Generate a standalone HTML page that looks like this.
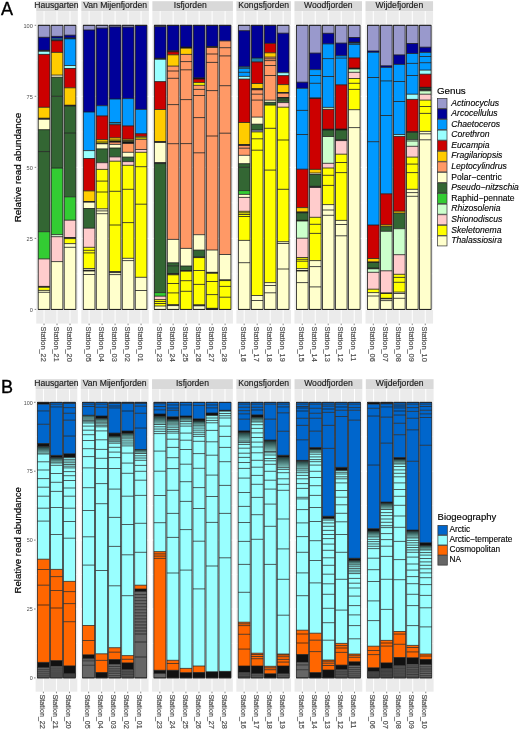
<!DOCTYPE html>
<html><head><meta charset="utf-8"><style>
html,body{margin:0;padding:0;background:#fff;}
svg{display:block;filter:blur(0.4px);}
text{font-family:'Liberation Sans', sans-serif;}
.st{font-size:8.6px;fill:#1a1a1a;stroke:#1a1a1a;stroke-width:0.15px;text-anchor:middle;}
.xl{font-size:7.4px;fill:#4d4d4d;stroke:#4d4d4d;stroke-width:0.18px;}
.yl{font-size:5.6px;fill:#4d4d4d;text-anchor:end;}
.lt{font-size:9.8px;fill:#000;stroke:#000;stroke-width:0.15px;}
.li{font-size:8.6px;fill:#000;stroke:#000;stroke-width:0.12px;}
.it{font-style:italic;}
.lb{font-size:8.3px;}
.lbt{font-size:9.5px;}
.tag{font-size:18px;fill:#000;stroke:#000;stroke-width:0.35px;}
.yt{font-size:9.3px;fill:#000;text-anchor:middle;stroke:#000;stroke-width:0.2px;}
.olA{stroke:#1a1a1a;stroke-width:0.8;fill:none;}
.olB{stroke:#1a1a1a;stroke-width:0.7;fill:none;}
</style></head><body>
<svg width="520" height="730" viewBox="0 0 520 730">
<defs><linearGradient id="tg" x1="0" y1="0" x2="0" y2="1"><stop offset="0" stop-color="#1e3a38"/><stop offset="1" stop-color="#7cc0bc"/></linearGradient></defs>
<rect width="520" height="730" fill="#fff"/>
<rect x="36.25" y="1.2" width="41.57" height="9.9" fill="#d9d9d9"/>
<text x="56.43" y="7.8" class="st">Hausgarten</text>
<rect x="36.25" y="11.1" width="41.57" height="312.5" fill="#ebebeb"/>
<line x1="36.25" x2="77.82" y1="273.89" y2="273.89" stroke="#fff" stroke-width="0.5"/>
<line x1="36.25" x2="77.82" y1="202.86" y2="202.86" stroke="#fff" stroke-width="0.5"/>
<line x1="36.25" x2="77.82" y1="131.84" y2="131.84" stroke="#fff" stroke-width="0.5"/>
<line x1="36.25" x2="77.82" y1="60.81" y2="60.81" stroke="#fff" stroke-width="0.5"/>
<line x1="36.25" x2="77.82" y1="309.4" y2="309.4" stroke="#fff" stroke-width="1"/>
<line x1="36.25" x2="77.82" y1="238.38" y2="238.38" stroke="#fff" stroke-width="1"/>
<line x1="36.25" x2="77.82" y1="167.35" y2="167.35" stroke="#fff" stroke-width="1"/>
<line x1="36.25" x2="77.82" y1="96.32" y2="96.32" stroke="#fff" stroke-width="1"/>
<line x1="36.25" x2="77.82" y1="25.3" y2="25.3" stroke="#fff" stroke-width="1"/>
<line x1="44.04" x2="44.04" y1="11.1" y2="323.6" stroke="#fff" stroke-width="1"/>
<line x1="57.03" x2="57.03" y1="11.1" y2="323.6" stroke="#fff" stroke-width="1"/>
<line x1="70.02" x2="70.02" y1="11.1" y2="323.6" stroke="#fff" stroke-width="1"/>
<rect x="38.2" y="25.3" width="11.69" height="12" fill="#9999cc"/>
<rect x="38.2" y="37.3" width="11.69" height="13" fill="#000099"/>
<rect x="38.2" y="50.3" width="11.69" height="1" fill="#111111"/>
<rect x="38.2" y="51.3" width="11.69" height="3.1" fill="#99ffff"/>
<rect x="38.2" y="54.4" width="11.69" height="52.9" fill="#cc0000"/>
<rect x="38.2" y="107.3" width="11.69" height="10.9" fill="#ffcc00"/>
<rect x="38.2" y="118.2" width="11.69" height="1.1" fill="#111111"/>
<rect x="38.2" y="119.3" width="11.69" height="10.4" fill="#ffffcc"/>
<rect x="38.2" y="129.7" width="11.69" height="21.9" fill="#336633"/>
<rect x="38.2" y="151.6" width="11.69" height="80.1" fill="#336633"/>
<rect x="38.2" y="231.7" width="11.69" height="27.2" fill="#33cc33"/>
<rect x="38.2" y="258.9" width="11.69" height="27.5" fill="#ffcccc"/>
<rect x="38.2" y="286.4" width="11.69" height="0.9" fill="#111111"/>
<rect x="38.2" y="287.3" width="11.69" height="3.1" fill="#ffff00"/>
<rect x="38.2" y="290.4" width="11.69" height="1.9" fill="#ffffcc"/>
<rect x="38.2" y="292.3" width="11.69" height="17.1" fill="#ffffcc"/>
<line x1="38.2" x2="49.89" y1="25.3" y2="25.3" class="olA"/>
<line x1="38.2" x2="49.89" y1="37.3" y2="37.3" class="olA"/>
<line x1="38.2" x2="49.89" y1="50.3" y2="50.3" class="olA"/>
<line x1="38.2" x2="49.89" y1="51.3" y2="51.3" class="olA"/>
<line x1="38.2" x2="49.89" y1="54.4" y2="54.4" class="olA"/>
<line x1="38.2" x2="49.89" y1="107.3" y2="107.3" class="olA"/>
<line x1="38.2" x2="49.89" y1="118.2" y2="118.2" class="olA"/>
<line x1="38.2" x2="49.89" y1="119.3" y2="119.3" class="olA"/>
<line x1="38.2" x2="49.89" y1="129.7" y2="129.7" class="olA"/>
<line x1="38.2" x2="49.89" y1="151.6" y2="151.6" class="olA"/>
<line x1="38.2" x2="49.89" y1="231.7" y2="231.7" class="olA"/>
<line x1="38.2" x2="49.89" y1="258.9" y2="258.9" class="olA"/>
<line x1="38.2" x2="49.89" y1="286.4" y2="286.4" class="olA"/>
<line x1="38.2" x2="49.89" y1="287.3" y2="287.3" class="olA"/>
<line x1="38.2" x2="49.89" y1="290.4" y2="290.4" class="olA"/>
<line x1="38.2" x2="49.89" y1="292.3" y2="292.3" class="olA"/>
<line x1="38.2" x2="49.89" y1="309.4" y2="309.4" class="olA"/>
<rect x="38.2" y="25.3" width="11.69" height="284.1" fill="none" class="olA"/>
<line x1="44.04" x2="44.04" y1="323.6" y2="325.2" stroke="#333" stroke-width="0.6"/>
<text class="xl" style="font-size:7.4px" transform="translate(40.84,326.5) rotate(90)">Station_22</text>
<rect x="51.19" y="25.3" width="11.69" height="11.1" fill="#9999cc"/>
<rect x="51.19" y="36.4" width="11.69" height="1.8" fill="#000099"/>
<rect x="51.19" y="38.2" width="11.69" height="1.6" fill="#0099ff"/>
<rect x="51.19" y="39.8" width="11.69" height="0.9" fill="#111111"/>
<rect x="51.19" y="40.7" width="11.69" height="11.7" fill="#cc0000"/>
<rect x="51.19" y="52.4" width="11.69" height="22.7" fill="#ffcc00"/>
<rect x="51.19" y="75.1" width="11.69" height="2.1" fill="#ffffcc"/>
<rect x="51.19" y="77.2" width="11.69" height="19.1" fill="#336633"/>
<rect x="51.19" y="96.3" width="11.69" height="71.8" fill="#336633"/>
<rect x="51.19" y="168.1" width="11.69" height="66.5" fill="#33cc33"/>
<rect x="51.19" y="234.6" width="11.69" height="2.1" fill="#ccffcc"/>
<rect x="51.19" y="236.7" width="11.69" height="24.9" fill="#ffcccc"/>
<rect x="51.19" y="261.6" width="11.69" height="47.8" fill="#ffffcc"/>
<line x1="51.19" x2="62.88" y1="25.3" y2="25.3" class="olA"/>
<line x1="51.19" x2="62.88" y1="36.4" y2="36.4" class="olA"/>
<line x1="51.19" x2="62.88" y1="38.2" y2="38.2" class="olA"/>
<line x1="51.19" x2="62.88" y1="39.8" y2="39.8" class="olA"/>
<line x1="51.19" x2="62.88" y1="40.7" y2="40.7" class="olA"/>
<line x1="51.19" x2="62.88" y1="52.4" y2="52.4" class="olA"/>
<line x1="51.19" x2="62.88" y1="75.1" y2="75.1" class="olA"/>
<line x1="51.19" x2="62.88" y1="77.2" y2="77.2" class="olA"/>
<line x1="51.19" x2="62.88" y1="96.3" y2="96.3" class="olA"/>
<line x1="51.19" x2="62.88" y1="168.1" y2="168.1" class="olA"/>
<line x1="51.19" x2="62.88" y1="234.6" y2="234.6" class="olA"/>
<line x1="51.19" x2="62.88" y1="236.7" y2="236.7" class="olA"/>
<line x1="51.19" x2="62.88" y1="261.6" y2="261.6" class="olA"/>
<line x1="51.19" x2="62.88" y1="309.4" y2="309.4" class="olA"/>
<rect x="51.19" y="25.3" width="11.69" height="284.1" fill="none" class="olA"/>
<line x1="57.03" x2="57.03" y1="323.6" y2="325.2" stroke="#333" stroke-width="0.6"/>
<text class="xl" style="font-size:7.4px" transform="translate(53.83,326.5) rotate(90)">Station_21</text>
<rect x="64.18" y="25.3" width="11.69" height="9.9" fill="#9999cc"/>
<rect x="64.18" y="35.2" width="11.69" height="2.7" fill="#000099"/>
<rect x="64.18" y="37.9" width="11.69" height="0.9" fill="#111111"/>
<rect x="64.18" y="38.8" width="11.69" height="26.7" fill="#0099ff"/>
<rect x="64.18" y="65.5" width="11.69" height="3" fill="#99ffff"/>
<rect x="64.18" y="68.5" width="11.69" height="19.3" fill="#cc0000"/>
<rect x="64.18" y="87.8" width="11.69" height="17.4" fill="#ffcc00"/>
<rect x="64.18" y="105.2" width="11.69" height="0.8" fill="#111111"/>
<rect x="64.18" y="106" width="11.69" height="27.1" fill="#336633"/>
<rect x="64.18" y="133.1" width="11.69" height="63.7" fill="#336633"/>
<rect x="64.18" y="196.8" width="11.69" height="23.4" fill="#33cc33"/>
<rect x="64.18" y="220.2" width="11.69" height="17.3" fill="#ffcccc"/>
<rect x="64.18" y="237.5" width="11.69" height="1.1" fill="#111111"/>
<rect x="64.18" y="238.6" width="11.69" height="5" fill="#ffff00"/>
<rect x="64.18" y="243.6" width="11.69" height="3.7" fill="#ffffcc"/>
<rect x="64.18" y="247.3" width="11.69" height="62.1" fill="#ffffcc"/>
<line x1="64.18" x2="75.87" y1="25.3" y2="25.3" class="olA"/>
<line x1="64.18" x2="75.87" y1="35.2" y2="35.2" class="olA"/>
<line x1="64.18" x2="75.87" y1="37.9" y2="37.9" class="olA"/>
<line x1="64.18" x2="75.87" y1="38.8" y2="38.8" class="olA"/>
<line x1="64.18" x2="75.87" y1="65.5" y2="65.5" class="olA"/>
<line x1="64.18" x2="75.87" y1="68.5" y2="68.5" class="olA"/>
<line x1="64.18" x2="75.87" y1="87.8" y2="87.8" class="olA"/>
<line x1="64.18" x2="75.87" y1="105.2" y2="105.2" class="olA"/>
<line x1="64.18" x2="75.87" y1="106" y2="106" class="olA"/>
<line x1="64.18" x2="75.87" y1="133.1" y2="133.1" class="olA"/>
<line x1="64.18" x2="75.87" y1="196.8" y2="196.8" class="olA"/>
<line x1="64.18" x2="75.87" y1="220.2" y2="220.2" class="olA"/>
<line x1="64.18" x2="75.87" y1="237.5" y2="237.5" class="olA"/>
<line x1="64.18" x2="75.87" y1="238.6" y2="238.6" class="olA"/>
<line x1="64.18" x2="75.87" y1="243.6" y2="243.6" class="olA"/>
<line x1="64.18" x2="75.87" y1="247.3" y2="247.3" class="olA"/>
<line x1="64.18" x2="75.87" y1="309.4" y2="309.4" class="olA"/>
<rect x="64.18" y="25.3" width="11.69" height="284.1" fill="none" class="olA"/>
<line x1="70.02" x2="70.02" y1="323.6" y2="325.2" stroke="#333" stroke-width="0.6"/>
<text class="xl" style="font-size:7.4px" transform="translate(66.82,326.5) rotate(90)">Station_20</text>
<rect x="81.32" y="1.2" width="67.55" height="9.9" fill="#d9d9d9"/>
<text x="115.09" y="7.8" class="st">Van Mijenfjorden</text>
<rect x="81.32" y="11.1" width="67.55" height="312.5" fill="#ebebeb"/>
<line x1="81.32" x2="148.87" y1="273.89" y2="273.89" stroke="#fff" stroke-width="0.5"/>
<line x1="81.32" x2="148.87" y1="202.86" y2="202.86" stroke="#fff" stroke-width="0.5"/>
<line x1="81.32" x2="148.87" y1="131.84" y2="131.84" stroke="#fff" stroke-width="0.5"/>
<line x1="81.32" x2="148.87" y1="60.81" y2="60.81" stroke="#fff" stroke-width="0.5"/>
<line x1="81.32" x2="148.87" y1="309.4" y2="309.4" stroke="#fff" stroke-width="1"/>
<line x1="81.32" x2="148.87" y1="238.38" y2="238.38" stroke="#fff" stroke-width="1"/>
<line x1="81.32" x2="148.87" y1="167.35" y2="167.35" stroke="#fff" stroke-width="1"/>
<line x1="81.32" x2="148.87" y1="96.32" y2="96.32" stroke="#fff" stroke-width="1"/>
<line x1="81.32" x2="148.87" y1="25.3" y2="25.3" stroke="#fff" stroke-width="1"/>
<line x1="89.11" x2="89.11" y1="11.1" y2="323.6" stroke="#fff" stroke-width="1"/>
<line x1="102.1" x2="102.1" y1="11.1" y2="323.6" stroke="#fff" stroke-width="1"/>
<line x1="115.09" x2="115.09" y1="11.1" y2="323.6" stroke="#fff" stroke-width="1"/>
<line x1="128.08" x2="128.08" y1="11.1" y2="323.6" stroke="#fff" stroke-width="1"/>
<line x1="141.07" x2="141.07" y1="11.1" y2="323.6" stroke="#fff" stroke-width="1"/>
<rect x="83.27" y="25.3" width="11.69" height="4.7" fill="#9999cc"/>
<rect x="83.27" y="30" width="11.69" height="82" fill="#000099"/>
<rect x="83.27" y="112" width="11.69" height="38.6" fill="#0099ff"/>
<rect x="83.27" y="150.6" width="11.69" height="7.9" fill="#99ffff"/>
<rect x="83.27" y="158.5" width="11.69" height="32.4" fill="#cc0000"/>
<rect x="83.27" y="190.9" width="11.69" height="10.6" fill="#ffcc00"/>
<rect x="83.27" y="201.5" width="11.69" height="0.7" fill="#111111"/>
<rect x="83.27" y="202.2" width="11.69" height="6.3" fill="#ffffcc"/>
<rect x="83.27" y="208.5" width="11.69" height="19.7" fill="#336633"/>
<rect x="83.27" y="228.2" width="11.69" height="19.1" fill="#ffcccc"/>
<rect x="83.27" y="247.3" width="11.69" height="3" fill="#ffff00"/>
<rect x="83.27" y="250.3" width="11.69" height="2.6" fill="#ffff00"/>
<rect x="83.27" y="252.9" width="11.69" height="15.6" fill="#ffff00"/>
<rect x="83.27" y="268.5" width="11.69" height="1.7" fill="#ffffcc"/>
<rect x="83.27" y="270.2" width="11.69" height="0.8" fill="#111111"/>
<rect x="83.27" y="271" width="11.69" height="3.5" fill="#ffffcc"/>
<rect x="83.27" y="274.5" width="11.69" height="34.9" fill="#ffffcc"/>
<line x1="83.27" x2="94.96" y1="25.3" y2="25.3" class="olA"/>
<line x1="83.27" x2="94.96" y1="30" y2="30" class="olA"/>
<line x1="83.27" x2="94.96" y1="112" y2="112" class="olA"/>
<line x1="83.27" x2="94.96" y1="150.6" y2="150.6" class="olA"/>
<line x1="83.27" x2="94.96" y1="158.5" y2="158.5" class="olA"/>
<line x1="83.27" x2="94.96" y1="190.9" y2="190.9" class="olA"/>
<line x1="83.27" x2="94.96" y1="201.5" y2="201.5" class="olA"/>
<line x1="83.27" x2="94.96" y1="202.2" y2="202.2" class="olA"/>
<line x1="83.27" x2="94.96" y1="208.5" y2="208.5" class="olA"/>
<line x1="83.27" x2="94.96" y1="228.2" y2="228.2" class="olA"/>
<line x1="83.27" x2="94.96" y1="247.3" y2="247.3" class="olA"/>
<line x1="83.27" x2="94.96" y1="250.3" y2="250.3" class="olA"/>
<line x1="83.27" x2="94.96" y1="252.9" y2="252.9" class="olA"/>
<line x1="83.27" x2="94.96" y1="268.5" y2="268.5" class="olA"/>
<line x1="83.27" x2="94.96" y1="270.2" y2="270.2" class="olA"/>
<line x1="83.27" x2="94.96" y1="271" y2="271" class="olA"/>
<line x1="83.27" x2="94.96" y1="274.5" y2="274.5" class="olA"/>
<line x1="83.27" x2="94.96" y1="309.4" y2="309.4" class="olA"/>
<rect x="83.27" y="25.3" width="11.69" height="284.1" fill="none" class="olA"/>
<line x1="89.11" x2="89.11" y1="323.6" y2="325.2" stroke="#333" stroke-width="0.6"/>
<text class="xl" style="font-size:7.4px" transform="translate(85.91,326.5) rotate(90)">Station_05</text>
<rect x="96.26" y="25.3" width="11.69" height="2.8" fill="#9999cc"/>
<rect x="96.26" y="28.1" width="11.69" height="77.6" fill="#000099"/>
<rect x="96.26" y="105.7" width="11.69" height="10.2" fill="#0099ff"/>
<rect x="96.26" y="115.9" width="11.69" height="23.7" fill="#cc0000"/>
<rect x="96.26" y="139.6" width="11.69" height="2.4" fill="#ffcc00"/>
<rect x="96.26" y="142" width="11.69" height="1.2" fill="#ffff00"/>
<rect x="96.26" y="143.2" width="11.69" height="0.6" fill="#111111"/>
<rect x="96.26" y="143.8" width="11.69" height="5.1" fill="#ffffcc"/>
<rect x="96.26" y="148.9" width="11.69" height="13.8" fill="#336633"/>
<rect x="96.26" y="162.7" width="11.69" height="6.7" fill="#ffcccc"/>
<rect x="96.26" y="169.4" width="11.69" height="11.7" fill="#ffff00"/>
<rect x="96.26" y="181.1" width="11.69" height="10.9" fill="#ffff00"/>
<rect x="96.26" y="192" width="11.69" height="16.8" fill="#ffff00"/>
<rect x="96.26" y="208.8" width="11.69" height="2.1" fill="#ffffcc"/>
<rect x="96.26" y="210.9" width="11.69" height="2.8" fill="#ffffcc"/>
<rect x="96.26" y="213.7" width="11.69" height="95.7" fill="#ffffcc"/>
<line x1="96.26" x2="107.95" y1="25.3" y2="25.3" class="olA"/>
<line x1="96.26" x2="107.95" y1="28.1" y2="28.1" class="olA"/>
<line x1="96.26" x2="107.95" y1="105.7" y2="105.7" class="olA"/>
<line x1="96.26" x2="107.95" y1="115.9" y2="115.9" class="olA"/>
<line x1="96.26" x2="107.95" y1="139.6" y2="139.6" class="olA"/>
<line x1="96.26" x2="107.95" y1="142" y2="142" class="olA"/>
<line x1="96.26" x2="107.95" y1="143.2" y2="143.2" class="olA"/>
<line x1="96.26" x2="107.95" y1="143.8" y2="143.8" class="olA"/>
<line x1="96.26" x2="107.95" y1="148.9" y2="148.9" class="olA"/>
<line x1="96.26" x2="107.95" y1="162.7" y2="162.7" class="olA"/>
<line x1="96.26" x2="107.95" y1="169.4" y2="169.4" class="olA"/>
<line x1="96.26" x2="107.95" y1="181.1" y2="181.1" class="olA"/>
<line x1="96.26" x2="107.95" y1="192" y2="192" class="olA"/>
<line x1="96.26" x2="107.95" y1="208.8" y2="208.8" class="olA"/>
<line x1="96.26" x2="107.95" y1="210.9" y2="210.9" class="olA"/>
<line x1="96.26" x2="107.95" y1="213.7" y2="213.7" class="olA"/>
<line x1="96.26" x2="107.95" y1="309.4" y2="309.4" class="olA"/>
<rect x="96.26" y="25.3" width="11.69" height="284.1" fill="none" class="olA"/>
<line x1="102.1" x2="102.1" y1="323.6" y2="325.2" stroke="#333" stroke-width="0.6"/>
<text class="xl" style="font-size:7.4px" transform="translate(98.9,326.5) rotate(90)">Station_04</text>
<rect x="109.25" y="25.3" width="11.69" height="1.6" fill="#9999cc"/>
<rect x="109.25" y="26.9" width="11.69" height="72.1" fill="#000099"/>
<rect x="109.25" y="99" width="11.69" height="23.5" fill="#0099ff"/>
<rect x="109.25" y="122.5" width="11.69" height="2.2" fill="#1a80aa"/>
<rect x="109.25" y="124.7" width="11.69" height="13.1" fill="#cc0000"/>
<rect x="109.25" y="137.8" width="11.69" height="2.2" fill="#ffcc00"/>
<rect x="109.25" y="140" width="11.69" height="1" fill="#ffff00"/>
<rect x="109.25" y="141" width="11.69" height="1.2" fill="#111111"/>
<rect x="109.25" y="142.2" width="11.69" height="2.2" fill="#ff9966"/>
<rect x="109.25" y="144.4" width="11.69" height="3.6" fill="#ffffcc"/>
<rect x="109.25" y="148" width="11.69" height="8.9" fill="#336633"/>
<rect x="109.25" y="156.9" width="11.69" height="4.3" fill="#ffcccc"/>
<rect x="109.25" y="161.2" width="11.69" height="30.1" fill="#ffff00"/>
<rect x="109.25" y="191.3" width="11.69" height="33.7" fill="#ffff00"/>
<rect x="109.25" y="225" width="11.69" height="46.6" fill="#ffff00"/>
<rect x="109.25" y="271.6" width="11.69" height="1" fill="#111111"/>
<rect x="109.25" y="272.6" width="11.69" height="2" fill="#ffffcc"/>
<rect x="109.25" y="274.6" width="11.69" height="34.8" fill="#ffffcc"/>
<line x1="109.25" x2="120.94" y1="25.3" y2="25.3" class="olA"/>
<line x1="109.25" x2="120.94" y1="26.9" y2="26.9" class="olA"/>
<line x1="109.25" x2="120.94" y1="99" y2="99" class="olA"/>
<line x1="109.25" x2="120.94" y1="122.5" y2="122.5" class="olA"/>
<line x1="109.25" x2="120.94" y1="124.7" y2="124.7" class="olA"/>
<line x1="109.25" x2="120.94" y1="137.8" y2="137.8" class="olA"/>
<line x1="109.25" x2="120.94" y1="140" y2="140" class="olA"/>
<line x1="109.25" x2="120.94" y1="141" y2="141" class="olA"/>
<line x1="109.25" x2="120.94" y1="142.2" y2="142.2" class="olA"/>
<line x1="109.25" x2="120.94" y1="144.4" y2="144.4" class="olA"/>
<line x1="109.25" x2="120.94" y1="148" y2="148" class="olA"/>
<line x1="109.25" x2="120.94" y1="156.9" y2="156.9" class="olA"/>
<line x1="109.25" x2="120.94" y1="161.2" y2="161.2" class="olA"/>
<line x1="109.25" x2="120.94" y1="191.3" y2="191.3" class="olA"/>
<line x1="109.25" x2="120.94" y1="225" y2="225" class="olA"/>
<line x1="109.25" x2="120.94" y1="271.6" y2="271.6" class="olA"/>
<line x1="109.25" x2="120.94" y1="272.6" y2="272.6" class="olA"/>
<line x1="109.25" x2="120.94" y1="274.6" y2="274.6" class="olA"/>
<line x1="109.25" x2="120.94" y1="309.4" y2="309.4" class="olA"/>
<rect x="109.25" y="25.3" width="11.69" height="284.1" fill="none" class="olA"/>
<line x1="115.09" x2="115.09" y1="323.6" y2="325.2" stroke="#333" stroke-width="0.6"/>
<text class="xl" style="font-size:7.4px" transform="translate(111.89,326.5) rotate(90)">Station_03</text>
<rect x="122.24" y="25.3" width="11.69" height="1.8" fill="#9999cc"/>
<rect x="122.24" y="27.1" width="11.69" height="71.5" fill="#000099"/>
<rect x="122.24" y="98.6" width="11.69" height="27.3" fill="#0099ff"/>
<rect x="122.24" y="125.9" width="11.69" height="13.3" fill="#cc0000"/>
<rect x="122.24" y="139.2" width="11.69" height="1.3" fill="#ffcc00"/>
<rect x="122.24" y="140.5" width="11.69" height="1.1" fill="#ffff00"/>
<rect x="122.24" y="141.6" width="11.69" height="1.9" fill="#111111"/>
<rect x="122.24" y="143.5" width="11.69" height="8.8" fill="#ff9966"/>
<rect x="122.24" y="152.3" width="11.69" height="4.8" fill="#ffffcc"/>
<rect x="122.24" y="157.1" width="11.69" height="4.5" fill="#336633"/>
<rect x="122.24" y="161.6" width="11.69" height="3.7" fill="#ffcccc"/>
<rect x="122.24" y="165.3" width="11.69" height="24" fill="#ffff00"/>
<rect x="122.24" y="189.3" width="11.69" height="33.3" fill="#ffff00"/>
<rect x="122.24" y="222.6" width="11.69" height="35.7" fill="#ffff00"/>
<rect x="122.24" y="258.3" width="11.69" height="2.3" fill="#ffffcc"/>
<rect x="122.24" y="260.6" width="11.69" height="48.8" fill="#ffffcc"/>
<line x1="122.24" x2="133.93" y1="25.3" y2="25.3" class="olA"/>
<line x1="122.24" x2="133.93" y1="27.1" y2="27.1" class="olA"/>
<line x1="122.24" x2="133.93" y1="98.6" y2="98.6" class="olA"/>
<line x1="122.24" x2="133.93" y1="125.9" y2="125.9" class="olA"/>
<line x1="122.24" x2="133.93" y1="139.2" y2="139.2" class="olA"/>
<line x1="122.24" x2="133.93" y1="140.5" y2="140.5" class="olA"/>
<line x1="122.24" x2="133.93" y1="141.6" y2="141.6" class="olA"/>
<line x1="122.24" x2="133.93" y1="143.5" y2="143.5" class="olA"/>
<line x1="122.24" x2="133.93" y1="152.3" y2="152.3" class="olA"/>
<line x1="122.24" x2="133.93" y1="157.1" y2="157.1" class="olA"/>
<line x1="122.24" x2="133.93" y1="161.6" y2="161.6" class="olA"/>
<line x1="122.24" x2="133.93" y1="165.3" y2="165.3" class="olA"/>
<line x1="122.24" x2="133.93" y1="189.3" y2="189.3" class="olA"/>
<line x1="122.24" x2="133.93" y1="222.6" y2="222.6" class="olA"/>
<line x1="122.24" x2="133.93" y1="258.3" y2="258.3" class="olA"/>
<line x1="122.24" x2="133.93" y1="260.6" y2="260.6" class="olA"/>
<line x1="122.24" x2="133.93" y1="309.4" y2="309.4" class="olA"/>
<rect x="122.24" y="25.3" width="11.69" height="284.1" fill="none" class="olA"/>
<line x1="128.08" x2="128.08" y1="323.6" y2="325.2" stroke="#333" stroke-width="0.6"/>
<text class="xl" style="font-size:7.4px" transform="translate(124.88,326.5) rotate(90)">Station_02</text>
<rect x="135.23" y="25.3" width="11.69" height="84.1" fill="#000099"/>
<rect x="135.23" y="109.4" width="11.69" height="24.3" fill="#0099ff"/>
<rect x="135.23" y="133.7" width="11.69" height="2.7" fill="#cc0000"/>
<rect x="135.23" y="136.4" width="11.69" height="1.4" fill="#ffcc00"/>
<rect x="135.23" y="137.8" width="11.69" height="1.5" fill="#ffff00"/>
<rect x="135.23" y="139.3" width="11.69" height="10.2" fill="#ff9966"/>
<rect x="135.23" y="149.5" width="11.69" height="2.8" fill="#ffcccc"/>
<rect x="135.23" y="152.3" width="11.69" height="14.4" fill="#ffff00"/>
<rect x="135.23" y="166.7" width="11.69" height="37.5" fill="#ffff00"/>
<rect x="135.23" y="204.2" width="11.69" height="73.1" fill="#ffff00"/>
<rect x="135.23" y="277.3" width="11.69" height="13.2" fill="#ffffcc"/>
<rect x="135.23" y="290.5" width="11.69" height="18.9" fill="#ffffcc"/>
<line x1="135.23" x2="146.92" y1="25.3" y2="25.3" class="olA"/>
<line x1="135.23" x2="146.92" y1="109.4" y2="109.4" class="olA"/>
<line x1="135.23" x2="146.92" y1="133.7" y2="133.7" class="olA"/>
<line x1="135.23" x2="146.92" y1="136.4" y2="136.4" class="olA"/>
<line x1="135.23" x2="146.92" y1="137.8" y2="137.8" class="olA"/>
<line x1="135.23" x2="146.92" y1="139.3" y2="139.3" class="olA"/>
<line x1="135.23" x2="146.92" y1="149.5" y2="149.5" class="olA"/>
<line x1="135.23" x2="146.92" y1="152.3" y2="152.3" class="olA"/>
<line x1="135.23" x2="146.92" y1="166.7" y2="166.7" class="olA"/>
<line x1="135.23" x2="146.92" y1="204.2" y2="204.2" class="olA"/>
<line x1="135.23" x2="146.92" y1="277.3" y2="277.3" class="olA"/>
<line x1="135.23" x2="146.92" y1="290.5" y2="290.5" class="olA"/>
<line x1="135.23" x2="146.92" y1="309.4" y2="309.4" class="olA"/>
<rect x="135.23" y="25.3" width="11.69" height="284.1" fill="none" class="olA"/>
<line x1="141.07" x2="141.07" y1="323.6" y2="325.2" stroke="#333" stroke-width="0.6"/>
<text class="xl" style="font-size:7.4px" transform="translate(137.87,326.5) rotate(90)">Station_01</text>
<rect x="152.37" y="1.2" width="80.54" height="9.9" fill="#d9d9d9"/>
<text x="190.24" y="7.8" class="st">Isfjorden</text>
<rect x="152.37" y="11.1" width="80.54" height="312.5" fill="#ebebeb"/>
<line x1="152.37" x2="232.9" y1="273.89" y2="273.89" stroke="#fff" stroke-width="0.5"/>
<line x1="152.37" x2="232.9" y1="202.86" y2="202.86" stroke="#fff" stroke-width="0.5"/>
<line x1="152.37" x2="232.9" y1="131.84" y2="131.84" stroke="#fff" stroke-width="0.5"/>
<line x1="152.37" x2="232.9" y1="60.81" y2="60.81" stroke="#fff" stroke-width="0.5"/>
<line x1="152.37" x2="232.9" y1="309.4" y2="309.4" stroke="#fff" stroke-width="1"/>
<line x1="152.37" x2="232.9" y1="238.38" y2="238.38" stroke="#fff" stroke-width="1"/>
<line x1="152.37" x2="232.9" y1="167.35" y2="167.35" stroke="#fff" stroke-width="1"/>
<line x1="152.37" x2="232.9" y1="96.32" y2="96.32" stroke="#fff" stroke-width="1"/>
<line x1="152.37" x2="232.9" y1="25.3" y2="25.3" stroke="#fff" stroke-width="1"/>
<line x1="160.16" x2="160.16" y1="11.1" y2="323.6" stroke="#fff" stroke-width="1"/>
<line x1="173.15" x2="173.15" y1="11.1" y2="323.6" stroke="#fff" stroke-width="1"/>
<line x1="186.14" x2="186.14" y1="11.1" y2="323.6" stroke="#fff" stroke-width="1"/>
<line x1="199.13" x2="199.13" y1="11.1" y2="323.6" stroke="#fff" stroke-width="1"/>
<line x1="212.12" x2="212.12" y1="11.1" y2="323.6" stroke="#fff" stroke-width="1"/>
<line x1="225.11" x2="225.11" y1="11.1" y2="323.6" stroke="#fff" stroke-width="1"/>
<rect x="154.31" y="25.3" width="11.69" height="1.3" fill="#9999cc"/>
<rect x="154.31" y="26.6" width="11.69" height="31.7" fill="#000099"/>
<rect x="154.31" y="58.3" width="11.69" height="1" fill="#111111"/>
<rect x="154.31" y="59.3" width="11.69" height="22.3" fill="#99ffff"/>
<rect x="154.31" y="81.6" width="11.69" height="27.9" fill="#cc0000"/>
<rect x="154.31" y="109.5" width="11.69" height="32" fill="#ffcc00"/>
<rect x="154.31" y="141.5" width="11.69" height="1" fill="#111111"/>
<rect x="154.31" y="142.5" width="11.69" height="20.1" fill="#ffffcc"/>
<rect x="154.31" y="162.6" width="11.69" height="1" fill="#111111"/>
<rect x="154.31" y="163.6" width="11.69" height="129" fill="#336633"/>
<rect x="154.31" y="292.6" width="11.69" height="3.6" fill="#33cc33"/>
<rect x="154.31" y="296.2" width="11.69" height="3.4" fill="#ffcccc"/>
<rect x="154.31" y="299.6" width="11.69" height="1.9" fill="#ffff00"/>
<rect x="154.31" y="301.5" width="11.69" height="2" fill="#ffff00"/>
<rect x="154.31" y="303.5" width="11.69" height="2.5" fill="#ffff00"/>
<rect x="154.31" y="306" width="11.69" height="3.4" fill="#ffffcc"/>
<line x1="154.31" x2="166.01" y1="25.3" y2="25.3" class="olA"/>
<line x1="154.31" x2="166.01" y1="26.6" y2="26.6" class="olA"/>
<line x1="154.31" x2="166.01" y1="58.3" y2="58.3" class="olA"/>
<line x1="154.31" x2="166.01" y1="59.3" y2="59.3" class="olA"/>
<line x1="154.31" x2="166.01" y1="81.6" y2="81.6" class="olA"/>
<line x1="154.31" x2="166.01" y1="109.5" y2="109.5" class="olA"/>
<line x1="154.31" x2="166.01" y1="141.5" y2="141.5" class="olA"/>
<line x1="154.31" x2="166.01" y1="142.5" y2="142.5" class="olA"/>
<line x1="154.31" x2="166.01" y1="162.6" y2="162.6" class="olA"/>
<line x1="154.31" x2="166.01" y1="163.6" y2="163.6" class="olA"/>
<line x1="154.31" x2="166.01" y1="292.6" y2="292.6" class="olA"/>
<line x1="154.31" x2="166.01" y1="296.2" y2="296.2" class="olA"/>
<line x1="154.31" x2="166.01" y1="299.6" y2="299.6" class="olA"/>
<line x1="154.31" x2="166.01" y1="301.5" y2="301.5" class="olA"/>
<line x1="154.31" x2="166.01" y1="303.5" y2="303.5" class="olA"/>
<line x1="154.31" x2="166.01" y1="306" y2="306" class="olA"/>
<line x1="154.31" x2="166.01" y1="309.4" y2="309.4" class="olA"/>
<rect x="154.31" y="25.3" width="11.69" height="284.1" fill="none" class="olA"/>
<line x1="160.16" x2="160.16" y1="323.6" y2="325.2" stroke="#333" stroke-width="0.6"/>
<text class="xl" style="font-size:7.4px" transform="translate(156.96,326.5) rotate(90)">Station_23</text>
<rect x="167.3" y="25.3" width="11.69" height="25.5" fill="#000099"/>
<rect x="167.3" y="50.8" width="11.69" height="1" fill="#111111"/>
<rect x="167.3" y="51.8" width="11.69" height="3" fill="#cc0000"/>
<rect x="167.3" y="54.8" width="11.69" height="11.3" fill="#ffcc00"/>
<rect x="167.3" y="66.1" width="11.69" height="4.9" fill="#ff9966"/>
<rect x="167.3" y="71" width="11.69" height="7.3" fill="#ff9966"/>
<rect x="167.3" y="78.3" width="11.69" height="26.3" fill="#ff9966"/>
<rect x="167.3" y="104.6" width="11.69" height="39.1" fill="#ff9966"/>
<rect x="167.3" y="143.7" width="11.69" height="95.7" fill="#ff9966"/>
<rect x="167.3" y="239.4" width="11.69" height="23.4" fill="#ffffcc"/>
<rect x="167.3" y="262.8" width="11.69" height="3" fill="#336633"/>
<rect x="167.3" y="265.8" width="11.69" height="7.7" fill="#336633"/>
<rect x="167.3" y="273.5" width="11.69" height="1.3" fill="#111111"/>
<rect x="167.3" y="274.8" width="11.69" height="8.7" fill="#ffff00"/>
<rect x="167.3" y="283.5" width="11.69" height="9.4" fill="#ffff00"/>
<rect x="167.3" y="292.9" width="11.69" height="11.8" fill="#ffff00"/>
<rect x="167.3" y="304.7" width="11.69" height="0.9" fill="#111111"/>
<rect x="167.3" y="305.6" width="11.69" height="3.8" fill="#ffffcc"/>
<line x1="167.3" x2="179" y1="25.3" y2="25.3" class="olA"/>
<line x1="167.3" x2="179" y1="50.8" y2="50.8" class="olA"/>
<line x1="167.3" x2="179" y1="51.8" y2="51.8" class="olA"/>
<line x1="167.3" x2="179" y1="54.8" y2="54.8" class="olA"/>
<line x1="167.3" x2="179" y1="66.1" y2="66.1" class="olA"/>
<line x1="167.3" x2="179" y1="71" y2="71" class="olA"/>
<line x1="167.3" x2="179" y1="78.3" y2="78.3" class="olA"/>
<line x1="167.3" x2="179" y1="104.6" y2="104.6" class="olA"/>
<line x1="167.3" x2="179" y1="143.7" y2="143.7" class="olA"/>
<line x1="167.3" x2="179" y1="239.4" y2="239.4" class="olA"/>
<line x1="167.3" x2="179" y1="262.8" y2="262.8" class="olA"/>
<line x1="167.3" x2="179" y1="265.8" y2="265.8" class="olA"/>
<line x1="167.3" x2="179" y1="273.5" y2="273.5" class="olA"/>
<line x1="167.3" x2="179" y1="274.8" y2="274.8" class="olA"/>
<line x1="167.3" x2="179" y1="283.5" y2="283.5" class="olA"/>
<line x1="167.3" x2="179" y1="292.9" y2="292.9" class="olA"/>
<line x1="167.3" x2="179" y1="304.7" y2="304.7" class="olA"/>
<line x1="167.3" x2="179" y1="305.6" y2="305.6" class="olA"/>
<line x1="167.3" x2="179" y1="309.4" y2="309.4" class="olA"/>
<rect x="167.3" y="25.3" width="11.69" height="284.1" fill="none" class="olA"/>
<line x1="173.15" x2="173.15" y1="323.6" y2="325.2" stroke="#333" stroke-width="0.6"/>
<text class="xl" style="font-size:7.4px" transform="translate(169.95,326.5) rotate(90)">Station_24</text>
<rect x="180.29" y="25.3" width="11.69" height="21.7" fill="#000099"/>
<rect x="180.29" y="47" width="11.69" height="1.2" fill="#111111"/>
<rect x="180.29" y="48.2" width="11.69" height="6.2" fill="#ffcc00"/>
<rect x="180.29" y="54.4" width="11.69" height="7.2" fill="#ff9966"/>
<rect x="180.29" y="61.6" width="11.69" height="8.2" fill="#ff9966"/>
<rect x="180.29" y="69.8" width="11.69" height="29.8" fill="#ff9966"/>
<rect x="180.29" y="99.6" width="11.69" height="44" fill="#ff9966"/>
<rect x="180.29" y="143.6" width="11.69" height="104.8" fill="#ff9966"/>
<rect x="180.29" y="248.4" width="11.69" height="17.6" fill="#ffffcc"/>
<rect x="180.29" y="266" width="11.69" height="4.5" fill="#336633"/>
<rect x="180.29" y="270.5" width="11.69" height="0.7" fill="#111111"/>
<rect x="180.29" y="271.2" width="11.69" height="9.5" fill="#ffff00"/>
<rect x="180.29" y="280.7" width="11.69" height="10.6" fill="#ffff00"/>
<rect x="180.29" y="291.3" width="11.69" height="18.1" fill="#ffff00"/>
<line x1="180.29" x2="191.99" y1="25.3" y2="25.3" class="olA"/>
<line x1="180.29" x2="191.99" y1="47" y2="47" class="olA"/>
<line x1="180.29" x2="191.99" y1="48.2" y2="48.2" class="olA"/>
<line x1="180.29" x2="191.99" y1="54.4" y2="54.4" class="olA"/>
<line x1="180.29" x2="191.99" y1="61.6" y2="61.6" class="olA"/>
<line x1="180.29" x2="191.99" y1="69.8" y2="69.8" class="olA"/>
<line x1="180.29" x2="191.99" y1="99.6" y2="99.6" class="olA"/>
<line x1="180.29" x2="191.99" y1="143.6" y2="143.6" class="olA"/>
<line x1="180.29" x2="191.99" y1="248.4" y2="248.4" class="olA"/>
<line x1="180.29" x2="191.99" y1="266" y2="266" class="olA"/>
<line x1="180.29" x2="191.99" y1="270.5" y2="270.5" class="olA"/>
<line x1="180.29" x2="191.99" y1="271.2" y2="271.2" class="olA"/>
<line x1="180.29" x2="191.99" y1="280.7" y2="280.7" class="olA"/>
<line x1="180.29" x2="191.99" y1="291.3" y2="291.3" class="olA"/>
<line x1="180.29" x2="191.99" y1="309.4" y2="309.4" class="olA"/>
<rect x="180.29" y="25.3" width="11.69" height="284.1" fill="none" class="olA"/>
<line x1="186.14" x2="186.14" y1="323.6" y2="325.2" stroke="#333" stroke-width="0.6"/>
<text class="xl" style="font-size:7.4px" transform="translate(182.94,326.5) rotate(90)">Station_25</text>
<rect x="193.28" y="25.3" width="11.69" height="52.6" fill="#000099"/>
<rect x="193.28" y="77.9" width="11.69" height="1.1" fill="#111111"/>
<rect x="193.28" y="79" width="11.69" height="3.6" fill="#cc0000"/>
<rect x="193.28" y="82.6" width="11.69" height="2.7" fill="#ffff00"/>
<rect x="193.28" y="85.3" width="11.69" height="4.1" fill="#ff9966"/>
<rect x="193.28" y="89.4" width="11.69" height="6.1" fill="#ff9966"/>
<rect x="193.28" y="95.5" width="11.69" height="22.1" fill="#ff9966"/>
<rect x="193.28" y="117.6" width="11.69" height="35.2" fill="#ff9966"/>
<rect x="193.28" y="152.8" width="11.69" height="81.9" fill="#ff9966"/>
<rect x="193.28" y="234.7" width="11.69" height="15.4" fill="#ffffcc"/>
<rect x="193.28" y="250.1" width="11.69" height="6.8" fill="#336633"/>
<rect x="193.28" y="256.9" width="11.69" height="0.7" fill="#111111"/>
<rect x="193.28" y="257.6" width="11.69" height="12.9" fill="#ffff00"/>
<rect x="193.28" y="270.5" width="11.69" height="13.9" fill="#ffff00"/>
<rect x="193.28" y="284.4" width="11.69" height="20.4" fill="#ffff00"/>
<rect x="193.28" y="304.8" width="11.69" height="1" fill="#111111"/>
<rect x="193.28" y="305.8" width="11.69" height="3.6" fill="#ffffcc"/>
<line x1="193.28" x2="204.98" y1="25.3" y2="25.3" class="olA"/>
<line x1="193.28" x2="204.98" y1="77.9" y2="77.9" class="olA"/>
<line x1="193.28" x2="204.98" y1="79" y2="79" class="olA"/>
<line x1="193.28" x2="204.98" y1="82.6" y2="82.6" class="olA"/>
<line x1="193.28" x2="204.98" y1="85.3" y2="85.3" class="olA"/>
<line x1="193.28" x2="204.98" y1="89.4" y2="89.4" class="olA"/>
<line x1="193.28" x2="204.98" y1="95.5" y2="95.5" class="olA"/>
<line x1="193.28" x2="204.98" y1="117.6" y2="117.6" class="olA"/>
<line x1="193.28" x2="204.98" y1="152.8" y2="152.8" class="olA"/>
<line x1="193.28" x2="204.98" y1="234.7" y2="234.7" class="olA"/>
<line x1="193.28" x2="204.98" y1="250.1" y2="250.1" class="olA"/>
<line x1="193.28" x2="204.98" y1="256.9" y2="256.9" class="olA"/>
<line x1="193.28" x2="204.98" y1="257.6" y2="257.6" class="olA"/>
<line x1="193.28" x2="204.98" y1="270.5" y2="270.5" class="olA"/>
<line x1="193.28" x2="204.98" y1="284.4" y2="284.4" class="olA"/>
<line x1="193.28" x2="204.98" y1="304.8" y2="304.8" class="olA"/>
<line x1="193.28" x2="204.98" y1="305.8" y2="305.8" class="olA"/>
<line x1="193.28" x2="204.98" y1="309.4" y2="309.4" class="olA"/>
<rect x="193.28" y="25.3" width="11.69" height="284.1" fill="none" class="olA"/>
<line x1="199.13" x2="199.13" y1="323.6" y2="325.2" stroke="#333" stroke-width="0.6"/>
<text class="xl" style="font-size:7.4px" transform="translate(195.93,326.5) rotate(90)">Station_26</text>
<rect x="206.27" y="25.3" width="11.69" height="21.2" fill="#000099"/>
<rect x="206.27" y="46.5" width="11.69" height="1" fill="#111111"/>
<rect x="206.27" y="47.5" width="11.69" height="6.5" fill="#ff9966"/>
<rect x="206.27" y="54" width="11.69" height="8.4" fill="#ff9966"/>
<rect x="206.27" y="62.4" width="11.69" height="28.2" fill="#ff9966"/>
<rect x="206.27" y="90.6" width="11.69" height="45.4" fill="#ff9966"/>
<rect x="206.27" y="136" width="11.69" height="114" fill="#ff9966"/>
<rect x="206.27" y="250" width="11.69" height="22.3" fill="#ffffcc"/>
<rect x="206.27" y="272.3" width="11.69" height="1" fill="#111111"/>
<rect x="206.27" y="273.3" width="11.69" height="8.2" fill="#ffff00"/>
<rect x="206.27" y="281.5" width="11.69" height="13.1" fill="#ffff00"/>
<rect x="206.27" y="294.6" width="11.69" height="13.7" fill="#ffff00"/>
<rect x="206.27" y="308.3" width="11.69" height="1.1" fill="#111111"/>
<line x1="206.27" x2="217.97" y1="25.3" y2="25.3" class="olA"/>
<line x1="206.27" x2="217.97" y1="46.5" y2="46.5" class="olA"/>
<line x1="206.27" x2="217.97" y1="47.5" y2="47.5" class="olA"/>
<line x1="206.27" x2="217.97" y1="54" y2="54" class="olA"/>
<line x1="206.27" x2="217.97" y1="62.4" y2="62.4" class="olA"/>
<line x1="206.27" x2="217.97" y1="90.6" y2="90.6" class="olA"/>
<line x1="206.27" x2="217.97" y1="136" y2="136" class="olA"/>
<line x1="206.27" x2="217.97" y1="250" y2="250" class="olA"/>
<line x1="206.27" x2="217.97" y1="272.3" y2="272.3" class="olA"/>
<line x1="206.27" x2="217.97" y1="273.3" y2="273.3" class="olA"/>
<line x1="206.27" x2="217.97" y1="281.5" y2="281.5" class="olA"/>
<line x1="206.27" x2="217.97" y1="294.6" y2="294.6" class="olA"/>
<line x1="206.27" x2="217.97" y1="308.3" y2="308.3" class="olA"/>
<line x1="206.27" x2="217.97" y1="309.4" y2="309.4" class="olA"/>
<rect x="206.27" y="25.3" width="11.69" height="284.1" fill="none" class="olA"/>
<line x1="212.12" x2="212.12" y1="323.6" y2="325.2" stroke="#333" stroke-width="0.6"/>
<text class="xl" style="font-size:7.4px" transform="translate(208.92,326.5) rotate(90)">Station_27</text>
<rect x="219.26" y="25.3" width="11.69" height="15.6" fill="#000099"/>
<rect x="219.26" y="40.9" width="11.69" height="6.8" fill="#ff9966"/>
<rect x="219.26" y="47.7" width="11.69" height="8.2" fill="#ff9966"/>
<rect x="219.26" y="55.9" width="11.69" height="29.8" fill="#ff9966"/>
<rect x="219.26" y="85.7" width="11.69" height="47.5" fill="#ff9966"/>
<rect x="219.26" y="133.2" width="11.69" height="121.3" fill="#ff9966"/>
<rect x="219.26" y="254.5" width="11.69" height="25.3" fill="#ffffcc"/>
<rect x="219.26" y="279.8" width="11.69" height="0.8" fill="#111111"/>
<rect x="219.26" y="280.6" width="11.69" height="5.8" fill="#ffff00"/>
<rect x="219.26" y="286.4" width="11.69" height="10.8" fill="#ffff00"/>
<rect x="219.26" y="297.2" width="11.69" height="12.2" fill="#ffff00"/>
<line x1="219.26" x2="230.96" y1="25.3" y2="25.3" class="olA"/>
<line x1="219.26" x2="230.96" y1="40.9" y2="40.9" class="olA"/>
<line x1="219.26" x2="230.96" y1="47.7" y2="47.7" class="olA"/>
<line x1="219.26" x2="230.96" y1="55.9" y2="55.9" class="olA"/>
<line x1="219.26" x2="230.96" y1="85.7" y2="85.7" class="olA"/>
<line x1="219.26" x2="230.96" y1="133.2" y2="133.2" class="olA"/>
<line x1="219.26" x2="230.96" y1="254.5" y2="254.5" class="olA"/>
<line x1="219.26" x2="230.96" y1="279.8" y2="279.8" class="olA"/>
<line x1="219.26" x2="230.96" y1="280.6" y2="280.6" class="olA"/>
<line x1="219.26" x2="230.96" y1="286.4" y2="286.4" class="olA"/>
<line x1="219.26" x2="230.96" y1="297.2" y2="297.2" class="olA"/>
<line x1="219.26" x2="230.96" y1="309.4" y2="309.4" class="olA"/>
<rect x="219.26" y="25.3" width="11.69" height="284.1" fill="none" class="olA"/>
<line x1="225.11" x2="225.11" y1="323.6" y2="325.2" stroke="#333" stroke-width="0.6"/>
<text class="xl" style="font-size:7.4px" transform="translate(221.91,326.5) rotate(90)">Station_28</text>
<rect x="236.4" y="1.2" width="54.56" height="9.9" fill="#d9d9d9"/>
<text x="263.68" y="7.8" class="st">Kongsfjorden</text>
<rect x="236.4" y="11.1" width="54.56" height="312.5" fill="#ebebeb"/>
<line x1="236.4" x2="290.96" y1="273.89" y2="273.89" stroke="#fff" stroke-width="0.5"/>
<line x1="236.4" x2="290.96" y1="202.86" y2="202.86" stroke="#fff" stroke-width="0.5"/>
<line x1="236.4" x2="290.96" y1="131.84" y2="131.84" stroke="#fff" stroke-width="0.5"/>
<line x1="236.4" x2="290.96" y1="60.81" y2="60.81" stroke="#fff" stroke-width="0.5"/>
<line x1="236.4" x2="290.96" y1="309.4" y2="309.4" stroke="#fff" stroke-width="1"/>
<line x1="236.4" x2="290.96" y1="238.38" y2="238.38" stroke="#fff" stroke-width="1"/>
<line x1="236.4" x2="290.96" y1="167.35" y2="167.35" stroke="#fff" stroke-width="1"/>
<line x1="236.4" x2="290.96" y1="96.32" y2="96.32" stroke="#fff" stroke-width="1"/>
<line x1="236.4" x2="290.96" y1="25.3" y2="25.3" stroke="#fff" stroke-width="1"/>
<line x1="244.2" x2="244.2" y1="11.1" y2="323.6" stroke="#fff" stroke-width="1"/>
<line x1="257.19" x2="257.19" y1="11.1" y2="323.6" stroke="#fff" stroke-width="1"/>
<line x1="270.18" x2="270.18" y1="11.1" y2="323.6" stroke="#fff" stroke-width="1"/>
<line x1="283.17" x2="283.17" y1="11.1" y2="323.6" stroke="#fff" stroke-width="1"/>
<rect x="238.35" y="25.3" width="11.69" height="5.4" fill="#9999cc"/>
<rect x="238.35" y="30.7" width="11.69" height="36.1" fill="#000099"/>
<rect x="238.35" y="66.8" width="11.69" height="1.5" fill="#1a80aa"/>
<rect x="238.35" y="68.3" width="11.69" height="4" fill="#0099ff"/>
<rect x="238.35" y="72.3" width="11.69" height="4.1" fill="#0099ff"/>
<rect x="238.35" y="76.4" width="11.69" height="2.7" fill="#99ffff"/>
<rect x="238.35" y="79.1" width="11.69" height="43.4" fill="#cc0000"/>
<rect x="238.35" y="122.5" width="11.69" height="22" fill="#ffcc00"/>
<rect x="238.35" y="144.5" width="11.69" height="1" fill="#111111"/>
<rect x="238.35" y="145.5" width="11.69" height="2.7" fill="#ff9966"/>
<rect x="238.35" y="148.2" width="11.69" height="7.1" fill="#ff9966"/>
<rect x="238.35" y="155.3" width="11.69" height="8.4" fill="#ffffcc"/>
<rect x="238.35" y="163.7" width="11.69" height="3.6" fill="#336633"/>
<rect x="238.35" y="167.3" width="11.69" height="23.3" fill="#336633"/>
<rect x="238.35" y="190.6" width="11.69" height="3.8" fill="#33cc33"/>
<rect x="238.35" y="194.4" width="11.69" height="3" fill="#ffffcc"/>
<rect x="238.35" y="197.4" width="11.69" height="13.9" fill="#ffcccc"/>
<rect x="238.35" y="211.3" width="11.69" height="1.5" fill="#ffff00"/>
<rect x="238.35" y="212.8" width="11.69" height="1.7" fill="#ffff00"/>
<rect x="238.35" y="214.5" width="11.69" height="2" fill="#ffff00"/>
<rect x="238.35" y="216.5" width="11.69" height="23.9" fill="#ffff00"/>
<rect x="238.35" y="240.4" width="11.69" height="22.3" fill="#ffffcc"/>
<rect x="238.35" y="262.7" width="11.69" height="46.7" fill="#ffffcc"/>
<line x1="238.35" x2="250.04" y1="25.3" y2="25.3" class="olA"/>
<line x1="238.35" x2="250.04" y1="30.7" y2="30.7" class="olA"/>
<line x1="238.35" x2="250.04" y1="66.8" y2="66.8" class="olA"/>
<line x1="238.35" x2="250.04" y1="68.3" y2="68.3" class="olA"/>
<line x1="238.35" x2="250.04" y1="72.3" y2="72.3" class="olA"/>
<line x1="238.35" x2="250.04" y1="76.4" y2="76.4" class="olA"/>
<line x1="238.35" x2="250.04" y1="79.1" y2="79.1" class="olA"/>
<line x1="238.35" x2="250.04" y1="122.5" y2="122.5" class="olA"/>
<line x1="238.35" x2="250.04" y1="144.5" y2="144.5" class="olA"/>
<line x1="238.35" x2="250.04" y1="145.5" y2="145.5" class="olA"/>
<line x1="238.35" x2="250.04" y1="148.2" y2="148.2" class="olA"/>
<line x1="238.35" x2="250.04" y1="155.3" y2="155.3" class="olA"/>
<line x1="238.35" x2="250.04" y1="163.7" y2="163.7" class="olA"/>
<line x1="238.35" x2="250.04" y1="167.3" y2="167.3" class="olA"/>
<line x1="238.35" x2="250.04" y1="190.6" y2="190.6" class="olA"/>
<line x1="238.35" x2="250.04" y1="194.4" y2="194.4" class="olA"/>
<line x1="238.35" x2="250.04" y1="197.4" y2="197.4" class="olA"/>
<line x1="238.35" x2="250.04" y1="211.3" y2="211.3" class="olA"/>
<line x1="238.35" x2="250.04" y1="212.8" y2="212.8" class="olA"/>
<line x1="238.35" x2="250.04" y1="214.5" y2="214.5" class="olA"/>
<line x1="238.35" x2="250.04" y1="216.5" y2="216.5" class="olA"/>
<line x1="238.35" x2="250.04" y1="240.4" y2="240.4" class="olA"/>
<line x1="238.35" x2="250.04" y1="262.7" y2="262.7" class="olA"/>
<line x1="238.35" x2="250.04" y1="309.4" y2="309.4" class="olA"/>
<rect x="238.35" y="25.3" width="11.69" height="284.1" fill="none" class="olA"/>
<line x1="244.2" x2="244.2" y1="323.6" y2="325.2" stroke="#333" stroke-width="0.6"/>
<text class="xl" style="font-size:7.4px" transform="translate(241,326.5) rotate(90)">Station_16</text>
<rect x="251.34" y="25.3" width="11.69" height="32.8" fill="#000099"/>
<rect x="251.34" y="58.1" width="11.69" height="3.8" fill="#1a80aa"/>
<rect x="251.34" y="61.9" width="11.69" height="21.6" fill="#cc0000"/>
<rect x="251.34" y="83.5" width="11.69" height="5.1" fill="#ffcc00"/>
<rect x="251.34" y="88.6" width="11.69" height="1.2" fill="#111111"/>
<rect x="251.34" y="89.8" width="11.69" height="4.4" fill="#ff9966"/>
<rect x="251.34" y="94.2" width="11.69" height="5.9" fill="#ff9966"/>
<rect x="251.34" y="100.1" width="11.69" height="17" fill="#ff9966"/>
<rect x="251.34" y="117.1" width="11.69" height="7.1" fill="#ffffcc"/>
<rect x="251.34" y="124.2" width="11.69" height="5.8" fill="#336633"/>
<rect x="251.34" y="130" width="11.69" height="1.9" fill="#9999cc"/>
<rect x="251.34" y="131.9" width="11.69" height="6.9" fill="#ffff00"/>
<rect x="251.34" y="138.8" width="11.69" height="11.4" fill="#ffff00"/>
<rect x="251.34" y="150.2" width="11.69" height="145.3" fill="#ffff00"/>
<rect x="251.34" y="295.5" width="11.69" height="5" fill="#ffffcc"/>
<rect x="251.34" y="300.5" width="11.69" height="8.9" fill="#ffffcc"/>
<line x1="251.34" x2="263.03" y1="25.3" y2="25.3" class="olA"/>
<line x1="251.34" x2="263.03" y1="58.1" y2="58.1" class="olA"/>
<line x1="251.34" x2="263.03" y1="61.9" y2="61.9" class="olA"/>
<line x1="251.34" x2="263.03" y1="83.5" y2="83.5" class="olA"/>
<line x1="251.34" x2="263.03" y1="88.6" y2="88.6" class="olA"/>
<line x1="251.34" x2="263.03" y1="89.8" y2="89.8" class="olA"/>
<line x1="251.34" x2="263.03" y1="94.2" y2="94.2" class="olA"/>
<line x1="251.34" x2="263.03" y1="100.1" y2="100.1" class="olA"/>
<line x1="251.34" x2="263.03" y1="117.1" y2="117.1" class="olA"/>
<line x1="251.34" x2="263.03" y1="124.2" y2="124.2" class="olA"/>
<line x1="251.34" x2="263.03" y1="130" y2="130" class="olA"/>
<line x1="251.34" x2="263.03" y1="131.9" y2="131.9" class="olA"/>
<line x1="251.34" x2="263.03" y1="138.8" y2="138.8" class="olA"/>
<line x1="251.34" x2="263.03" y1="150.2" y2="150.2" class="olA"/>
<line x1="251.34" x2="263.03" y1="295.5" y2="295.5" class="olA"/>
<line x1="251.34" x2="263.03" y1="300.5" y2="300.5" class="olA"/>
<line x1="251.34" x2="263.03" y1="309.4" y2="309.4" class="olA"/>
<rect x="251.34" y="25.3" width="11.69" height="284.1" fill="none" class="olA"/>
<line x1="257.19" x2="257.19" y1="323.6" y2="325.2" stroke="#333" stroke-width="0.6"/>
<text class="xl" style="font-size:7.4px" transform="translate(253.99,326.5) rotate(90)">Station_17</text>
<rect x="264.33" y="25.3" width="11.69" height="18.1" fill="#000099"/>
<rect x="264.33" y="43.4" width="11.69" height="9.4" fill="#cc0000"/>
<rect x="264.33" y="52.8" width="11.69" height="4.3" fill="#ffcc00"/>
<rect x="264.33" y="57.1" width="11.69" height="1.7" fill="#ff9966"/>
<rect x="264.33" y="58.8" width="11.69" height="1.8" fill="#ff9966"/>
<rect x="264.33" y="60.6" width="11.69" height="4.9" fill="#ff9966"/>
<rect x="264.33" y="65.5" width="11.69" height="10" fill="#ff9966"/>
<rect x="264.33" y="75.5" width="11.69" height="24.7" fill="#ff9966"/>
<rect x="264.33" y="100.2" width="11.69" height="2.1" fill="#ffffcc"/>
<rect x="264.33" y="102.3" width="11.69" height="2.8" fill="#336633"/>
<rect x="264.33" y="105.1" width="11.69" height="23.2" fill="#ffff00"/>
<rect x="264.33" y="128.3" width="11.69" height="41.8" fill="#ffff00"/>
<rect x="264.33" y="170.1" width="11.69" height="112.5" fill="#ffff00"/>
<rect x="264.33" y="282.6" width="11.69" height="2.9" fill="#ffffcc"/>
<rect x="264.33" y="285.5" width="11.69" height="7.3" fill="#ffffcc"/>
<rect x="264.33" y="292.8" width="11.69" height="16.6" fill="#ffffcc"/>
<line x1="264.33" x2="276.02" y1="25.3" y2="25.3" class="olA"/>
<line x1="264.33" x2="276.02" y1="43.4" y2="43.4" class="olA"/>
<line x1="264.33" x2="276.02" y1="52.8" y2="52.8" class="olA"/>
<line x1="264.33" x2="276.02" y1="57.1" y2="57.1" class="olA"/>
<line x1="264.33" x2="276.02" y1="58.8" y2="58.8" class="olA"/>
<line x1="264.33" x2="276.02" y1="60.6" y2="60.6" class="olA"/>
<line x1="264.33" x2="276.02" y1="65.5" y2="65.5" class="olA"/>
<line x1="264.33" x2="276.02" y1="75.5" y2="75.5" class="olA"/>
<line x1="264.33" x2="276.02" y1="100.2" y2="100.2" class="olA"/>
<line x1="264.33" x2="276.02" y1="102.3" y2="102.3" class="olA"/>
<line x1="264.33" x2="276.02" y1="105.1" y2="105.1" class="olA"/>
<line x1="264.33" x2="276.02" y1="128.3" y2="128.3" class="olA"/>
<line x1="264.33" x2="276.02" y1="170.1" y2="170.1" class="olA"/>
<line x1="264.33" x2="276.02" y1="282.6" y2="282.6" class="olA"/>
<line x1="264.33" x2="276.02" y1="285.5" y2="285.5" class="olA"/>
<line x1="264.33" x2="276.02" y1="292.8" y2="292.8" class="olA"/>
<line x1="264.33" x2="276.02" y1="309.4" y2="309.4" class="olA"/>
<rect x="264.33" y="25.3" width="11.69" height="284.1" fill="none" class="olA"/>
<line x1="270.18" x2="270.18" y1="323.6" y2="325.2" stroke="#333" stroke-width="0.6"/>
<text class="xl" style="font-size:7.4px" transform="translate(266.98,326.5) rotate(90)">Station_18</text>
<rect x="277.32" y="25.3" width="11.69" height="7.9" fill="#9999cc"/>
<rect x="277.32" y="33.2" width="11.69" height="39.5" fill="#000099"/>
<rect x="277.32" y="72.7" width="11.69" height="2.9" fill="#99ffff"/>
<rect x="277.32" y="75.6" width="11.69" height="9" fill="#cc0000"/>
<rect x="277.32" y="84.6" width="11.69" height="7.9" fill="#ffcc00"/>
<rect x="277.32" y="92.5" width="11.69" height="0.7" fill="#111111"/>
<rect x="277.32" y="93.2" width="11.69" height="4.3" fill="#ff9966"/>
<rect x="277.32" y="97.5" width="11.69" height="0.5" fill="#111111"/>
<rect x="277.32" y="98" width="11.69" height="2.2" fill="#336633"/>
<rect x="277.32" y="100.2" width="11.69" height="2.4" fill="#336633"/>
<rect x="277.32" y="102.6" width="11.69" height="4.6" fill="#ffcccc"/>
<rect x="277.32" y="107.2" width="11.69" height="32.8" fill="#ffff00"/>
<rect x="277.32" y="140" width="11.69" height="49.3" fill="#ffff00"/>
<rect x="277.32" y="189.3" width="11.69" height="52.4" fill="#ffff00"/>
<rect x="277.32" y="241.7" width="11.69" height="1.8" fill="#ffffcc"/>
<rect x="277.32" y="243.5" width="11.69" height="25.5" fill="#ffffcc"/>
<rect x="277.32" y="269" width="11.69" height="40.4" fill="#ffffcc"/>
<line x1="277.32" x2="289.01" y1="25.3" y2="25.3" class="olA"/>
<line x1="277.32" x2="289.01" y1="33.2" y2="33.2" class="olA"/>
<line x1="277.32" x2="289.01" y1="72.7" y2="72.7" class="olA"/>
<line x1="277.32" x2="289.01" y1="75.6" y2="75.6" class="olA"/>
<line x1="277.32" x2="289.01" y1="84.6" y2="84.6" class="olA"/>
<line x1="277.32" x2="289.01" y1="92.5" y2="92.5" class="olA"/>
<line x1="277.32" x2="289.01" y1="93.2" y2="93.2" class="olA"/>
<line x1="277.32" x2="289.01" y1="97.5" y2="97.5" class="olA"/>
<line x1="277.32" x2="289.01" y1="98" y2="98" class="olA"/>
<line x1="277.32" x2="289.01" y1="100.2" y2="100.2" class="olA"/>
<line x1="277.32" x2="289.01" y1="102.6" y2="102.6" class="olA"/>
<line x1="277.32" x2="289.01" y1="107.2" y2="107.2" class="olA"/>
<line x1="277.32" x2="289.01" y1="140" y2="140" class="olA"/>
<line x1="277.32" x2="289.01" y1="189.3" y2="189.3" class="olA"/>
<line x1="277.32" x2="289.01" y1="241.7" y2="241.7" class="olA"/>
<line x1="277.32" x2="289.01" y1="243.5" y2="243.5" class="olA"/>
<line x1="277.32" x2="289.01" y1="269" y2="269" class="olA"/>
<line x1="277.32" x2="289.01" y1="309.4" y2="309.4" class="olA"/>
<rect x="277.32" y="25.3" width="11.69" height="284.1" fill="none" class="olA"/>
<line x1="283.17" x2="283.17" y1="323.6" y2="325.2" stroke="#333" stroke-width="0.6"/>
<text class="xl" style="font-size:7.4px" transform="translate(279.97,326.5) rotate(90)">Station_19</text>
<rect x="294.46" y="1.2" width="67.55" height="9.9" fill="#d9d9d9"/>
<text x="328.24" y="7.8" class="st">Woodfjorden</text>
<rect x="294.46" y="11.1" width="67.55" height="312.5" fill="#ebebeb"/>
<line x1="294.46" x2="362.01" y1="273.89" y2="273.89" stroke="#fff" stroke-width="0.5"/>
<line x1="294.46" x2="362.01" y1="202.86" y2="202.86" stroke="#fff" stroke-width="0.5"/>
<line x1="294.46" x2="362.01" y1="131.84" y2="131.84" stroke="#fff" stroke-width="0.5"/>
<line x1="294.46" x2="362.01" y1="60.81" y2="60.81" stroke="#fff" stroke-width="0.5"/>
<line x1="294.46" x2="362.01" y1="309.4" y2="309.4" stroke="#fff" stroke-width="1"/>
<line x1="294.46" x2="362.01" y1="238.38" y2="238.38" stroke="#fff" stroke-width="1"/>
<line x1="294.46" x2="362.01" y1="167.35" y2="167.35" stroke="#fff" stroke-width="1"/>
<line x1="294.46" x2="362.01" y1="96.32" y2="96.32" stroke="#fff" stroke-width="1"/>
<line x1="294.46" x2="362.01" y1="25.3" y2="25.3" stroke="#fff" stroke-width="1"/>
<line x1="302.26" x2="302.26" y1="11.1" y2="323.6" stroke="#fff" stroke-width="1"/>
<line x1="315.25" x2="315.25" y1="11.1" y2="323.6" stroke="#fff" stroke-width="1"/>
<line x1="328.24" x2="328.24" y1="11.1" y2="323.6" stroke="#fff" stroke-width="1"/>
<line x1="341.23" x2="341.23" y1="11.1" y2="323.6" stroke="#fff" stroke-width="1"/>
<line x1="354.22" x2="354.22" y1="11.1" y2="323.6" stroke="#fff" stroke-width="1"/>
<rect x="296.41" y="25.3" width="11.69" height="56.9" fill="#9999cc"/>
<rect x="296.41" y="82.2" width="11.69" height="6.1" fill="#000099"/>
<rect x="296.41" y="88.3" width="11.69" height="22.1" fill="#0099ff"/>
<rect x="296.41" y="110.4" width="11.69" height="24.1" fill="#0099ff"/>
<rect x="296.41" y="134.5" width="11.69" height="34.7" fill="#0099ff"/>
<rect x="296.41" y="169.2" width="11.69" height="38.4" fill="#cc0000"/>
<rect x="296.41" y="207.6" width="11.69" height="4.3" fill="#ffcc00"/>
<rect x="296.41" y="211.9" width="11.69" height="0.9" fill="#111111"/>
<rect x="296.41" y="212.8" width="11.69" height="7.5" fill="#336633"/>
<rect x="296.41" y="220.3" width="11.69" height="0.7" fill="#111111"/>
<rect x="296.41" y="221" width="11.69" height="17.2" fill="#ccffcc"/>
<rect x="296.41" y="238.2" width="11.69" height="19.3" fill="#ffcccc"/>
<rect x="296.41" y="257.5" width="11.69" height="1.8" fill="#ffff00"/>
<rect x="296.41" y="259.3" width="11.69" height="1.9" fill="#ffff00"/>
<rect x="296.41" y="261.2" width="11.69" height="7.4" fill="#ffff00"/>
<rect x="296.41" y="268.6" width="11.69" height="1.9" fill="#ffffcc"/>
<rect x="296.41" y="270.5" width="11.69" height="0.5" fill="#111111"/>
<rect x="296.41" y="271" width="11.69" height="11.6" fill="#ffffcc"/>
<rect x="296.41" y="282.6" width="11.69" height="26.8" fill="#ffffcc"/>
<line x1="296.41" x2="308.1" y1="25.3" y2="25.3" class="olA"/>
<line x1="296.41" x2="308.1" y1="82.2" y2="82.2" class="olA"/>
<line x1="296.41" x2="308.1" y1="88.3" y2="88.3" class="olA"/>
<line x1="296.41" x2="308.1" y1="110.4" y2="110.4" class="olA"/>
<line x1="296.41" x2="308.1" y1="134.5" y2="134.5" class="olA"/>
<line x1="296.41" x2="308.1" y1="169.2" y2="169.2" class="olA"/>
<line x1="296.41" x2="308.1" y1="207.6" y2="207.6" class="olA"/>
<line x1="296.41" x2="308.1" y1="211.9" y2="211.9" class="olA"/>
<line x1="296.41" x2="308.1" y1="212.8" y2="212.8" class="olA"/>
<line x1="296.41" x2="308.1" y1="220.3" y2="220.3" class="olA"/>
<line x1="296.41" x2="308.1" y1="221" y2="221" class="olA"/>
<line x1="296.41" x2="308.1" y1="238.2" y2="238.2" class="olA"/>
<line x1="296.41" x2="308.1" y1="257.5" y2="257.5" class="olA"/>
<line x1="296.41" x2="308.1" y1="259.3" y2="259.3" class="olA"/>
<line x1="296.41" x2="308.1" y1="261.2" y2="261.2" class="olA"/>
<line x1="296.41" x2="308.1" y1="268.6" y2="268.6" class="olA"/>
<line x1="296.41" x2="308.1" y1="270.5" y2="270.5" class="olA"/>
<line x1="296.41" x2="308.1" y1="271" y2="271" class="olA"/>
<line x1="296.41" x2="308.1" y1="282.6" y2="282.6" class="olA"/>
<line x1="296.41" x2="308.1" y1="309.4" y2="309.4" class="olA"/>
<rect x="296.41" y="25.3" width="11.69" height="284.1" fill="none" class="olA"/>
<line x1="302.26" x2="302.26" y1="323.6" y2="325.2" stroke="#333" stroke-width="0.6"/>
<text class="xl" style="font-size:7.4px" transform="translate(299.06,326.5) rotate(90)">Station_15</text>
<rect x="309.4" y="25.3" width="11.69" height="27.8" fill="#9999cc"/>
<rect x="309.4" y="53.1" width="11.69" height="16.5" fill="#000099"/>
<rect x="309.4" y="69.6" width="11.69" height="5.9" fill="#0099ff"/>
<rect x="309.4" y="75.5" width="11.69" height="7.8" fill="#0099ff"/>
<rect x="309.4" y="83.3" width="11.69" height="14.6" fill="#0099ff"/>
<rect x="309.4" y="97.9" width="11.69" height="0.6" fill="#111111"/>
<rect x="309.4" y="98.5" width="11.69" height="70.9" fill="#cc0000"/>
<rect x="309.4" y="169.4" width="11.69" height="3.6" fill="#ffcc00"/>
<rect x="309.4" y="173" width="11.69" height="1.5" fill="#ffffcc"/>
<rect x="309.4" y="174.5" width="11.69" height="11.8" fill="#336633"/>
<rect x="309.4" y="186.3" width="11.69" height="1.2" fill="#111111"/>
<rect x="309.4" y="187.5" width="11.69" height="29.8" fill="#ffcccc"/>
<rect x="309.4" y="217.3" width="11.69" height="7" fill="#ffff00"/>
<rect x="309.4" y="224.3" width="11.69" height="9.1" fill="#ffff00"/>
<rect x="309.4" y="233.4" width="11.69" height="27.2" fill="#ffff00"/>
<rect x="309.4" y="260.6" width="11.69" height="6" fill="#ffffcc"/>
<rect x="309.4" y="266.6" width="11.69" height="20.3" fill="#ffffcc"/>
<rect x="309.4" y="286.9" width="11.69" height="22.5" fill="#ffffcc"/>
<line x1="309.4" x2="321.09" y1="25.3" y2="25.3" class="olA"/>
<line x1="309.4" x2="321.09" y1="53.1" y2="53.1" class="olA"/>
<line x1="309.4" x2="321.09" y1="69.6" y2="69.6" class="olA"/>
<line x1="309.4" x2="321.09" y1="75.5" y2="75.5" class="olA"/>
<line x1="309.4" x2="321.09" y1="83.3" y2="83.3" class="olA"/>
<line x1="309.4" x2="321.09" y1="97.9" y2="97.9" class="olA"/>
<line x1="309.4" x2="321.09" y1="98.5" y2="98.5" class="olA"/>
<line x1="309.4" x2="321.09" y1="169.4" y2="169.4" class="olA"/>
<line x1="309.4" x2="321.09" y1="173" y2="173" class="olA"/>
<line x1="309.4" x2="321.09" y1="174.5" y2="174.5" class="olA"/>
<line x1="309.4" x2="321.09" y1="186.3" y2="186.3" class="olA"/>
<line x1="309.4" x2="321.09" y1="187.5" y2="187.5" class="olA"/>
<line x1="309.4" x2="321.09" y1="217.3" y2="217.3" class="olA"/>
<line x1="309.4" x2="321.09" y1="224.3" y2="224.3" class="olA"/>
<line x1="309.4" x2="321.09" y1="233.4" y2="233.4" class="olA"/>
<line x1="309.4" x2="321.09" y1="260.6" y2="260.6" class="olA"/>
<line x1="309.4" x2="321.09" y1="266.6" y2="266.6" class="olA"/>
<line x1="309.4" x2="321.09" y1="286.9" y2="286.9" class="olA"/>
<line x1="309.4" x2="321.09" y1="309.4" y2="309.4" class="olA"/>
<rect x="309.4" y="25.3" width="11.69" height="284.1" fill="none" class="olA"/>
<line x1="315.25" x2="315.25" y1="323.6" y2="325.2" stroke="#333" stroke-width="0.6"/>
<text class="xl" style="font-size:7.4px" transform="translate(312.05,326.5) rotate(90)">Station_14</text>
<rect x="322.39" y="25.3" width="11.69" height="8" fill="#9999cc"/>
<rect x="322.39" y="33.3" width="11.69" height="10.6" fill="#000099"/>
<rect x="322.39" y="43.9" width="11.69" height="14.7" fill="#0099ff"/>
<rect x="322.39" y="58.6" width="11.69" height="17.9" fill="#0099ff"/>
<rect x="322.39" y="76.5" width="11.69" height="30.9" fill="#0099ff"/>
<rect x="322.39" y="107.4" width="11.69" height="1.9" fill="#ccffcc"/>
<rect x="322.39" y="109.3" width="11.69" height="19.9" fill="#cc0000"/>
<rect x="322.39" y="129.2" width="11.69" height="0.8" fill="#111111"/>
<rect x="322.39" y="130" width="11.69" height="6.5" fill="#336633"/>
<rect x="322.39" y="136.5" width="11.69" height="26.8" fill="#ccffcc"/>
<rect x="322.39" y="163.3" width="11.69" height="4.7" fill="#ffcccc"/>
<rect x="322.39" y="168" width="11.69" height="7.3" fill="#ffff00"/>
<rect x="322.39" y="175.3" width="11.69" height="10.1" fill="#ffff00"/>
<rect x="322.39" y="185.4" width="11.69" height="19.2" fill="#ffff00"/>
<rect x="322.39" y="204.6" width="11.69" height="5.4" fill="#ffffcc"/>
<rect x="322.39" y="210" width="11.69" height="5.3" fill="#ffffcc"/>
<rect x="322.39" y="215.3" width="11.69" height="94.1" fill="#ffffcc"/>
<line x1="322.39" x2="334.08" y1="25.3" y2="25.3" class="olA"/>
<line x1="322.39" x2="334.08" y1="33.3" y2="33.3" class="olA"/>
<line x1="322.39" x2="334.08" y1="43.9" y2="43.9" class="olA"/>
<line x1="322.39" x2="334.08" y1="58.6" y2="58.6" class="olA"/>
<line x1="322.39" x2="334.08" y1="76.5" y2="76.5" class="olA"/>
<line x1="322.39" x2="334.08" y1="107.4" y2="107.4" class="olA"/>
<line x1="322.39" x2="334.08" y1="109.3" y2="109.3" class="olA"/>
<line x1="322.39" x2="334.08" y1="129.2" y2="129.2" class="olA"/>
<line x1="322.39" x2="334.08" y1="130" y2="130" class="olA"/>
<line x1="322.39" x2="334.08" y1="136.5" y2="136.5" class="olA"/>
<line x1="322.39" x2="334.08" y1="163.3" y2="163.3" class="olA"/>
<line x1="322.39" x2="334.08" y1="168" y2="168" class="olA"/>
<line x1="322.39" x2="334.08" y1="175.3" y2="175.3" class="olA"/>
<line x1="322.39" x2="334.08" y1="185.4" y2="185.4" class="olA"/>
<line x1="322.39" x2="334.08" y1="204.6" y2="204.6" class="olA"/>
<line x1="322.39" x2="334.08" y1="210" y2="210" class="olA"/>
<line x1="322.39" x2="334.08" y1="215.3" y2="215.3" class="olA"/>
<line x1="322.39" x2="334.08" y1="309.4" y2="309.4" class="olA"/>
<rect x="322.39" y="25.3" width="11.69" height="284.1" fill="none" class="olA"/>
<line x1="328.24" x2="328.24" y1="323.6" y2="325.2" stroke="#333" stroke-width="0.6"/>
<text class="xl" style="font-size:7.4px" transform="translate(325.04,326.5) rotate(90)">Station_13</text>
<rect x="335.38" y="25.3" width="11.69" height="17.8" fill="#9999cc"/>
<rect x="335.38" y="43.1" width="11.69" height="12.7" fill="#000099"/>
<rect x="335.38" y="55.8" width="11.69" height="2.3" fill="#0099ff"/>
<rect x="335.38" y="58.1" width="11.69" height="26.7" fill="#0099ff"/>
<rect x="335.38" y="84.8" width="11.69" height="44.2" fill="#cc0000"/>
<rect x="335.38" y="129" width="11.69" height="1" fill="#111111"/>
<rect x="335.38" y="130" width="11.69" height="9.8" fill="#336633"/>
<rect x="335.38" y="139.8" width="11.69" height="0.8" fill="#111111"/>
<rect x="335.38" y="140.6" width="11.69" height="13.6" fill="#ffcccc"/>
<rect x="335.38" y="154.2" width="11.69" height="8.3" fill="#ffff00"/>
<rect x="335.38" y="162.5" width="11.69" height="10.1" fill="#ffff00"/>
<rect x="335.38" y="172.6" width="11.69" height="47.8" fill="#ffff00"/>
<rect x="335.38" y="220.4" width="11.69" height="4.1" fill="#ffffcc"/>
<rect x="335.38" y="224.5" width="11.69" height="11.3" fill="#ffffcc"/>
<rect x="335.38" y="235.8" width="11.69" height="73.6" fill="#ffffcc"/>
<line x1="335.38" x2="347.07" y1="25.3" y2="25.3" class="olA"/>
<line x1="335.38" x2="347.07" y1="43.1" y2="43.1" class="olA"/>
<line x1="335.38" x2="347.07" y1="55.8" y2="55.8" class="olA"/>
<line x1="335.38" x2="347.07" y1="58.1" y2="58.1" class="olA"/>
<line x1="335.38" x2="347.07" y1="84.8" y2="84.8" class="olA"/>
<line x1="335.38" x2="347.07" y1="129" y2="129" class="olA"/>
<line x1="335.38" x2="347.07" y1="130" y2="130" class="olA"/>
<line x1="335.38" x2="347.07" y1="139.8" y2="139.8" class="olA"/>
<line x1="335.38" x2="347.07" y1="140.6" y2="140.6" class="olA"/>
<line x1="335.38" x2="347.07" y1="154.2" y2="154.2" class="olA"/>
<line x1="335.38" x2="347.07" y1="162.5" y2="162.5" class="olA"/>
<line x1="335.38" x2="347.07" y1="172.6" y2="172.6" class="olA"/>
<line x1="335.38" x2="347.07" y1="220.4" y2="220.4" class="olA"/>
<line x1="335.38" x2="347.07" y1="224.5" y2="224.5" class="olA"/>
<line x1="335.38" x2="347.07" y1="235.8" y2="235.8" class="olA"/>
<line x1="335.38" x2="347.07" y1="309.4" y2="309.4" class="olA"/>
<rect x="335.38" y="25.3" width="11.69" height="284.1" fill="none" class="olA"/>
<line x1="341.23" x2="341.23" y1="323.6" y2="325.2" stroke="#333" stroke-width="0.6"/>
<text class="xl" style="font-size:7.4px" transform="translate(338.03,326.5) rotate(90)">Station_12</text>
<rect x="348.37" y="25.3" width="11.69" height="12.2" fill="#9999cc"/>
<rect x="348.37" y="37.5" width="11.69" height="4.7" fill="#000099"/>
<rect x="348.37" y="42.2" width="11.69" height="1" fill="#111111"/>
<rect x="348.37" y="43.2" width="11.69" height="1.2" fill="#0099ff"/>
<rect x="348.37" y="44.4" width="11.69" height="13.5" fill="#0099ff"/>
<rect x="348.37" y="57.9" width="11.69" height="10.2" fill="#cc0000"/>
<rect x="348.37" y="68.1" width="11.69" height="0.9" fill="#111111"/>
<rect x="348.37" y="69" width="11.69" height="3.3" fill="#ccffcc"/>
<rect x="348.37" y="72.3" width="11.69" height="6.2" fill="#ffcccc"/>
<rect x="348.37" y="78.5" width="11.69" height="4.8" fill="#ffff00"/>
<rect x="348.37" y="83.3" width="11.69" height="6.1" fill="#ffff00"/>
<rect x="348.37" y="89.4" width="11.69" height="20.3" fill="#ffff00"/>
<rect x="348.37" y="109.7" width="11.69" height="17.9" fill="#ffffcc"/>
<rect x="348.37" y="127.6" width="11.69" height="181.8" fill="#ffffcc"/>
<line x1="348.37" x2="360.06" y1="25.3" y2="25.3" class="olA"/>
<line x1="348.37" x2="360.06" y1="37.5" y2="37.5" class="olA"/>
<line x1="348.37" x2="360.06" y1="42.2" y2="42.2" class="olA"/>
<line x1="348.37" x2="360.06" y1="43.2" y2="43.2" class="olA"/>
<line x1="348.37" x2="360.06" y1="44.4" y2="44.4" class="olA"/>
<line x1="348.37" x2="360.06" y1="57.9" y2="57.9" class="olA"/>
<line x1="348.37" x2="360.06" y1="68.1" y2="68.1" class="olA"/>
<line x1="348.37" x2="360.06" y1="69" y2="69" class="olA"/>
<line x1="348.37" x2="360.06" y1="72.3" y2="72.3" class="olA"/>
<line x1="348.37" x2="360.06" y1="78.5" y2="78.5" class="olA"/>
<line x1="348.37" x2="360.06" y1="83.3" y2="83.3" class="olA"/>
<line x1="348.37" x2="360.06" y1="89.4" y2="89.4" class="olA"/>
<line x1="348.37" x2="360.06" y1="109.7" y2="109.7" class="olA"/>
<line x1="348.37" x2="360.06" y1="127.6" y2="127.6" class="olA"/>
<line x1="348.37" x2="360.06" y1="309.4" y2="309.4" class="olA"/>
<rect x="348.37" y="25.3" width="11.69" height="284.1" fill="none" class="olA"/>
<line x1="354.22" x2="354.22" y1="323.6" y2="325.2" stroke="#333" stroke-width="0.6"/>
<text class="xl" style="font-size:7.4px" transform="translate(351.02,326.5) rotate(90)">Station_11</text>
<rect x="365.51" y="1.2" width="67.55" height="9.9" fill="#d9d9d9"/>
<text x="399.28" y="7.8" class="st">Wijdefjorden</text>
<rect x="365.51" y="11.1" width="67.55" height="312.5" fill="#ebebeb"/>
<line x1="365.51" x2="433.06" y1="273.89" y2="273.89" stroke="#fff" stroke-width="0.5"/>
<line x1="365.51" x2="433.06" y1="202.86" y2="202.86" stroke="#fff" stroke-width="0.5"/>
<line x1="365.51" x2="433.06" y1="131.84" y2="131.84" stroke="#fff" stroke-width="0.5"/>
<line x1="365.51" x2="433.06" y1="60.81" y2="60.81" stroke="#fff" stroke-width="0.5"/>
<line x1="365.51" x2="433.06" y1="309.4" y2="309.4" stroke="#fff" stroke-width="1"/>
<line x1="365.51" x2="433.06" y1="238.38" y2="238.38" stroke="#fff" stroke-width="1"/>
<line x1="365.51" x2="433.06" y1="167.35" y2="167.35" stroke="#fff" stroke-width="1"/>
<line x1="365.51" x2="433.06" y1="96.32" y2="96.32" stroke="#fff" stroke-width="1"/>
<line x1="365.51" x2="433.06" y1="25.3" y2="25.3" stroke="#fff" stroke-width="1"/>
<line x1="373.3" x2="373.3" y1="11.1" y2="323.6" stroke="#fff" stroke-width="1"/>
<line x1="386.29" x2="386.29" y1="11.1" y2="323.6" stroke="#fff" stroke-width="1"/>
<line x1="399.28" x2="399.28" y1="11.1" y2="323.6" stroke="#fff" stroke-width="1"/>
<line x1="412.27" x2="412.27" y1="11.1" y2="323.6" stroke="#fff" stroke-width="1"/>
<line x1="425.26" x2="425.26" y1="11.1" y2="323.6" stroke="#fff" stroke-width="1"/>
<rect x="367.46" y="25.3" width="11.69" height="25.7" fill="#9999cc"/>
<rect x="367.46" y="51" width="11.69" height="1.3" fill="#000099"/>
<rect x="367.46" y="52.3" width="11.69" height="25.2" fill="#0099ff"/>
<rect x="367.46" y="77.5" width="11.69" height="64.2" fill="#0099ff"/>
<rect x="367.46" y="141.7" width="11.69" height="83.3" fill="#0099ff"/>
<rect x="367.46" y="225" width="11.69" height="33.5" fill="#cc0000"/>
<rect x="367.46" y="258.5" width="11.69" height="3.4" fill="#ffcc00"/>
<rect x="367.46" y="261.9" width="11.69" height="0.6" fill="#111111"/>
<rect x="367.46" y="262.5" width="11.69" height="5.5" fill="#336633"/>
<rect x="367.46" y="268" width="11.69" height="0.8" fill="#111111"/>
<rect x="367.46" y="268.8" width="11.69" height="3.5" fill="#ccffcc"/>
<rect x="367.46" y="272.3" width="11.69" height="16.9" fill="#ffcccc"/>
<rect x="367.46" y="289.2" width="11.69" height="3.4" fill="#ffff00"/>
<rect x="367.46" y="292.6" width="11.69" height="3.4" fill="#ffffcc"/>
<rect x="367.46" y="296" width="11.69" height="13.4" fill="#ffffcc"/>
<line x1="367.46" x2="379.15" y1="25.3" y2="25.3" class="olA"/>
<line x1="367.46" x2="379.15" y1="51" y2="51" class="olA"/>
<line x1="367.46" x2="379.15" y1="52.3" y2="52.3" class="olA"/>
<line x1="367.46" x2="379.15" y1="77.5" y2="77.5" class="olA"/>
<line x1="367.46" x2="379.15" y1="141.7" y2="141.7" class="olA"/>
<line x1="367.46" x2="379.15" y1="225" y2="225" class="olA"/>
<line x1="367.46" x2="379.15" y1="258.5" y2="258.5" class="olA"/>
<line x1="367.46" x2="379.15" y1="261.9" y2="261.9" class="olA"/>
<line x1="367.46" x2="379.15" y1="262.5" y2="262.5" class="olA"/>
<line x1="367.46" x2="379.15" y1="268" y2="268" class="olA"/>
<line x1="367.46" x2="379.15" y1="268.8" y2="268.8" class="olA"/>
<line x1="367.46" x2="379.15" y1="272.3" y2="272.3" class="olA"/>
<line x1="367.46" x2="379.15" y1="289.2" y2="289.2" class="olA"/>
<line x1="367.46" x2="379.15" y1="292.6" y2="292.6" class="olA"/>
<line x1="367.46" x2="379.15" y1="296" y2="296" class="olA"/>
<line x1="367.46" x2="379.15" y1="309.4" y2="309.4" class="olA"/>
<rect x="367.46" y="25.3" width="11.69" height="284.1" fill="none" class="olA"/>
<line x1="373.3" x2="373.3" y1="323.6" y2="325.2" stroke="#333" stroke-width="0.6"/>
<text class="xl" style="font-size:7.4px" transform="translate(370.1,326.5) rotate(90)">Station_06</text>
<rect x="380.45" y="25.3" width="11.69" height="40.5" fill="#9999cc"/>
<rect x="380.45" y="65.8" width="11.69" height="1.6" fill="#000099"/>
<rect x="380.45" y="67.4" width="11.69" height="13.5" fill="#0099ff"/>
<rect x="380.45" y="80.9" width="11.69" height="34.6" fill="#0099ff"/>
<rect x="380.45" y="115.5" width="11.69" height="78.3" fill="#0099ff"/>
<rect x="380.45" y="193.8" width="11.69" height="31.1" fill="#cc0000"/>
<rect x="380.45" y="224.9" width="11.69" height="1.7" fill="#ffcc00"/>
<rect x="380.45" y="226.6" width="11.69" height="4.7" fill="#336633"/>
<rect x="380.45" y="231.3" width="11.69" height="39.5" fill="#ccffcc"/>
<rect x="380.45" y="270.8" width="11.69" height="22.1" fill="#ffcccc"/>
<rect x="380.45" y="292.9" width="11.69" height="0.6" fill="#111111"/>
<rect x="380.45" y="293.5" width="11.69" height="4.8" fill="#ffff00"/>
<rect x="380.45" y="298.3" width="11.69" height="0.6" fill="#111111"/>
<rect x="380.45" y="298.9" width="11.69" height="1.7" fill="#ffffcc"/>
<rect x="380.45" y="300.6" width="11.69" height="8.8" fill="#ffffcc"/>
<line x1="380.45" x2="392.14" y1="25.3" y2="25.3" class="olA"/>
<line x1="380.45" x2="392.14" y1="65.8" y2="65.8" class="olA"/>
<line x1="380.45" x2="392.14" y1="67.4" y2="67.4" class="olA"/>
<line x1="380.45" x2="392.14" y1="80.9" y2="80.9" class="olA"/>
<line x1="380.45" x2="392.14" y1="115.5" y2="115.5" class="olA"/>
<line x1="380.45" x2="392.14" y1="193.8" y2="193.8" class="olA"/>
<line x1="380.45" x2="392.14" y1="224.9" y2="224.9" class="olA"/>
<line x1="380.45" x2="392.14" y1="226.6" y2="226.6" class="olA"/>
<line x1="380.45" x2="392.14" y1="231.3" y2="231.3" class="olA"/>
<line x1="380.45" x2="392.14" y1="270.8" y2="270.8" class="olA"/>
<line x1="380.45" x2="392.14" y1="292.9" y2="292.9" class="olA"/>
<line x1="380.45" x2="392.14" y1="293.5" y2="293.5" class="olA"/>
<line x1="380.45" x2="392.14" y1="298.3" y2="298.3" class="olA"/>
<line x1="380.45" x2="392.14" y1="298.9" y2="298.9" class="olA"/>
<line x1="380.45" x2="392.14" y1="300.6" y2="300.6" class="olA"/>
<line x1="380.45" x2="392.14" y1="309.4" y2="309.4" class="olA"/>
<rect x="380.45" y="25.3" width="11.69" height="284.1" fill="none" class="olA"/>
<line x1="386.29" x2="386.29" y1="323.6" y2="325.2" stroke="#333" stroke-width="0.6"/>
<text class="xl" style="font-size:7.4px" transform="translate(383.09,326.5) rotate(90)">Station_07</text>
<rect x="393.44" y="25.3" width="11.69" height="29.6" fill="#9999cc"/>
<rect x="393.44" y="54.9" width="11.69" height="9.5" fill="#000099"/>
<rect x="393.44" y="64.4" width="11.69" height="17.1" fill="#0099ff"/>
<rect x="393.44" y="81.5" width="11.69" height="20" fill="#0099ff"/>
<rect x="393.44" y="101.5" width="11.69" height="33" fill="#0099ff"/>
<rect x="393.44" y="134.5" width="11.69" height="1.9" fill="#99ffff"/>
<rect x="393.44" y="136.4" width="11.69" height="74.8" fill="#cc0000"/>
<rect x="393.44" y="211.2" width="11.69" height="1.9" fill="#ffcc00"/>
<rect x="393.44" y="213.1" width="11.69" height="15.6" fill="#336633"/>
<rect x="393.44" y="228.7" width="11.69" height="26" fill="#ccffcc"/>
<rect x="393.44" y="254.7" width="11.69" height="19.6" fill="#ffcccc"/>
<rect x="393.44" y="274.3" width="11.69" height="3.1" fill="#ffff00"/>
<rect x="393.44" y="277.4" width="11.69" height="4.9" fill="#ffff00"/>
<rect x="393.44" y="282.3" width="11.69" height="9.8" fill="#ffff00"/>
<rect x="393.44" y="292.1" width="11.69" height="1.4" fill="#ffffcc"/>
<rect x="393.44" y="293.5" width="11.69" height="4.8" fill="#ffffcc"/>
<rect x="393.44" y="298.3" width="11.69" height="11.1" fill="#ffffcc"/>
<line x1="393.44" x2="405.13" y1="25.3" y2="25.3" class="olA"/>
<line x1="393.44" x2="405.13" y1="54.9" y2="54.9" class="olA"/>
<line x1="393.44" x2="405.13" y1="64.4" y2="64.4" class="olA"/>
<line x1="393.44" x2="405.13" y1="81.5" y2="81.5" class="olA"/>
<line x1="393.44" x2="405.13" y1="101.5" y2="101.5" class="olA"/>
<line x1="393.44" x2="405.13" y1="134.5" y2="134.5" class="olA"/>
<line x1="393.44" x2="405.13" y1="136.4" y2="136.4" class="olA"/>
<line x1="393.44" x2="405.13" y1="211.2" y2="211.2" class="olA"/>
<line x1="393.44" x2="405.13" y1="213.1" y2="213.1" class="olA"/>
<line x1="393.44" x2="405.13" y1="228.7" y2="228.7" class="olA"/>
<line x1="393.44" x2="405.13" y1="254.7" y2="254.7" class="olA"/>
<line x1="393.44" x2="405.13" y1="274.3" y2="274.3" class="olA"/>
<line x1="393.44" x2="405.13" y1="277.4" y2="277.4" class="olA"/>
<line x1="393.44" x2="405.13" y1="282.3" y2="282.3" class="olA"/>
<line x1="393.44" x2="405.13" y1="292.1" y2="292.1" class="olA"/>
<line x1="393.44" x2="405.13" y1="293.5" y2="293.5" class="olA"/>
<line x1="393.44" x2="405.13" y1="298.3" y2="298.3" class="olA"/>
<line x1="393.44" x2="405.13" y1="309.4" y2="309.4" class="olA"/>
<rect x="393.44" y="25.3" width="11.69" height="284.1" fill="none" class="olA"/>
<line x1="399.28" x2="399.28" y1="323.6" y2="325.2" stroke="#333" stroke-width="0.6"/>
<text class="xl" style="font-size:7.4px" transform="translate(396.08,326.5) rotate(90)">Station_08</text>
<rect x="406.43" y="25.3" width="11.69" height="18.2" fill="#9999cc"/>
<rect x="406.43" y="43.5" width="11.69" height="10" fill="#000099"/>
<rect x="406.43" y="53.5" width="11.69" height="9.9" fill="#0099ff"/>
<rect x="406.43" y="63.4" width="11.69" height="12.1" fill="#0099ff"/>
<rect x="406.43" y="75.5" width="11.69" height="18.7" fill="#0099ff"/>
<rect x="406.43" y="94.2" width="11.69" height="5.2" fill="#99ffff"/>
<rect x="406.43" y="99.4" width="11.69" height="32.3" fill="#cc0000"/>
<rect x="406.43" y="131.7" width="11.69" height="0.6" fill="#111111"/>
<rect x="406.43" y="132.3" width="11.69" height="7.3" fill="#336633"/>
<rect x="406.43" y="139.6" width="11.69" height="1.4" fill="#ccffcc"/>
<rect x="406.43" y="141" width="11.69" height="5.3" fill="#ccffcc"/>
<rect x="406.43" y="146.3" width="11.69" height="10.8" fill="#ffcccc"/>
<rect x="406.43" y="157.1" width="11.69" height="7" fill="#ffff00"/>
<rect x="406.43" y="164.1" width="11.69" height="8.5" fill="#ffff00"/>
<rect x="406.43" y="172.6" width="11.69" height="16.7" fill="#ffff00"/>
<rect x="406.43" y="189.3" width="11.69" height="3.3" fill="#ffffcc"/>
<rect x="406.43" y="192.6" width="11.69" height="3.7" fill="#ffffcc"/>
<rect x="406.43" y="196.3" width="11.69" height="113.1" fill="#ffffcc"/>
<line x1="406.43" x2="418.12" y1="25.3" y2="25.3" class="olA"/>
<line x1="406.43" x2="418.12" y1="43.5" y2="43.5" class="olA"/>
<line x1="406.43" x2="418.12" y1="53.5" y2="53.5" class="olA"/>
<line x1="406.43" x2="418.12" y1="63.4" y2="63.4" class="olA"/>
<line x1="406.43" x2="418.12" y1="75.5" y2="75.5" class="olA"/>
<line x1="406.43" x2="418.12" y1="94.2" y2="94.2" class="olA"/>
<line x1="406.43" x2="418.12" y1="99.4" y2="99.4" class="olA"/>
<line x1="406.43" x2="418.12" y1="131.7" y2="131.7" class="olA"/>
<line x1="406.43" x2="418.12" y1="132.3" y2="132.3" class="olA"/>
<line x1="406.43" x2="418.12" y1="139.6" y2="139.6" class="olA"/>
<line x1="406.43" x2="418.12" y1="141" y2="141" class="olA"/>
<line x1="406.43" x2="418.12" y1="146.3" y2="146.3" class="olA"/>
<line x1="406.43" x2="418.12" y1="157.1" y2="157.1" class="olA"/>
<line x1="406.43" x2="418.12" y1="164.1" y2="164.1" class="olA"/>
<line x1="406.43" x2="418.12" y1="172.6" y2="172.6" class="olA"/>
<line x1="406.43" x2="418.12" y1="189.3" y2="189.3" class="olA"/>
<line x1="406.43" x2="418.12" y1="192.6" y2="192.6" class="olA"/>
<line x1="406.43" x2="418.12" y1="196.3" y2="196.3" class="olA"/>
<line x1="406.43" x2="418.12" y1="309.4" y2="309.4" class="olA"/>
<rect x="406.43" y="25.3" width="11.69" height="284.1" fill="none" class="olA"/>
<line x1="412.27" x2="412.27" y1="323.6" y2="325.2" stroke="#333" stroke-width="0.6"/>
<text class="xl" style="font-size:7.4px" transform="translate(409.07,326.5) rotate(90)">Station_09</text>
<rect x="419.42" y="25.3" width="11.69" height="21.9" fill="#9999cc"/>
<rect x="419.42" y="47.2" width="11.69" height="5.2" fill="#000099"/>
<rect x="419.42" y="52.4" width="11.69" height="4.1" fill="#0099ff"/>
<rect x="419.42" y="56.5" width="11.69" height="6.2" fill="#0099ff"/>
<rect x="419.42" y="62.7" width="11.69" height="7.4" fill="#0099ff"/>
<rect x="419.42" y="70.1" width="11.69" height="4.1" fill="#99ffff"/>
<rect x="419.42" y="74.2" width="11.69" height="13.1" fill="#cc0000"/>
<rect x="419.42" y="87.3" width="11.69" height="0.7" fill="#111111"/>
<rect x="419.42" y="88" width="11.69" height="1.5" fill="#336633"/>
<rect x="419.42" y="89.5" width="11.69" height="1.3" fill="#111111"/>
<rect x="419.42" y="90.8" width="11.69" height="3.4" fill="#ccffcc"/>
<rect x="419.42" y="94.2" width="11.69" height="5.9" fill="#ffcccc"/>
<rect x="419.42" y="100.1" width="11.69" height="6.4" fill="#ffff00"/>
<rect x="419.42" y="106.5" width="11.69" height="6.9" fill="#ffff00"/>
<rect x="419.42" y="113.4" width="11.69" height="18" fill="#ffff00"/>
<rect x="419.42" y="131.4" width="11.69" height="2.4" fill="#ffffcc"/>
<rect x="419.42" y="133.8" width="11.69" height="6" fill="#ffffcc"/>
<rect x="419.42" y="139.8" width="11.69" height="169.6" fill="#ffffcc"/>
<line x1="419.42" x2="431.11" y1="25.3" y2="25.3" class="olA"/>
<line x1="419.42" x2="431.11" y1="47.2" y2="47.2" class="olA"/>
<line x1="419.42" x2="431.11" y1="52.4" y2="52.4" class="olA"/>
<line x1="419.42" x2="431.11" y1="56.5" y2="56.5" class="olA"/>
<line x1="419.42" x2="431.11" y1="62.7" y2="62.7" class="olA"/>
<line x1="419.42" x2="431.11" y1="70.1" y2="70.1" class="olA"/>
<line x1="419.42" x2="431.11" y1="74.2" y2="74.2" class="olA"/>
<line x1="419.42" x2="431.11" y1="87.3" y2="87.3" class="olA"/>
<line x1="419.42" x2="431.11" y1="88" y2="88" class="olA"/>
<line x1="419.42" x2="431.11" y1="89.5" y2="89.5" class="olA"/>
<line x1="419.42" x2="431.11" y1="90.8" y2="90.8" class="olA"/>
<line x1="419.42" x2="431.11" y1="94.2" y2="94.2" class="olA"/>
<line x1="419.42" x2="431.11" y1="100.1" y2="100.1" class="olA"/>
<line x1="419.42" x2="431.11" y1="106.5" y2="106.5" class="olA"/>
<line x1="419.42" x2="431.11" y1="113.4" y2="113.4" class="olA"/>
<line x1="419.42" x2="431.11" y1="131.4" y2="131.4" class="olA"/>
<line x1="419.42" x2="431.11" y1="133.8" y2="133.8" class="olA"/>
<line x1="419.42" x2="431.11" y1="139.8" y2="139.8" class="olA"/>
<line x1="419.42" x2="431.11" y1="309.4" y2="309.4" class="olA"/>
<rect x="419.42" y="25.3" width="11.69" height="284.1" fill="none" class="olA"/>
<line x1="425.26" x2="425.26" y1="323.6" y2="325.2" stroke="#333" stroke-width="0.6"/>
<text class="xl" style="font-size:7.4px" transform="translate(422.06,326.5) rotate(90)">Station_10</text>
<line x1="34.65" x2="36.25" y1="309.4" y2="309.4" stroke="#333" stroke-width="0.6"/>
<text x="32.8" y="311.6" class="yl" style="font-size:5.6px">0</text>
<line x1="34.65" x2="36.25" y1="238.38" y2="238.38" stroke="#333" stroke-width="0.6"/>
<text x="32.8" y="240.57" class="yl" style="font-size:5.6px">25</text>
<line x1="34.65" x2="36.25" y1="167.35" y2="167.35" stroke="#333" stroke-width="0.6"/>
<text x="32.8" y="169.55" class="yl" style="font-size:5.6px">50</text>
<line x1="34.65" x2="36.25" y1="96.32" y2="96.32" stroke="#333" stroke-width="0.6"/>
<text x="32.8" y="98.52" class="yl" style="font-size:5.6px">75</text>
<line x1="34.65" x2="36.25" y1="25.3" y2="25.3" stroke="#333" stroke-width="0.6"/>
<text x="32.8" y="27.5" class="yl" style="font-size:5.6px">100</text>
<rect x="35.6" y="379.2" width="41.7" height="9.9" fill="#d9d9d9"/>
<text x="56.45" y="385.8" class="st">Hausgarten</text>
<rect x="35.6" y="389.1" width="41.7" height="302.6" fill="#ebebeb"/>
<line x1="35.6" x2="77.3" y1="643.45" y2="643.45" stroke="#fff" stroke-width="0.5"/>
<line x1="35.6" x2="77.3" y1="574.55" y2="574.55" stroke="#fff" stroke-width="0.5"/>
<line x1="35.6" x2="77.3" y1="505.65" y2="505.65" stroke="#fff" stroke-width="0.5"/>
<line x1="35.6" x2="77.3" y1="436.75" y2="436.75" stroke="#fff" stroke-width="0.5"/>
<line x1="35.6" x2="77.3" y1="677.9" y2="677.9" stroke="#fff" stroke-width="1"/>
<line x1="35.6" x2="77.3" y1="609" y2="609" stroke="#fff" stroke-width="1"/>
<line x1="35.6" x2="77.3" y1="540.1" y2="540.1" stroke="#fff" stroke-width="1"/>
<line x1="35.6" x2="77.3" y1="471.2" y2="471.2" stroke="#fff" stroke-width="1"/>
<line x1="35.6" x2="77.3" y1="402.3" y2="402.3" stroke="#fff" stroke-width="1"/>
<line x1="43.42" x2="43.42" y1="389.1" y2="691.7" stroke="#fff" stroke-width="1"/>
<line x1="56.45" x2="56.45" y1="389.1" y2="691.7" stroke="#fff" stroke-width="1"/>
<line x1="69.48" x2="69.48" y1="389.1" y2="691.7" stroke="#fff" stroke-width="1"/>
<rect x="37.42" y="402.3" width="11.99" height="1.9" fill="#111111"/>
<rect x="37.42" y="404.2" width="11.99" height="6.7" fill="#0066cc"/>
<rect x="37.42" y="410.9" width="11.99" height="13.4" fill="#0066cc"/>
<rect x="37.42" y="424.3" width="11.99" height="19.2" fill="#0066cc"/>
<rect x="37.42" y="443.5" width="11.99" height="3.1" fill="#111111"/>
<rect x="37.42" y="446.6" width="11.99" height="7.4" fill="url(#tg)"/>
<rect x="37.42" y="454" width="11.99" height="7.8" fill="#99ffff"/>
<rect x="37.42" y="461.8" width="11.99" height="8.2" fill="#99ffff"/>
<rect x="37.42" y="470" width="11.99" height="8.6" fill="#99ffff"/>
<rect x="37.42" y="478.6" width="11.99" height="8.6" fill="#99ffff"/>
<rect x="37.42" y="487.2" width="11.99" height="9" fill="#99ffff"/>
<rect x="37.42" y="496.2" width="11.99" height="12" fill="#99ffff"/>
<rect x="37.42" y="508.2" width="11.99" height="12.9" fill="#99ffff"/>
<rect x="37.42" y="521.1" width="11.99" height="38.1" fill="#99ffff"/>
<rect x="37.42" y="559.2" width="11.99" height="10.3" fill="#ff6600"/>
<rect x="37.42" y="569.5" width="11.99" height="15.7" fill="#ff6600"/>
<rect x="37.42" y="585.2" width="11.99" height="19.8" fill="#ff6600"/>
<rect x="37.42" y="605" width="11.99" height="57.4" fill="#ff6600"/>
<rect x="37.42" y="662.4" width="11.99" height="5.2" fill="#111111"/>
<rect x="37.42" y="667.6" width="11.99" height="2.06" fill="#666666"/>
<rect x="37.42" y="669.66" width="11.99" height="2.06" fill="#666666"/>
<rect x="37.42" y="671.72" width="11.99" height="2.06" fill="#666666"/>
<rect x="37.42" y="673.78" width="11.99" height="2.06" fill="#666666"/>
<rect x="37.42" y="675.84" width="11.99" height="2.06" fill="#666666"/>
<line x1="37.42" x2="49.41" y1="402.3" y2="402.3" class="olB"/>
<line x1="37.42" x2="49.41" y1="404.2" y2="404.2" class="olB"/>
<line x1="37.42" x2="49.41" y1="410.9" y2="410.9" class="olB"/>
<line x1="37.42" x2="49.41" y1="424.3" y2="424.3" class="olB"/>
<line x1="37.42" x2="49.41" y1="443.5" y2="443.5" class="olB"/>
<line x1="37.42" x2="49.41" y1="446.6" y2="446.6" class="olB"/>
<line x1="37.42" x2="49.41" y1="454" y2="454" class="olB"/>
<line x1="37.42" x2="49.41" y1="461.8" y2="461.8" class="olB"/>
<line x1="37.42" x2="49.41" y1="470" y2="470" class="olB"/>
<line x1="37.42" x2="49.41" y1="478.6" y2="478.6" class="olB"/>
<line x1="37.42" x2="49.41" y1="487.2" y2="487.2" class="olB"/>
<line x1="37.42" x2="49.41" y1="496.2" y2="496.2" class="olB"/>
<line x1="37.42" x2="49.41" y1="508.2" y2="508.2" class="olB"/>
<line x1="37.42" x2="49.41" y1="521.1" y2="521.1" class="olB"/>
<line x1="37.42" x2="49.41" y1="559.2" y2="559.2" class="olB"/>
<line x1="37.42" x2="49.41" y1="569.5" y2="569.5" class="olB"/>
<line x1="37.42" x2="49.41" y1="585.2" y2="585.2" class="olB"/>
<line x1="37.42" x2="49.41" y1="605" y2="605" class="olB"/>
<line x1="37.42" x2="49.41" y1="662.4" y2="662.4" class="olB"/>
<line x1="37.42" x2="49.41" y1="667.6" y2="667.6" class="olB"/>
<line x1="37.42" x2="49.41" y1="669.66" y2="669.66" class="olB"/>
<line x1="37.42" x2="49.41" y1="671.72" y2="671.72" class="olB"/>
<line x1="37.42" x2="49.41" y1="673.78" y2="673.78" class="olB"/>
<line x1="37.42" x2="49.41" y1="675.84" y2="675.84" class="olB"/>
<line x1="37.42" x2="49.41" y1="677.9" y2="677.9" class="olB"/>
<rect x="37.42" y="402.3" width="11.99" height="275.6" fill="none" class="olB"/>
<line x1="43.42" x2="43.42" y1="691.7" y2="693.3" stroke="#333" stroke-width="0.6"/>
<text class="xl" style="font-size:7.17px" transform="translate(40.12,694.6) rotate(90)">Station_22</text>
<rect x="50.45" y="402.3" width="11.99" height="1.9" fill="#0066cc"/>
<rect x="50.45" y="404.2" width="11.99" height="2.7" fill="#0066cc"/>
<rect x="50.45" y="406.9" width="11.99" height="48.5" fill="#0066cc"/>
<rect x="50.45" y="455.4" width="11.99" height="2.2" fill="#111111"/>
<rect x="50.45" y="457.6" width="11.99" height="5.4" fill="url(#tg)"/>
<rect x="50.45" y="463" width="11.99" height="2.3" fill="#99ffff"/>
<rect x="50.45" y="465.3" width="11.99" height="8.2" fill="#99ffff"/>
<rect x="50.45" y="473.5" width="11.99" height="8.8" fill="#99ffff"/>
<rect x="50.45" y="482.3" width="11.99" height="9.1" fill="#99ffff"/>
<rect x="50.45" y="491.4" width="11.99" height="16.1" fill="#99ffff"/>
<rect x="50.45" y="507.5" width="11.99" height="27" fill="#99ffff"/>
<rect x="50.45" y="534.5" width="11.99" height="34.9" fill="#99ffff"/>
<rect x="50.45" y="569.4" width="11.99" height="7.2" fill="#ff6600"/>
<rect x="50.45" y="576.6" width="11.99" height="13.9" fill="#ff6600"/>
<rect x="50.45" y="590.5" width="11.99" height="17.5" fill="#ff6600"/>
<rect x="50.45" y="608" width="11.99" height="52.6" fill="#ff6600"/>
<rect x="50.45" y="660.6" width="11.99" height="5.6" fill="#111111"/>
<rect x="50.45" y="666.2" width="11.99" height="1.95" fill="#666666"/>
<rect x="50.45" y="668.15" width="11.99" height="1.95" fill="#666666"/>
<rect x="50.45" y="670.1" width="11.99" height="1.95" fill="#666666"/>
<rect x="50.45" y="672.05" width="11.99" height="1.95" fill="#666666"/>
<rect x="50.45" y="674" width="11.99" height="1.95" fill="#666666"/>
<rect x="50.45" y="675.95" width="11.99" height="1.95" fill="#666666"/>
<line x1="50.45" x2="62.44" y1="402.3" y2="402.3" class="olB"/>
<line x1="50.45" x2="62.44" y1="404.2" y2="404.2" class="olB"/>
<line x1="50.45" x2="62.44" y1="406.9" y2="406.9" class="olB"/>
<line x1="50.45" x2="62.44" y1="455.4" y2="455.4" class="olB"/>
<line x1="50.45" x2="62.44" y1="457.6" y2="457.6" class="olB"/>
<line x1="50.45" x2="62.44" y1="463" y2="463" class="olB"/>
<line x1="50.45" x2="62.44" y1="465.3" y2="465.3" class="olB"/>
<line x1="50.45" x2="62.44" y1="473.5" y2="473.5" class="olB"/>
<line x1="50.45" x2="62.44" y1="482.3" y2="482.3" class="olB"/>
<line x1="50.45" x2="62.44" y1="491.4" y2="491.4" class="olB"/>
<line x1="50.45" x2="62.44" y1="507.5" y2="507.5" class="olB"/>
<line x1="50.45" x2="62.44" y1="534.5" y2="534.5" class="olB"/>
<line x1="50.45" x2="62.44" y1="569.4" y2="569.4" class="olB"/>
<line x1="50.45" x2="62.44" y1="576.6" y2="576.6" class="olB"/>
<line x1="50.45" x2="62.44" y1="590.5" y2="590.5" class="olB"/>
<line x1="50.45" x2="62.44" y1="608" y2="608" class="olB"/>
<line x1="50.45" x2="62.44" y1="660.6" y2="660.6" class="olB"/>
<line x1="50.45" x2="62.44" y1="666.2" y2="666.2" class="olB"/>
<line x1="50.45" x2="62.44" y1="668.15" y2="668.15" class="olB"/>
<line x1="50.45" x2="62.44" y1="670.1" y2="670.1" class="olB"/>
<line x1="50.45" x2="62.44" y1="672.05" y2="672.05" class="olB"/>
<line x1="50.45" x2="62.44" y1="674" y2="674" class="olB"/>
<line x1="50.45" x2="62.44" y1="675.95" y2="675.95" class="olB"/>
<line x1="50.45" x2="62.44" y1="677.9" y2="677.9" class="olB"/>
<rect x="50.45" y="402.3" width="11.99" height="275.6" fill="none" class="olB"/>
<line x1="56.45" x2="56.45" y1="691.7" y2="693.3" stroke="#333" stroke-width="0.6"/>
<text class="xl" style="font-size:7.17px" transform="translate(53.15,694.6) rotate(90)">Station_21</text>
<rect x="63.48" y="402.3" width="11.99" height="1.2" fill="#0066cc"/>
<rect x="63.48" y="403.5" width="11.99" height="4.1" fill="#0066cc"/>
<rect x="63.48" y="407.6" width="11.99" height="5.7" fill="#0066cc"/>
<rect x="63.48" y="413.3" width="11.99" height="6.9" fill="#0066cc"/>
<rect x="63.48" y="420.2" width="11.99" height="15.9" fill="#0066cc"/>
<rect x="63.48" y="436.1" width="11.99" height="17.7" fill="#0066cc"/>
<rect x="63.48" y="453.8" width="11.99" height="3.8" fill="#111111"/>
<rect x="63.48" y="457.6" width="11.99" height="1.72" fill="#99ffff"/>
<rect x="63.48" y="459.32" width="11.99" height="1.72" fill="#99ffff"/>
<rect x="63.48" y="461.03" width="11.99" height="1.72" fill="#99ffff"/>
<rect x="63.48" y="462.75" width="11.99" height="1.72" fill="#99ffff"/>
<rect x="63.48" y="464.47" width="11.99" height="1.72" fill="#99ffff"/>
<rect x="63.48" y="466.18" width="11.99" height="1.72" fill="#99ffff"/>
<rect x="63.48" y="467.9" width="11.99" height="3.7" fill="#99ffff"/>
<rect x="63.48" y="471.6" width="11.99" height="4.1" fill="#99ffff"/>
<rect x="63.48" y="475.7" width="11.99" height="4.8" fill="#99ffff"/>
<rect x="63.48" y="480.5" width="11.99" height="7.5" fill="#99ffff"/>
<rect x="63.48" y="488" width="11.99" height="8.2" fill="#99ffff"/>
<rect x="63.48" y="496.2" width="11.99" height="12" fill="#99ffff"/>
<rect x="63.48" y="508.2" width="11.99" height="13.3" fill="#99ffff"/>
<rect x="63.48" y="521.5" width="11.99" height="16.7" fill="#99ffff"/>
<rect x="63.48" y="538.2" width="11.99" height="43.2" fill="#99ffff"/>
<rect x="63.48" y="581.4" width="11.99" height="10.2" fill="#ff6600"/>
<rect x="63.48" y="591.6" width="11.99" height="12" fill="#ff6600"/>
<rect x="63.48" y="603.6" width="11.99" height="18.1" fill="#ff6600"/>
<rect x="63.48" y="621.7" width="11.99" height="44.2" fill="#ff6600"/>
<rect x="63.48" y="665.9" width="11.99" height="7.9" fill="#111111"/>
<rect x="63.48" y="673.8" width="11.99" height="1.02" fill="#666666"/>
<rect x="63.48" y="674.82" width="11.99" height="1.02" fill="#666666"/>
<rect x="63.48" y="675.85" width="11.99" height="1.03" fill="#666666"/>
<rect x="63.48" y="676.88" width="11.99" height="1.02" fill="#666666"/>
<line x1="63.48" x2="75.47" y1="402.3" y2="402.3" class="olB"/>
<line x1="63.48" x2="75.47" y1="403.5" y2="403.5" class="olB"/>
<line x1="63.48" x2="75.47" y1="407.6" y2="407.6" class="olB"/>
<line x1="63.48" x2="75.47" y1="413.3" y2="413.3" class="olB"/>
<line x1="63.48" x2="75.47" y1="420.2" y2="420.2" class="olB"/>
<line x1="63.48" x2="75.47" y1="436.1" y2="436.1" class="olB"/>
<line x1="63.48" x2="75.47" y1="453.8" y2="453.8" class="olB"/>
<line x1="63.48" x2="75.47" y1="457.6" y2="457.6" class="olB"/>
<line x1="63.48" x2="75.47" y1="459.32" y2="459.32" class="olB"/>
<line x1="63.48" x2="75.47" y1="461.03" y2="461.03" class="olB"/>
<line x1="63.48" x2="75.47" y1="462.75" y2="462.75" class="olB"/>
<line x1="63.48" x2="75.47" y1="464.47" y2="464.47" class="olB"/>
<line x1="63.48" x2="75.47" y1="466.18" y2="466.18" class="olB"/>
<line x1="63.48" x2="75.47" y1="467.9" y2="467.9" class="olB"/>
<line x1="63.48" x2="75.47" y1="471.6" y2="471.6" class="olB"/>
<line x1="63.48" x2="75.47" y1="475.7" y2="475.7" class="olB"/>
<line x1="63.48" x2="75.47" y1="480.5" y2="480.5" class="olB"/>
<line x1="63.48" x2="75.47" y1="488" y2="488" class="olB"/>
<line x1="63.48" x2="75.47" y1="496.2" y2="496.2" class="olB"/>
<line x1="63.48" x2="75.47" y1="508.2" y2="508.2" class="olB"/>
<line x1="63.48" x2="75.47" y1="521.5" y2="521.5" class="olB"/>
<line x1="63.48" x2="75.47" y1="538.2" y2="538.2" class="olB"/>
<line x1="63.48" x2="75.47" y1="581.4" y2="581.4" class="olB"/>
<line x1="63.48" x2="75.47" y1="591.6" y2="591.6" class="olB"/>
<line x1="63.48" x2="75.47" y1="603.6" y2="603.6" class="olB"/>
<line x1="63.48" x2="75.47" y1="621.7" y2="621.7" class="olB"/>
<line x1="63.48" x2="75.47" y1="665.9" y2="665.9" class="olB"/>
<line x1="63.48" x2="75.47" y1="673.8" y2="673.8" class="olB"/>
<line x1="63.48" x2="75.47" y1="674.82" y2="674.82" class="olB"/>
<line x1="63.48" x2="75.47" y1="675.85" y2="675.85" class="olB"/>
<line x1="63.48" x2="75.47" y1="676.88" y2="676.88" class="olB"/>
<line x1="63.48" x2="75.47" y1="677.9" y2="677.9" class="olB"/>
<rect x="63.48" y="402.3" width="11.99" height="275.6" fill="none" class="olB"/>
<line x1="69.48" x2="69.48" y1="691.7" y2="693.3" stroke="#333" stroke-width="0.6"/>
<text class="xl" style="font-size:7.17px" transform="translate(66.18,694.6) rotate(90)">Station_20</text>
<rect x="80.8" y="379.2" width="67.76" height="9.9" fill="#d9d9d9"/>
<text x="114.67" y="385.8" class="st">Van Mijenfjorden</text>
<rect x="80.8" y="389.1" width="67.76" height="302.6" fill="#ebebeb"/>
<line x1="80.8" x2="148.55" y1="643.45" y2="643.45" stroke="#fff" stroke-width="0.5"/>
<line x1="80.8" x2="148.55" y1="574.55" y2="574.55" stroke="#fff" stroke-width="0.5"/>
<line x1="80.8" x2="148.55" y1="505.65" y2="505.65" stroke="#fff" stroke-width="0.5"/>
<line x1="80.8" x2="148.55" y1="436.75" y2="436.75" stroke="#fff" stroke-width="0.5"/>
<line x1="80.8" x2="148.55" y1="677.9" y2="677.9" stroke="#fff" stroke-width="1"/>
<line x1="80.8" x2="148.55" y1="609" y2="609" stroke="#fff" stroke-width="1"/>
<line x1="80.8" x2="148.55" y1="540.1" y2="540.1" stroke="#fff" stroke-width="1"/>
<line x1="80.8" x2="148.55" y1="471.2" y2="471.2" stroke="#fff" stroke-width="1"/>
<line x1="80.8" x2="148.55" y1="402.3" y2="402.3" stroke="#fff" stroke-width="1"/>
<line x1="88.61" x2="88.61" y1="389.1" y2="691.7" stroke="#fff" stroke-width="1"/>
<line x1="101.64" x2="101.64" y1="389.1" y2="691.7" stroke="#fff" stroke-width="1"/>
<line x1="114.67" x2="114.67" y1="389.1" y2="691.7" stroke="#fff" stroke-width="1"/>
<line x1="127.7" x2="127.7" y1="389.1" y2="691.7" stroke="#fff" stroke-width="1"/>
<line x1="140.73" x2="140.73" y1="389.1" y2="691.7" stroke="#fff" stroke-width="1"/>
<rect x="82.62" y="402.3" width="11.99" height="1.9" fill="#0066cc"/>
<rect x="82.62" y="404.2" width="11.99" height="2.3" fill="#0066cc"/>
<rect x="82.62" y="406.5" width="11.99" height="8.8" fill="#0066cc"/>
<rect x="82.62" y="415.3" width="11.99" height="3.9" fill="url(#tg)"/>
<rect x="82.62" y="419.2" width="11.99" height="1.27" fill="#99ffff"/>
<rect x="82.62" y="420.47" width="11.99" height="1.27" fill="#99ffff"/>
<rect x="82.62" y="421.73" width="11.99" height="1.27" fill="#99ffff"/>
<rect x="82.62" y="423" width="11.99" height="3.1" fill="#99ffff"/>
<rect x="82.62" y="426.1" width="11.99" height="4.1" fill="#99ffff"/>
<rect x="82.62" y="430.2" width="11.99" height="4.5" fill="#99ffff"/>
<rect x="82.62" y="434.7" width="11.99" height="5.8" fill="#99ffff"/>
<rect x="82.62" y="440.5" width="11.99" height="8.2" fill="#99ffff"/>
<rect x="82.62" y="448.7" width="11.99" height="7.9" fill="#99ffff"/>
<rect x="82.62" y="456.6" width="11.99" height="11.3" fill="#99ffff"/>
<rect x="82.62" y="467.9" width="11.99" height="19.8" fill="#99ffff"/>
<rect x="82.62" y="487.7" width="11.99" height="22.8" fill="#99ffff"/>
<rect x="82.62" y="510.5" width="11.99" height="26.3" fill="#99ffff"/>
<rect x="82.62" y="536.8" width="11.99" height="28.3" fill="#99ffff"/>
<rect x="82.62" y="565.1" width="11.99" height="60.4" fill="#99ffff"/>
<rect x="82.62" y="625.5" width="11.99" height="15" fill="#ff6600"/>
<rect x="82.62" y="640.5" width="11.99" height="14.3" fill="#ff6600"/>
<rect x="82.62" y="654.8" width="11.99" height="3.9" fill="#111111"/>
<rect x="82.62" y="658.7" width="11.99" height="2.1" fill="#666666"/>
<rect x="82.62" y="660.8" width="11.99" height="4.5" fill="#666666"/>
<rect x="82.62" y="665.3" width="11.99" height="12.6" fill="#666666"/>
<line x1="82.62" x2="94.61" y1="402.3" y2="402.3" class="olB"/>
<line x1="82.62" x2="94.61" y1="404.2" y2="404.2" class="olB"/>
<line x1="82.62" x2="94.61" y1="406.5" y2="406.5" class="olB"/>
<line x1="82.62" x2="94.61" y1="415.3" y2="415.3" class="olB"/>
<line x1="82.62" x2="94.61" y1="419.2" y2="419.2" class="olB"/>
<line x1="82.62" x2="94.61" y1="420.47" y2="420.47" class="olB"/>
<line x1="82.62" x2="94.61" y1="421.73" y2="421.73" class="olB"/>
<line x1="82.62" x2="94.61" y1="423" y2="423" class="olB"/>
<line x1="82.62" x2="94.61" y1="426.1" y2="426.1" class="olB"/>
<line x1="82.62" x2="94.61" y1="430.2" y2="430.2" class="olB"/>
<line x1="82.62" x2="94.61" y1="434.7" y2="434.7" class="olB"/>
<line x1="82.62" x2="94.61" y1="440.5" y2="440.5" class="olB"/>
<line x1="82.62" x2="94.61" y1="448.7" y2="448.7" class="olB"/>
<line x1="82.62" x2="94.61" y1="456.6" y2="456.6" class="olB"/>
<line x1="82.62" x2="94.61" y1="467.9" y2="467.9" class="olB"/>
<line x1="82.62" x2="94.61" y1="487.7" y2="487.7" class="olB"/>
<line x1="82.62" x2="94.61" y1="510.5" y2="510.5" class="olB"/>
<line x1="82.62" x2="94.61" y1="536.8" y2="536.8" class="olB"/>
<line x1="82.62" x2="94.61" y1="565.1" y2="565.1" class="olB"/>
<line x1="82.62" x2="94.61" y1="625.5" y2="625.5" class="olB"/>
<line x1="82.62" x2="94.61" y1="640.5" y2="640.5" class="olB"/>
<line x1="82.62" x2="94.61" y1="654.8" y2="654.8" class="olB"/>
<line x1="82.62" x2="94.61" y1="658.7" y2="658.7" class="olB"/>
<line x1="82.62" x2="94.61" y1="660.8" y2="660.8" class="olB"/>
<line x1="82.62" x2="94.61" y1="665.3" y2="665.3" class="olB"/>
<line x1="82.62" x2="94.61" y1="677.9" y2="677.9" class="olB"/>
<rect x="82.62" y="402.3" width="11.99" height="275.6" fill="none" class="olB"/>
<line x1="88.61" x2="88.61" y1="691.7" y2="693.3" stroke="#333" stroke-width="0.6"/>
<text class="xl" style="font-size:7.17px" transform="translate(85.31,694.6) rotate(90)">Station_05</text>
<rect x="95.65" y="402.3" width="11.99" height="1.9" fill="#0066cc"/>
<rect x="95.65" y="404.2" width="11.99" height="3.1" fill="#0066cc"/>
<rect x="95.65" y="407.3" width="11.99" height="8.7" fill="#0066cc"/>
<rect x="95.65" y="416" width="11.99" height="2.3" fill="#111111"/>
<rect x="95.65" y="418.3" width="11.99" height="4" fill="url(#tg)"/>
<rect x="95.65" y="422.3" width="11.99" height="1.5" fill="#99ffff"/>
<rect x="95.65" y="423.8" width="11.99" height="1.5" fill="#99ffff"/>
<rect x="95.65" y="425.3" width="11.99" height="1.5" fill="#99ffff"/>
<rect x="95.65" y="426.8" width="11.99" height="4.1" fill="#99ffff"/>
<rect x="95.65" y="430.9" width="11.99" height="8.9" fill="#99ffff"/>
<rect x="95.65" y="439.8" width="11.99" height="9.6" fill="#99ffff"/>
<rect x="95.65" y="449.4" width="11.99" height="8.9" fill="#99ffff"/>
<rect x="95.65" y="458.3" width="11.99" height="10.2" fill="#99ffff"/>
<rect x="95.65" y="468.5" width="11.99" height="15.1" fill="#99ffff"/>
<rect x="95.65" y="483.6" width="11.99" height="20.1" fill="#99ffff"/>
<rect x="95.65" y="503.7" width="11.99" height="66.8" fill="#99ffff"/>
<rect x="95.65" y="570.5" width="11.99" height="83.3" fill="#99ffff"/>
<rect x="95.65" y="653.8" width="11.99" height="6.6" fill="#ff6600"/>
<rect x="95.65" y="660.4" width="11.99" height="12.1" fill="#ff6600"/>
<rect x="95.65" y="672.5" width="11.99" height="5.4" fill="#111111"/>
<line x1="95.65" x2="107.64" y1="402.3" y2="402.3" class="olB"/>
<line x1="95.65" x2="107.64" y1="404.2" y2="404.2" class="olB"/>
<line x1="95.65" x2="107.64" y1="407.3" y2="407.3" class="olB"/>
<line x1="95.65" x2="107.64" y1="416" y2="416" class="olB"/>
<line x1="95.65" x2="107.64" y1="418.3" y2="418.3" class="olB"/>
<line x1="95.65" x2="107.64" y1="422.3" y2="422.3" class="olB"/>
<line x1="95.65" x2="107.64" y1="423.8" y2="423.8" class="olB"/>
<line x1="95.65" x2="107.64" y1="425.3" y2="425.3" class="olB"/>
<line x1="95.65" x2="107.64" y1="426.8" y2="426.8" class="olB"/>
<line x1="95.65" x2="107.64" y1="430.9" y2="430.9" class="olB"/>
<line x1="95.65" x2="107.64" y1="439.8" y2="439.8" class="olB"/>
<line x1="95.65" x2="107.64" y1="449.4" y2="449.4" class="olB"/>
<line x1="95.65" x2="107.64" y1="458.3" y2="458.3" class="olB"/>
<line x1="95.65" x2="107.64" y1="468.5" y2="468.5" class="olB"/>
<line x1="95.65" x2="107.64" y1="483.6" y2="483.6" class="olB"/>
<line x1="95.65" x2="107.64" y1="503.7" y2="503.7" class="olB"/>
<line x1="95.65" x2="107.64" y1="570.5" y2="570.5" class="olB"/>
<line x1="95.65" x2="107.64" y1="653.8" y2="653.8" class="olB"/>
<line x1="95.65" x2="107.64" y1="660.4" y2="660.4" class="olB"/>
<line x1="95.65" x2="107.64" y1="672.5" y2="672.5" class="olB"/>
<line x1="95.65" x2="107.64" y1="677.9" y2="677.9" class="olB"/>
<rect x="95.65" y="402.3" width="11.99" height="275.6" fill="none" class="olB"/>
<line x1="101.64" x2="101.64" y1="691.7" y2="693.3" stroke="#333" stroke-width="0.6"/>
<text class="xl" style="font-size:7.17px" transform="translate(98.34,694.6) rotate(90)">Station_04</text>
<rect x="108.68" y="402.3" width="11.99" height="1.2" fill="#0066cc"/>
<rect x="108.68" y="403.5" width="11.99" height="2.5" fill="#0066cc"/>
<rect x="108.68" y="406" width="11.99" height="1.9" fill="#0066cc"/>
<rect x="108.68" y="407.9" width="11.99" height="25.2" fill="#0066cc"/>
<rect x="108.68" y="433.1" width="11.99" height="3" fill="#111111"/>
<rect x="108.68" y="436.1" width="11.99" height="4.1" fill="url(#tg)"/>
<rect x="108.68" y="440.2" width="11.99" height="1.5" fill="#99ffff"/>
<rect x="108.68" y="441.7" width="11.99" height="1.5" fill="#99ffff"/>
<rect x="108.68" y="443.2" width="11.99" height="4.1" fill="#99ffff"/>
<rect x="108.68" y="447.3" width="11.99" height="4.8" fill="#99ffff"/>
<rect x="108.68" y="452.1" width="11.99" height="5.5" fill="#99ffff"/>
<rect x="108.68" y="457.6" width="11.99" height="10.9" fill="#99ffff"/>
<rect x="108.68" y="468.5" width="11.99" height="20.6" fill="#99ffff"/>
<rect x="108.68" y="489.1" width="11.99" height="28.3" fill="#99ffff"/>
<rect x="108.68" y="517.4" width="11.99" height="29" fill="#99ffff"/>
<rect x="108.68" y="546.4" width="11.99" height="39.4" fill="#99ffff"/>
<rect x="108.68" y="585.8" width="11.99" height="61.9" fill="#99ffff"/>
<rect x="108.68" y="647.7" width="11.99" height="4.5" fill="#ff6600"/>
<rect x="108.68" y="652.2" width="11.99" height="7.4" fill="#ff6600"/>
<rect x="108.68" y="659.6" width="11.99" height="4.6" fill="#111111"/>
<rect x="108.68" y="664.2" width="11.99" height="2.28" fill="#666666"/>
<rect x="108.68" y="666.48" width="11.99" height="2.28" fill="#666666"/>
<rect x="108.68" y="668.77" width="11.99" height="2.28" fill="#666666"/>
<rect x="108.68" y="671.05" width="11.99" height="2.28" fill="#666666"/>
<rect x="108.68" y="673.33" width="11.99" height="2.28" fill="#666666"/>
<rect x="108.68" y="675.62" width="11.99" height="2.28" fill="#666666"/>
<line x1="108.68" x2="120.67" y1="402.3" y2="402.3" class="olB"/>
<line x1="108.68" x2="120.67" y1="403.5" y2="403.5" class="olB"/>
<line x1="108.68" x2="120.67" y1="406" y2="406" class="olB"/>
<line x1="108.68" x2="120.67" y1="407.9" y2="407.9" class="olB"/>
<line x1="108.68" x2="120.67" y1="433.1" y2="433.1" class="olB"/>
<line x1="108.68" x2="120.67" y1="436.1" y2="436.1" class="olB"/>
<line x1="108.68" x2="120.67" y1="440.2" y2="440.2" class="olB"/>
<line x1="108.68" x2="120.67" y1="441.7" y2="441.7" class="olB"/>
<line x1="108.68" x2="120.67" y1="443.2" y2="443.2" class="olB"/>
<line x1="108.68" x2="120.67" y1="447.3" y2="447.3" class="olB"/>
<line x1="108.68" x2="120.67" y1="452.1" y2="452.1" class="olB"/>
<line x1="108.68" x2="120.67" y1="457.6" y2="457.6" class="olB"/>
<line x1="108.68" x2="120.67" y1="468.5" y2="468.5" class="olB"/>
<line x1="108.68" x2="120.67" y1="489.1" y2="489.1" class="olB"/>
<line x1="108.68" x2="120.67" y1="517.4" y2="517.4" class="olB"/>
<line x1="108.68" x2="120.67" y1="546.4" y2="546.4" class="olB"/>
<line x1="108.68" x2="120.67" y1="585.8" y2="585.8" class="olB"/>
<line x1="108.68" x2="120.67" y1="647.7" y2="647.7" class="olB"/>
<line x1="108.68" x2="120.67" y1="652.2" y2="652.2" class="olB"/>
<line x1="108.68" x2="120.67" y1="659.6" y2="659.6" class="olB"/>
<line x1="108.68" x2="120.67" y1="664.2" y2="664.2" class="olB"/>
<line x1="108.68" x2="120.67" y1="666.48" y2="666.48" class="olB"/>
<line x1="108.68" x2="120.67" y1="668.77" y2="668.77" class="olB"/>
<line x1="108.68" x2="120.67" y1="671.05" y2="671.05" class="olB"/>
<line x1="108.68" x2="120.67" y1="673.33" y2="673.33" class="olB"/>
<line x1="108.68" x2="120.67" y1="675.62" y2="675.62" class="olB"/>
<line x1="108.68" x2="120.67" y1="677.9" y2="677.9" class="olB"/>
<rect x="108.68" y="402.3" width="11.99" height="275.6" fill="none" class="olB"/>
<line x1="114.67" x2="114.67" y1="691.7" y2="693.3" stroke="#333" stroke-width="0.6"/>
<text class="xl" style="font-size:7.17px" transform="translate(111.37,694.6) rotate(90)">Station_03</text>
<rect x="121.71" y="402.3" width="11.99" height="1.2" fill="#0066cc"/>
<rect x="121.71" y="403.5" width="11.99" height="7.5" fill="#0066cc"/>
<rect x="121.71" y="411" width="11.99" height="20" fill="#0066cc"/>
<rect x="121.71" y="431" width="11.99" height="2.3" fill="#111111"/>
<rect x="121.71" y="433.3" width="11.99" height="4.9" fill="url(#tg)"/>
<rect x="121.71" y="438.2" width="11.99" height="1.93" fill="#99ffff"/>
<rect x="121.71" y="440.12" width="11.99" height="1.92" fill="#99ffff"/>
<rect x="121.71" y="442.05" width="11.99" height="1.93" fill="#99ffff"/>
<rect x="121.71" y="443.97" width="11.99" height="1.93" fill="#99ffff"/>
<rect x="121.71" y="445.9" width="11.99" height="7.2" fill="#99ffff"/>
<rect x="121.71" y="453.1" width="11.99" height="10" fill="#99ffff"/>
<rect x="121.71" y="463.1" width="11.99" height="10.2" fill="#99ffff"/>
<rect x="121.71" y="473.3" width="11.99" height="22.9" fill="#99ffff"/>
<rect x="121.71" y="496.2" width="11.99" height="28.3" fill="#99ffff"/>
<rect x="121.71" y="524.5" width="11.99" height="30.3" fill="#99ffff"/>
<rect x="121.71" y="554.8" width="11.99" height="40.9" fill="#99ffff"/>
<rect x="121.71" y="595.7" width="11.99" height="59.9" fill="#99ffff"/>
<rect x="121.71" y="655.6" width="11.99" height="3.7" fill="#ff6600"/>
<rect x="121.71" y="659.3" width="11.99" height="3.6" fill="#ff6600"/>
<rect x="121.71" y="662.9" width="11.99" height="6.8" fill="#111111"/>
<rect x="121.71" y="669.7" width="11.99" height="1.64" fill="#666666"/>
<rect x="121.71" y="671.34" width="11.99" height="1.64" fill="#666666"/>
<rect x="121.71" y="672.98" width="11.99" height="1.64" fill="#666666"/>
<rect x="121.71" y="674.62" width="11.99" height="1.64" fill="#666666"/>
<rect x="121.71" y="676.26" width="11.99" height="1.64" fill="#666666"/>
<line x1="121.71" x2="133.7" y1="402.3" y2="402.3" class="olB"/>
<line x1="121.71" x2="133.7" y1="403.5" y2="403.5" class="olB"/>
<line x1="121.71" x2="133.7" y1="411" y2="411" class="olB"/>
<line x1="121.71" x2="133.7" y1="431" y2="431" class="olB"/>
<line x1="121.71" x2="133.7" y1="433.3" y2="433.3" class="olB"/>
<line x1="121.71" x2="133.7" y1="438.2" y2="438.2" class="olB"/>
<line x1="121.71" x2="133.7" y1="440.12" y2="440.12" class="olB"/>
<line x1="121.71" x2="133.7" y1="442.05" y2="442.05" class="olB"/>
<line x1="121.71" x2="133.7" y1="443.97" y2="443.97" class="olB"/>
<line x1="121.71" x2="133.7" y1="445.9" y2="445.9" class="olB"/>
<line x1="121.71" x2="133.7" y1="453.1" y2="453.1" class="olB"/>
<line x1="121.71" x2="133.7" y1="463.1" y2="463.1" class="olB"/>
<line x1="121.71" x2="133.7" y1="473.3" y2="473.3" class="olB"/>
<line x1="121.71" x2="133.7" y1="496.2" y2="496.2" class="olB"/>
<line x1="121.71" x2="133.7" y1="524.5" y2="524.5" class="olB"/>
<line x1="121.71" x2="133.7" y1="554.8" y2="554.8" class="olB"/>
<line x1="121.71" x2="133.7" y1="595.7" y2="595.7" class="olB"/>
<line x1="121.71" x2="133.7" y1="655.6" y2="655.6" class="olB"/>
<line x1="121.71" x2="133.7" y1="659.3" y2="659.3" class="olB"/>
<line x1="121.71" x2="133.7" y1="662.9" y2="662.9" class="olB"/>
<line x1="121.71" x2="133.7" y1="669.7" y2="669.7" class="olB"/>
<line x1="121.71" x2="133.7" y1="671.34" y2="671.34" class="olB"/>
<line x1="121.71" x2="133.7" y1="672.98" y2="672.98" class="olB"/>
<line x1="121.71" x2="133.7" y1="674.62" y2="674.62" class="olB"/>
<line x1="121.71" x2="133.7" y1="676.26" y2="676.26" class="olB"/>
<line x1="121.71" x2="133.7" y1="677.9" y2="677.9" class="olB"/>
<rect x="121.71" y="402.3" width="11.99" height="275.6" fill="none" class="olB"/>
<line x1="127.7" x2="127.7" y1="691.7" y2="693.3" stroke="#333" stroke-width="0.6"/>
<text class="xl" style="font-size:7.17px" transform="translate(124.4,694.6) rotate(90)">Station_02</text>
<rect x="134.74" y="402.3" width="11.99" height="1.2" fill="#0066cc"/>
<rect x="134.74" y="403.5" width="11.99" height="2.7" fill="#0066cc"/>
<rect x="134.74" y="406.2" width="11.99" height="7.1" fill="#0066cc"/>
<rect x="134.74" y="413.3" width="11.99" height="14.8" fill="#0066cc"/>
<rect x="134.74" y="428.1" width="11.99" height="21.4" fill="#0066cc"/>
<rect x="134.74" y="449.5" width="11.99" height="4" fill="url(#tg)"/>
<rect x="134.74" y="453.5" width="11.99" height="2.27" fill="#99ffff"/>
<rect x="134.74" y="455.77" width="11.99" height="2.27" fill="#99ffff"/>
<rect x="134.74" y="458.03" width="11.99" height="2.27" fill="#99ffff"/>
<rect x="134.74" y="460.3" width="11.99" height="5.1" fill="#99ffff"/>
<rect x="134.74" y="465.4" width="11.99" height="5.9" fill="#99ffff"/>
<rect x="134.74" y="471.3" width="11.99" height="8.9" fill="#99ffff"/>
<rect x="134.74" y="480.2" width="11.99" height="15.2" fill="#99ffff"/>
<rect x="134.74" y="495.4" width="11.99" height="27.9" fill="#99ffff"/>
<rect x="134.74" y="523.3" width="11.99" height="29" fill="#99ffff"/>
<rect x="134.74" y="552.3" width="11.99" height="32.9" fill="#99ffff"/>
<rect x="134.74" y="585.2" width="11.99" height="3.8" fill="#ff6600"/>
<rect x="134.74" y="589" width="11.99" height="2.5" fill="#111111"/>
<rect x="134.74" y="591.5" width="11.99" height="3.04" fill="#666666"/>
<rect x="134.74" y="594.54" width="11.99" height="3.04" fill="#666666"/>
<rect x="134.74" y="597.57" width="11.99" height="3.04" fill="#666666"/>
<rect x="134.74" y="600.61" width="11.99" height="3.04" fill="#666666"/>
<rect x="134.74" y="603.64" width="11.99" height="3.04" fill="#666666"/>
<rect x="134.74" y="606.68" width="11.99" height="3.04" fill="#666666"/>
<rect x="134.74" y="609.71" width="11.99" height="3.04" fill="#666666"/>
<rect x="134.74" y="612.75" width="11.99" height="3.04" fill="#666666"/>
<rect x="134.74" y="615.79" width="11.99" height="3.04" fill="#666666"/>
<rect x="134.74" y="618.82" width="11.99" height="3.04" fill="#666666"/>
<rect x="134.74" y="621.86" width="11.99" height="3.04" fill="#666666"/>
<rect x="134.74" y="624.89" width="11.99" height="3.04" fill="#666666"/>
<rect x="134.74" y="627.93" width="11.99" height="3.04" fill="#666666"/>
<rect x="134.74" y="630.96" width="11.99" height="3.04" fill="#666666"/>
<rect x="134.74" y="634" width="11.99" height="8" fill="#666666"/>
<rect x="134.74" y="642" width="11.99" height="15" fill="#666666"/>
<rect x="134.74" y="657" width="11.99" height="20.9" fill="#666666"/>
<line x1="134.74" x2="146.73" y1="402.3" y2="402.3" class="olB"/>
<line x1="134.74" x2="146.73" y1="403.5" y2="403.5" class="olB"/>
<line x1="134.74" x2="146.73" y1="406.2" y2="406.2" class="olB"/>
<line x1="134.74" x2="146.73" y1="413.3" y2="413.3" class="olB"/>
<line x1="134.74" x2="146.73" y1="428.1" y2="428.1" class="olB"/>
<line x1="134.74" x2="146.73" y1="449.5" y2="449.5" class="olB"/>
<line x1="134.74" x2="146.73" y1="453.5" y2="453.5" class="olB"/>
<line x1="134.74" x2="146.73" y1="455.77" y2="455.77" class="olB"/>
<line x1="134.74" x2="146.73" y1="458.03" y2="458.03" class="olB"/>
<line x1="134.74" x2="146.73" y1="460.3" y2="460.3" class="olB"/>
<line x1="134.74" x2="146.73" y1="465.4" y2="465.4" class="olB"/>
<line x1="134.74" x2="146.73" y1="471.3" y2="471.3" class="olB"/>
<line x1="134.74" x2="146.73" y1="480.2" y2="480.2" class="olB"/>
<line x1="134.74" x2="146.73" y1="495.4" y2="495.4" class="olB"/>
<line x1="134.74" x2="146.73" y1="523.3" y2="523.3" class="olB"/>
<line x1="134.74" x2="146.73" y1="552.3" y2="552.3" class="olB"/>
<line x1="134.74" x2="146.73" y1="585.2" y2="585.2" class="olB"/>
<line x1="134.74" x2="146.73" y1="589" y2="589" class="olB"/>
<line x1="134.74" x2="146.73" y1="591.5" y2="591.5" class="olB"/>
<line x1="134.74" x2="146.73" y1="594.54" y2="594.54" class="olB"/>
<line x1="134.74" x2="146.73" y1="597.57" y2="597.57" class="olB"/>
<line x1="134.74" x2="146.73" y1="600.61" y2="600.61" class="olB"/>
<line x1="134.74" x2="146.73" y1="603.64" y2="603.64" class="olB"/>
<line x1="134.74" x2="146.73" y1="606.68" y2="606.68" class="olB"/>
<line x1="134.74" x2="146.73" y1="609.71" y2="609.71" class="olB"/>
<line x1="134.74" x2="146.73" y1="612.75" y2="612.75" class="olB"/>
<line x1="134.74" x2="146.73" y1="615.79" y2="615.79" class="olB"/>
<line x1="134.74" x2="146.73" y1="618.82" y2="618.82" class="olB"/>
<line x1="134.74" x2="146.73" y1="621.86" y2="621.86" class="olB"/>
<line x1="134.74" x2="146.73" y1="624.89" y2="624.89" class="olB"/>
<line x1="134.74" x2="146.73" y1="627.93" y2="627.93" class="olB"/>
<line x1="134.74" x2="146.73" y1="630.96" y2="630.96" class="olB"/>
<line x1="134.74" x2="146.73" y1="634" y2="634" class="olB"/>
<line x1="134.74" x2="146.73" y1="642" y2="642" class="olB"/>
<line x1="134.74" x2="146.73" y1="657" y2="657" class="olB"/>
<line x1="134.74" x2="146.73" y1="677.9" y2="677.9" class="olB"/>
<rect x="134.74" y="402.3" width="11.99" height="275.6" fill="none" class="olB"/>
<line x1="140.73" x2="140.73" y1="691.7" y2="693.3" stroke="#333" stroke-width="0.6"/>
<text class="xl" style="font-size:7.17px" transform="translate(137.43,694.6) rotate(90)">Station_01</text>
<rect x="152.05" y="379.2" width="80.79" height="9.9" fill="#d9d9d9"/>
<text x="192.44" y="385.8" class="st">Isfjorden</text>
<rect x="152.05" y="389.1" width="80.79" height="302.6" fill="#ebebeb"/>
<line x1="152.05" x2="232.84" y1="643.45" y2="643.45" stroke="#fff" stroke-width="0.5"/>
<line x1="152.05" x2="232.84" y1="574.55" y2="574.55" stroke="#fff" stroke-width="0.5"/>
<line x1="152.05" x2="232.84" y1="505.65" y2="505.65" stroke="#fff" stroke-width="0.5"/>
<line x1="152.05" x2="232.84" y1="436.75" y2="436.75" stroke="#fff" stroke-width="0.5"/>
<line x1="152.05" x2="232.84" y1="677.9" y2="677.9" stroke="#fff" stroke-width="1"/>
<line x1="152.05" x2="232.84" y1="609" y2="609" stroke="#fff" stroke-width="1"/>
<line x1="152.05" x2="232.84" y1="540.1" y2="540.1" stroke="#fff" stroke-width="1"/>
<line x1="152.05" x2="232.84" y1="471.2" y2="471.2" stroke="#fff" stroke-width="1"/>
<line x1="152.05" x2="232.84" y1="402.3" y2="402.3" stroke="#fff" stroke-width="1"/>
<line x1="159.87" x2="159.87" y1="389.1" y2="691.7" stroke="#fff" stroke-width="1"/>
<line x1="172.9" x2="172.9" y1="389.1" y2="691.7" stroke="#fff" stroke-width="1"/>
<line x1="185.93" x2="185.93" y1="389.1" y2="691.7" stroke="#fff" stroke-width="1"/>
<line x1="198.96" x2="198.96" y1="389.1" y2="691.7" stroke="#fff" stroke-width="1"/>
<line x1="211.99" x2="211.99" y1="389.1" y2="691.7" stroke="#fff" stroke-width="1"/>
<line x1="225.02" x2="225.02" y1="389.1" y2="691.7" stroke="#fff" stroke-width="1"/>
<rect x="153.88" y="402.3" width="11.99" height="1.4" fill="#0066cc"/>
<rect x="153.88" y="403.7" width="11.99" height="2.8" fill="#0066cc"/>
<rect x="153.88" y="406.5" width="11.99" height="3.3" fill="#0066cc"/>
<rect x="153.88" y="409.8" width="11.99" height="4.2" fill="#0066cc"/>
<rect x="153.88" y="414" width="11.99" height="2.3" fill="#111111"/>
<rect x="153.88" y="416.3" width="11.99" height="8.2" fill="url(#tg)"/>
<rect x="153.88" y="424.5" width="11.99" height="2.27" fill="#99ffff"/>
<rect x="153.88" y="426.77" width="11.99" height="2.28" fill="#99ffff"/>
<rect x="153.88" y="429.05" width="11.99" height="2.28" fill="#99ffff"/>
<rect x="153.88" y="431.33" width="11.99" height="2.27" fill="#99ffff"/>
<rect x="153.88" y="433.6" width="11.99" height="17.5" fill="#99ffff"/>
<rect x="153.88" y="451.1" width="11.99" height="20.1" fill="#99ffff"/>
<rect x="153.88" y="471.2" width="11.99" height="24.3" fill="#99ffff"/>
<rect x="153.88" y="495.5" width="11.99" height="27.2" fill="#99ffff"/>
<rect x="153.88" y="522.7" width="11.99" height="28.9" fill="#99ffff"/>
<rect x="153.88" y="551.6" width="11.99" height="2.27" fill="#ff6600"/>
<rect x="153.88" y="553.87" width="11.99" height="2.27" fill="#ff6600"/>
<rect x="153.88" y="556.13" width="11.99" height="2.27" fill="#ff6600"/>
<rect x="153.88" y="558.4" width="11.99" height="111.9" fill="#ff6600"/>
<rect x="153.88" y="670.3" width="11.99" height="3.2" fill="#111111"/>
<rect x="153.88" y="673.5" width="11.99" height="4.4" fill="#666666"/>
<line x1="153.88" x2="165.86" y1="402.3" y2="402.3" class="olB"/>
<line x1="153.88" x2="165.86" y1="403.7" y2="403.7" class="olB"/>
<line x1="153.88" x2="165.86" y1="406.5" y2="406.5" class="olB"/>
<line x1="153.88" x2="165.86" y1="409.8" y2="409.8" class="olB"/>
<line x1="153.88" x2="165.86" y1="414" y2="414" class="olB"/>
<line x1="153.88" x2="165.86" y1="416.3" y2="416.3" class="olB"/>
<line x1="153.88" x2="165.86" y1="424.5" y2="424.5" class="olB"/>
<line x1="153.88" x2="165.86" y1="426.77" y2="426.77" class="olB"/>
<line x1="153.88" x2="165.86" y1="429.05" y2="429.05" class="olB"/>
<line x1="153.88" x2="165.86" y1="431.33" y2="431.33" class="olB"/>
<line x1="153.88" x2="165.86" y1="433.6" y2="433.6" class="olB"/>
<line x1="153.88" x2="165.86" y1="451.1" y2="451.1" class="olB"/>
<line x1="153.88" x2="165.86" y1="471.2" y2="471.2" class="olB"/>
<line x1="153.88" x2="165.86" y1="495.5" y2="495.5" class="olB"/>
<line x1="153.88" x2="165.86" y1="522.7" y2="522.7" class="olB"/>
<line x1="153.88" x2="165.86" y1="551.6" y2="551.6" class="olB"/>
<line x1="153.88" x2="165.86" y1="553.87" y2="553.87" class="olB"/>
<line x1="153.88" x2="165.86" y1="556.13" y2="556.13" class="olB"/>
<line x1="153.88" x2="165.86" y1="558.4" y2="558.4" class="olB"/>
<line x1="153.88" x2="165.86" y1="670.3" y2="670.3" class="olB"/>
<line x1="153.88" x2="165.86" y1="673.5" y2="673.5" class="olB"/>
<line x1="153.88" x2="165.86" y1="677.9" y2="677.9" class="olB"/>
<rect x="153.88" y="402.3" width="11.99" height="275.6" fill="none" class="olB"/>
<line x1="159.87" x2="159.87" y1="691.7" y2="693.3" stroke="#333" stroke-width="0.6"/>
<text class="xl" style="font-size:7.17px" transform="translate(156.57,694.6) rotate(90)">Station_23</text>
<rect x="166.91" y="402.3" width="11.99" height="2.6" fill="#0066cc"/>
<rect x="166.91" y="404.9" width="11.99" height="3.2" fill="#0066cc"/>
<rect x="166.91" y="408.1" width="11.99" height="2.2" fill="#0066cc"/>
<rect x="166.91" y="410.3" width="11.99" height="6.5" fill="#0066cc"/>
<rect x="166.91" y="416.8" width="11.99" height="2.8" fill="#111111"/>
<rect x="166.91" y="419.6" width="11.99" height="4.6" fill="url(#tg)"/>
<rect x="166.91" y="424.2" width="11.99" height="1.78" fill="#99ffff"/>
<rect x="166.91" y="425.98" width="11.99" height="1.78" fill="#99ffff"/>
<rect x="166.91" y="427.76" width="11.99" height="1.78" fill="#99ffff"/>
<rect x="166.91" y="429.54" width="11.99" height="1.78" fill="#99ffff"/>
<rect x="166.91" y="431.32" width="11.99" height="1.78" fill="#99ffff"/>
<rect x="166.91" y="433.1" width="11.99" height="6.1" fill="#99ffff"/>
<rect x="166.91" y="439.2" width="11.99" height="8.2" fill="#99ffff"/>
<rect x="166.91" y="447.4" width="11.99" height="10.3" fill="#99ffff"/>
<rect x="166.91" y="457.7" width="11.99" height="10.9" fill="#99ffff"/>
<rect x="166.91" y="468.6" width="11.99" height="21.7" fill="#99ffff"/>
<rect x="166.91" y="490.3" width="11.99" height="23.1" fill="#99ffff"/>
<rect x="166.91" y="513.4" width="11.99" height="24" fill="#99ffff"/>
<rect x="166.91" y="537.4" width="11.99" height="35.6" fill="#99ffff"/>
<rect x="166.91" y="573" width="11.99" height="87.3" fill="#99ffff"/>
<rect x="166.91" y="660.3" width="11.99" height="3.2" fill="#ff6600"/>
<rect x="166.91" y="663.5" width="11.99" height="6.8" fill="#ff6600"/>
<rect x="166.91" y="670.3" width="11.99" height="7.6" fill="#111111"/>
<line x1="166.91" x2="178.89" y1="402.3" y2="402.3" class="olB"/>
<line x1="166.91" x2="178.89" y1="404.9" y2="404.9" class="olB"/>
<line x1="166.91" x2="178.89" y1="408.1" y2="408.1" class="olB"/>
<line x1="166.91" x2="178.89" y1="410.3" y2="410.3" class="olB"/>
<line x1="166.91" x2="178.89" y1="416.8" y2="416.8" class="olB"/>
<line x1="166.91" x2="178.89" y1="419.6" y2="419.6" class="olB"/>
<line x1="166.91" x2="178.89" y1="424.2" y2="424.2" class="olB"/>
<line x1="166.91" x2="178.89" y1="425.98" y2="425.98" class="olB"/>
<line x1="166.91" x2="178.89" y1="427.76" y2="427.76" class="olB"/>
<line x1="166.91" x2="178.89" y1="429.54" y2="429.54" class="olB"/>
<line x1="166.91" x2="178.89" y1="431.32" y2="431.32" class="olB"/>
<line x1="166.91" x2="178.89" y1="433.1" y2="433.1" class="olB"/>
<line x1="166.91" x2="178.89" y1="439.2" y2="439.2" class="olB"/>
<line x1="166.91" x2="178.89" y1="447.4" y2="447.4" class="olB"/>
<line x1="166.91" x2="178.89" y1="457.7" y2="457.7" class="olB"/>
<line x1="166.91" x2="178.89" y1="468.6" y2="468.6" class="olB"/>
<line x1="166.91" x2="178.89" y1="490.3" y2="490.3" class="olB"/>
<line x1="166.91" x2="178.89" y1="513.4" y2="513.4" class="olB"/>
<line x1="166.91" x2="178.89" y1="537.4" y2="537.4" class="olB"/>
<line x1="166.91" x2="178.89" y1="573" y2="573" class="olB"/>
<line x1="166.91" x2="178.89" y1="660.3" y2="660.3" class="olB"/>
<line x1="166.91" x2="178.89" y1="663.5" y2="663.5" class="olB"/>
<line x1="166.91" x2="178.89" y1="670.3" y2="670.3" class="olB"/>
<line x1="166.91" x2="178.89" y1="677.9" y2="677.9" class="olB"/>
<rect x="166.91" y="402.3" width="11.99" height="275.6" fill="none" class="olB"/>
<line x1="172.9" x2="172.9" y1="691.7" y2="693.3" stroke="#333" stroke-width="0.6"/>
<text class="xl" style="font-size:7.17px" transform="translate(169.6,694.6) rotate(90)">Station_24</text>
<rect x="179.94" y="402.3" width="11.99" height="2.6" fill="#0066cc"/>
<rect x="179.94" y="404.9" width="11.99" height="11.1" fill="#0066cc"/>
<rect x="179.94" y="416" width="11.99" height="1.3" fill="#111111"/>
<rect x="179.94" y="417.3" width="11.99" height="4.3" fill="url(#tg)"/>
<rect x="179.94" y="421.6" width="11.99" height="2.25" fill="#99ffff"/>
<rect x="179.94" y="423.85" width="11.99" height="2.25" fill="#99ffff"/>
<rect x="179.94" y="426.1" width="11.99" height="7" fill="#99ffff"/>
<rect x="179.94" y="433.1" width="11.99" height="7.1" fill="#99ffff"/>
<rect x="179.94" y="440.2" width="11.99" height="9.3" fill="#99ffff"/>
<rect x="179.94" y="449.5" width="11.99" height="14.7" fill="#99ffff"/>
<rect x="179.94" y="464.2" width="11.99" height="17.5" fill="#99ffff"/>
<rect x="179.94" y="481.7" width="11.99" height="19.7" fill="#99ffff"/>
<rect x="179.94" y="501.4" width="11.99" height="28.2" fill="#99ffff"/>
<rect x="179.94" y="529.6" width="11.99" height="40.5" fill="#99ffff"/>
<rect x="179.94" y="570.1" width="11.99" height="98.3" fill="#99ffff"/>
<rect x="179.94" y="668.4" width="11.99" height="4.3" fill="#ff6600"/>
<rect x="179.94" y="672.7" width="11.99" height="5.2" fill="#111111"/>
<line x1="179.94" x2="191.92" y1="402.3" y2="402.3" class="olB"/>
<line x1="179.94" x2="191.92" y1="404.9" y2="404.9" class="olB"/>
<line x1="179.94" x2="191.92" y1="416" y2="416" class="olB"/>
<line x1="179.94" x2="191.92" y1="417.3" y2="417.3" class="olB"/>
<line x1="179.94" x2="191.92" y1="421.6" y2="421.6" class="olB"/>
<line x1="179.94" x2="191.92" y1="423.85" y2="423.85" class="olB"/>
<line x1="179.94" x2="191.92" y1="426.1" y2="426.1" class="olB"/>
<line x1="179.94" x2="191.92" y1="433.1" y2="433.1" class="olB"/>
<line x1="179.94" x2="191.92" y1="440.2" y2="440.2" class="olB"/>
<line x1="179.94" x2="191.92" y1="449.5" y2="449.5" class="olB"/>
<line x1="179.94" x2="191.92" y1="464.2" y2="464.2" class="olB"/>
<line x1="179.94" x2="191.92" y1="481.7" y2="481.7" class="olB"/>
<line x1="179.94" x2="191.92" y1="501.4" y2="501.4" class="olB"/>
<line x1="179.94" x2="191.92" y1="529.6" y2="529.6" class="olB"/>
<line x1="179.94" x2="191.92" y1="570.1" y2="570.1" class="olB"/>
<line x1="179.94" x2="191.92" y1="668.4" y2="668.4" class="olB"/>
<line x1="179.94" x2="191.92" y1="672.7" y2="672.7" class="olB"/>
<line x1="179.94" x2="191.92" y1="677.9" y2="677.9" class="olB"/>
<rect x="179.94" y="402.3" width="11.99" height="275.6" fill="none" class="olB"/>
<line x1="185.93" x2="185.93" y1="691.7" y2="693.3" stroke="#333" stroke-width="0.6"/>
<text class="xl" style="font-size:7.17px" transform="translate(182.63,694.6) rotate(90)">Station_25</text>
<rect x="192.97" y="402.3" width="11.99" height="3.1" fill="#0066cc"/>
<rect x="192.97" y="405.4" width="11.99" height="13.5" fill="#0066cc"/>
<rect x="192.97" y="418.9" width="11.99" height="2" fill="#111111"/>
<rect x="192.97" y="420.9" width="11.99" height="5.1" fill="url(#tg)"/>
<rect x="192.97" y="426" width="11.99" height="2.08" fill="#99ffff"/>
<rect x="192.97" y="428.08" width="11.99" height="2.08" fill="#99ffff"/>
<rect x="192.97" y="430.16" width="11.99" height="2.08" fill="#99ffff"/>
<rect x="192.97" y="432.24" width="11.99" height="2.08" fill="#99ffff"/>
<rect x="192.97" y="434.32" width="11.99" height="2.08" fill="#99ffff"/>
<rect x="192.97" y="436.4" width="11.99" height="4.9" fill="#99ffff"/>
<rect x="192.97" y="441.3" width="11.99" height="12.3" fill="#99ffff"/>
<rect x="192.97" y="453.6" width="11.99" height="14.7" fill="#99ffff"/>
<rect x="192.97" y="468.3" width="11.99" height="19.3" fill="#99ffff"/>
<rect x="192.97" y="487.6" width="11.99" height="20.9" fill="#99ffff"/>
<rect x="192.97" y="508.5" width="11.99" height="32.7" fill="#99ffff"/>
<rect x="192.97" y="541.2" width="11.99" height="47.7" fill="#99ffff"/>
<rect x="192.97" y="588.9" width="11.99" height="77.1" fill="#99ffff"/>
<rect x="192.97" y="666" width="11.99" height="6.5" fill="#ff6600"/>
<rect x="192.97" y="672.5" width="11.99" height="5.4" fill="#111111"/>
<line x1="192.97" x2="204.95" y1="402.3" y2="402.3" class="olB"/>
<line x1="192.97" x2="204.95" y1="405.4" y2="405.4" class="olB"/>
<line x1="192.97" x2="204.95" y1="418.9" y2="418.9" class="olB"/>
<line x1="192.97" x2="204.95" y1="420.9" y2="420.9" class="olB"/>
<line x1="192.97" x2="204.95" y1="426" y2="426" class="olB"/>
<line x1="192.97" x2="204.95" y1="428.08" y2="428.08" class="olB"/>
<line x1="192.97" x2="204.95" y1="430.16" y2="430.16" class="olB"/>
<line x1="192.97" x2="204.95" y1="432.24" y2="432.24" class="olB"/>
<line x1="192.97" x2="204.95" y1="434.32" y2="434.32" class="olB"/>
<line x1="192.97" x2="204.95" y1="436.4" y2="436.4" class="olB"/>
<line x1="192.97" x2="204.95" y1="441.3" y2="441.3" class="olB"/>
<line x1="192.97" x2="204.95" y1="453.6" y2="453.6" class="olB"/>
<line x1="192.97" x2="204.95" y1="468.3" y2="468.3" class="olB"/>
<line x1="192.97" x2="204.95" y1="487.6" y2="487.6" class="olB"/>
<line x1="192.97" x2="204.95" y1="508.5" y2="508.5" class="olB"/>
<line x1="192.97" x2="204.95" y1="541.2" y2="541.2" class="olB"/>
<line x1="192.97" x2="204.95" y1="588.9" y2="588.9" class="olB"/>
<line x1="192.97" x2="204.95" y1="666" y2="666" class="olB"/>
<line x1="192.97" x2="204.95" y1="672.5" y2="672.5" class="olB"/>
<line x1="192.97" x2="204.95" y1="677.9" y2="677.9" class="olB"/>
<rect x="192.97" y="402.3" width="11.99" height="275.6" fill="none" class="olB"/>
<line x1="198.96" x2="198.96" y1="691.7" y2="693.3" stroke="#333" stroke-width="0.6"/>
<text class="xl" style="font-size:7.17px" transform="translate(195.66,694.6) rotate(90)">Station_26</text>
<rect x="206" y="402.3" width="11.99" height="2.6" fill="#0066cc"/>
<rect x="206" y="404.9" width="11.99" height="2.9" fill="#0066cc"/>
<rect x="206" y="407.8" width="11.99" height="5.2" fill="#0066cc"/>
<rect x="206" y="413" width="11.99" height="2.6" fill="#111111"/>
<rect x="206" y="415.6" width="11.99" height="2.4" fill="#99ffff"/>
<rect x="206" y="418" width="11.99" height="2.4" fill="#99ffff"/>
<rect x="206" y="420.4" width="11.99" height="2.4" fill="#99ffff"/>
<rect x="206" y="422.8" width="11.99" height="7.6" fill="#99ffff"/>
<rect x="206" y="430.4" width="11.99" height="11.4" fill="#99ffff"/>
<rect x="206" y="441.8" width="11.99" height="13.4" fill="#99ffff"/>
<rect x="206" y="455.2" width="11.99" height="19.9" fill="#99ffff"/>
<rect x="206" y="475.1" width="11.99" height="21.4" fill="#99ffff"/>
<rect x="206" y="496.5" width="11.99" height="25.9" fill="#99ffff"/>
<rect x="206" y="522.4" width="11.99" height="43.6" fill="#99ffff"/>
<rect x="206" y="566" width="11.99" height="105.8" fill="#99ffff"/>
<rect x="206" y="671.8" width="11.99" height="6.1" fill="#111111"/>
<line x1="206" x2="217.98" y1="402.3" y2="402.3" class="olB"/>
<line x1="206" x2="217.98" y1="404.9" y2="404.9" class="olB"/>
<line x1="206" x2="217.98" y1="407.8" y2="407.8" class="olB"/>
<line x1="206" x2="217.98" y1="413" y2="413" class="olB"/>
<line x1="206" x2="217.98" y1="415.6" y2="415.6" class="olB"/>
<line x1="206" x2="217.98" y1="418" y2="418" class="olB"/>
<line x1="206" x2="217.98" y1="420.4" y2="420.4" class="olB"/>
<line x1="206" x2="217.98" y1="422.8" y2="422.8" class="olB"/>
<line x1="206" x2="217.98" y1="430.4" y2="430.4" class="olB"/>
<line x1="206" x2="217.98" y1="441.8" y2="441.8" class="olB"/>
<line x1="206" x2="217.98" y1="455.2" y2="455.2" class="olB"/>
<line x1="206" x2="217.98" y1="475.1" y2="475.1" class="olB"/>
<line x1="206" x2="217.98" y1="496.5" y2="496.5" class="olB"/>
<line x1="206" x2="217.98" y1="522.4" y2="522.4" class="olB"/>
<line x1="206" x2="217.98" y1="566" y2="566" class="olB"/>
<line x1="206" x2="217.98" y1="671.8" y2="671.8" class="olB"/>
<line x1="206" x2="217.98" y1="677.9" y2="677.9" class="olB"/>
<rect x="206" y="402.3" width="11.99" height="275.6" fill="none" class="olB"/>
<line x1="211.99" x2="211.99" y1="691.7" y2="693.3" stroke="#333" stroke-width="0.6"/>
<text class="xl" style="font-size:7.17px" transform="translate(208.69,694.6) rotate(90)">Station_27</text>
<rect x="219.03" y="402.3" width="11.99" height="8" fill="#0066cc"/>
<rect x="219.03" y="410.3" width="11.99" height="0.9" fill="#111111"/>
<rect x="219.03" y="411.2" width="11.99" height="2.27" fill="#99ffff"/>
<rect x="219.03" y="413.47" width="11.99" height="2.27" fill="#99ffff"/>
<rect x="219.03" y="415.73" width="11.99" height="2.27" fill="#99ffff"/>
<rect x="219.03" y="418" width="11.99" height="8.1" fill="#99ffff"/>
<rect x="219.03" y="426.1" width="11.99" height="10.3" fill="#99ffff"/>
<rect x="219.03" y="436.4" width="11.99" height="11" fill="#99ffff"/>
<rect x="219.03" y="447.4" width="11.99" height="14.3" fill="#99ffff"/>
<rect x="219.03" y="461.7" width="11.99" height="23.7" fill="#99ffff"/>
<rect x="219.03" y="485.4" width="11.99" height="28" fill="#99ffff"/>
<rect x="219.03" y="513.4" width="11.99" height="44.4" fill="#99ffff"/>
<rect x="219.03" y="557.8" width="11.99" height="113.6" fill="#99ffff"/>
<rect x="219.03" y="671.4" width="11.99" height="6.5" fill="#111111"/>
<line x1="219.03" x2="231.01" y1="402.3" y2="402.3" class="olB"/>
<line x1="219.03" x2="231.01" y1="410.3" y2="410.3" class="olB"/>
<line x1="219.03" x2="231.01" y1="411.2" y2="411.2" class="olB"/>
<line x1="219.03" x2="231.01" y1="413.47" y2="413.47" class="olB"/>
<line x1="219.03" x2="231.01" y1="415.73" y2="415.73" class="olB"/>
<line x1="219.03" x2="231.01" y1="418" y2="418" class="olB"/>
<line x1="219.03" x2="231.01" y1="426.1" y2="426.1" class="olB"/>
<line x1="219.03" x2="231.01" y1="436.4" y2="436.4" class="olB"/>
<line x1="219.03" x2="231.01" y1="447.4" y2="447.4" class="olB"/>
<line x1="219.03" x2="231.01" y1="461.7" y2="461.7" class="olB"/>
<line x1="219.03" x2="231.01" y1="485.4" y2="485.4" class="olB"/>
<line x1="219.03" x2="231.01" y1="513.4" y2="513.4" class="olB"/>
<line x1="219.03" x2="231.01" y1="557.8" y2="557.8" class="olB"/>
<line x1="219.03" x2="231.01" y1="671.4" y2="671.4" class="olB"/>
<line x1="219.03" x2="231.01" y1="677.9" y2="677.9" class="olB"/>
<rect x="219.03" y="402.3" width="11.99" height="275.6" fill="none" class="olB"/>
<line x1="225.02" x2="225.02" y1="691.7" y2="693.3" stroke="#333" stroke-width="0.6"/>
<text class="xl" style="font-size:7.17px" transform="translate(221.72,694.6) rotate(90)">Station_28</text>
<rect x="236.34" y="379.2" width="54.73" height="9.9" fill="#d9d9d9"/>
<text x="263.7" y="385.8" class="st">Kongsfjorden</text>
<rect x="236.34" y="389.1" width="54.73" height="302.6" fill="#ebebeb"/>
<line x1="236.34" x2="291.06" y1="643.45" y2="643.45" stroke="#fff" stroke-width="0.5"/>
<line x1="236.34" x2="291.06" y1="574.55" y2="574.55" stroke="#fff" stroke-width="0.5"/>
<line x1="236.34" x2="291.06" y1="505.65" y2="505.65" stroke="#fff" stroke-width="0.5"/>
<line x1="236.34" x2="291.06" y1="436.75" y2="436.75" stroke="#fff" stroke-width="0.5"/>
<line x1="236.34" x2="291.06" y1="677.9" y2="677.9" stroke="#fff" stroke-width="1"/>
<line x1="236.34" x2="291.06" y1="609" y2="609" stroke="#fff" stroke-width="1"/>
<line x1="236.34" x2="291.06" y1="540.1" y2="540.1" stroke="#fff" stroke-width="1"/>
<line x1="236.34" x2="291.06" y1="471.2" y2="471.2" stroke="#fff" stroke-width="1"/>
<line x1="236.34" x2="291.06" y1="402.3" y2="402.3" stroke="#fff" stroke-width="1"/>
<line x1="244.16" x2="244.16" y1="389.1" y2="691.7" stroke="#fff" stroke-width="1"/>
<line x1="257.19" x2="257.19" y1="389.1" y2="691.7" stroke="#fff" stroke-width="1"/>
<line x1="270.22" x2="270.22" y1="389.1" y2="691.7" stroke="#fff" stroke-width="1"/>
<line x1="283.25" x2="283.25" y1="389.1" y2="691.7" stroke="#fff" stroke-width="1"/>
<rect x="238.16" y="402.3" width="11.99" height="1.9" fill="#0066cc"/>
<rect x="238.16" y="404.2" width="11.99" height="3.1" fill="#0066cc"/>
<rect x="238.16" y="407.3" width="11.99" height="3.3" fill="#0066cc"/>
<rect x="238.16" y="410.6" width="11.99" height="3.2" fill="#0066cc"/>
<rect x="238.16" y="413.8" width="11.99" height="5.4" fill="#0066cc"/>
<rect x="238.16" y="419.2" width="11.99" height="11.7" fill="#0066cc"/>
<rect x="238.16" y="430.9" width="11.99" height="1.6" fill="#111111"/>
<rect x="238.16" y="432.5" width="11.99" height="8.7" fill="url(#tg)"/>
<rect x="238.16" y="441.2" width="11.99" height="1.3" fill="#99ffff"/>
<rect x="238.16" y="442.5" width="11.99" height="1.9" fill="#99ffff"/>
<rect x="238.16" y="444.4" width="11.99" height="3.8" fill="#99ffff"/>
<rect x="238.16" y="448.2" width="11.99" height="5" fill="#99ffff"/>
<rect x="238.16" y="453.2" width="11.99" height="4.2" fill="#99ffff"/>
<rect x="238.16" y="457.4" width="11.99" height="5.1" fill="#99ffff"/>
<rect x="238.16" y="462.5" width="11.99" height="5.9" fill="#99ffff"/>
<rect x="238.16" y="468.4" width="11.99" height="9.7" fill="#99ffff"/>
<rect x="238.16" y="478.1" width="11.99" height="14.4" fill="#99ffff"/>
<rect x="238.16" y="492.5" width="11.99" height="13.9" fill="#99ffff"/>
<rect x="238.16" y="506.4" width="11.99" height="16.1" fill="#99ffff"/>
<rect x="238.16" y="522.5" width="11.99" height="18.9" fill="#99ffff"/>
<rect x="238.16" y="541.4" width="11.99" height="23" fill="#99ffff"/>
<rect x="238.16" y="564.4" width="11.99" height="27.9" fill="#99ffff"/>
<rect x="238.16" y="592.3" width="11.99" height="29.9" fill="#99ffff"/>
<rect x="238.16" y="622.2" width="11.99" height="1.6" fill="#ff6600"/>
<rect x="238.16" y="623.8" width="11.99" height="1.8" fill="#ff6600"/>
<rect x="238.16" y="625.6" width="11.99" height="8.7" fill="#ff6600"/>
<rect x="238.16" y="634.3" width="11.99" height="14.8" fill="#ff6600"/>
<rect x="238.16" y="649.1" width="11.99" height="16.9" fill="#ff6600"/>
<rect x="238.16" y="666" width="11.99" height="6.4" fill="#111111"/>
<rect x="238.16" y="672.4" width="11.99" height="1.38" fill="#666666"/>
<rect x="238.16" y="673.77" width="11.99" height="1.38" fill="#666666"/>
<rect x="238.16" y="675.15" width="11.99" height="1.38" fill="#666666"/>
<rect x="238.16" y="676.52" width="11.99" height="1.38" fill="#666666"/>
<line x1="238.16" x2="250.15" y1="402.3" y2="402.3" class="olB"/>
<line x1="238.16" x2="250.15" y1="404.2" y2="404.2" class="olB"/>
<line x1="238.16" x2="250.15" y1="407.3" y2="407.3" class="olB"/>
<line x1="238.16" x2="250.15" y1="410.6" y2="410.6" class="olB"/>
<line x1="238.16" x2="250.15" y1="413.8" y2="413.8" class="olB"/>
<line x1="238.16" x2="250.15" y1="419.2" y2="419.2" class="olB"/>
<line x1="238.16" x2="250.15" y1="430.9" y2="430.9" class="olB"/>
<line x1="238.16" x2="250.15" y1="432.5" y2="432.5" class="olB"/>
<line x1="238.16" x2="250.15" y1="441.2" y2="441.2" class="olB"/>
<line x1="238.16" x2="250.15" y1="442.5" y2="442.5" class="olB"/>
<line x1="238.16" x2="250.15" y1="444.4" y2="444.4" class="olB"/>
<line x1="238.16" x2="250.15" y1="448.2" y2="448.2" class="olB"/>
<line x1="238.16" x2="250.15" y1="453.2" y2="453.2" class="olB"/>
<line x1="238.16" x2="250.15" y1="457.4" y2="457.4" class="olB"/>
<line x1="238.16" x2="250.15" y1="462.5" y2="462.5" class="olB"/>
<line x1="238.16" x2="250.15" y1="468.4" y2="468.4" class="olB"/>
<line x1="238.16" x2="250.15" y1="478.1" y2="478.1" class="olB"/>
<line x1="238.16" x2="250.15" y1="492.5" y2="492.5" class="olB"/>
<line x1="238.16" x2="250.15" y1="506.4" y2="506.4" class="olB"/>
<line x1="238.16" x2="250.15" y1="522.5" y2="522.5" class="olB"/>
<line x1="238.16" x2="250.15" y1="541.4" y2="541.4" class="olB"/>
<line x1="238.16" x2="250.15" y1="564.4" y2="564.4" class="olB"/>
<line x1="238.16" x2="250.15" y1="592.3" y2="592.3" class="olB"/>
<line x1="238.16" x2="250.15" y1="622.2" y2="622.2" class="olB"/>
<line x1="238.16" x2="250.15" y1="623.8" y2="623.8" class="olB"/>
<line x1="238.16" x2="250.15" y1="625.6" y2="625.6" class="olB"/>
<line x1="238.16" x2="250.15" y1="634.3" y2="634.3" class="olB"/>
<line x1="238.16" x2="250.15" y1="649.1" y2="649.1" class="olB"/>
<line x1="238.16" x2="250.15" y1="666" y2="666" class="olB"/>
<line x1="238.16" x2="250.15" y1="672.4" y2="672.4" class="olB"/>
<line x1="238.16" x2="250.15" y1="673.77" y2="673.77" class="olB"/>
<line x1="238.16" x2="250.15" y1="675.15" y2="675.15" class="olB"/>
<line x1="238.16" x2="250.15" y1="676.52" y2="676.52" class="olB"/>
<line x1="238.16" x2="250.15" y1="677.9" y2="677.9" class="olB"/>
<rect x="238.16" y="402.3" width="11.99" height="275.6" fill="none" class="olB"/>
<line x1="244.16" x2="244.16" y1="691.7" y2="693.3" stroke="#333" stroke-width="0.6"/>
<text class="xl" style="font-size:7.17px" transform="translate(240.86,694.6) rotate(90)">Station_16</text>
<rect x="251.19" y="402.3" width="11.99" height="1.9" fill="#0066cc"/>
<rect x="251.19" y="404.2" width="11.99" height="3.1" fill="#0066cc"/>
<rect x="251.19" y="407.3" width="11.99" height="2.7" fill="#0066cc"/>
<rect x="251.19" y="410" width="11.99" height="4.9" fill="#0066cc"/>
<rect x="251.19" y="414.9" width="11.99" height="2.3" fill="#111111"/>
<rect x="251.19" y="417.2" width="11.99" height="4.8" fill="url(#tg)"/>
<rect x="251.19" y="422" width="11.99" height="2.7" fill="#99ffff"/>
<rect x="251.19" y="424.7" width="11.99" height="3.7" fill="#99ffff"/>
<rect x="251.19" y="428.4" width="11.99" height="4.5" fill="#99ffff"/>
<rect x="251.19" y="432.9" width="11.99" height="4.6" fill="#99ffff"/>
<rect x="251.19" y="437.5" width="11.99" height="4.6" fill="#99ffff"/>
<rect x="251.19" y="442.1" width="11.99" height="4.9" fill="#99ffff"/>
<rect x="251.19" y="447" width="11.99" height="5.8" fill="#99ffff"/>
<rect x="251.19" y="452.8" width="11.99" height="7.5" fill="#99ffff"/>
<rect x="251.19" y="460.3" width="11.99" height="6.9" fill="#99ffff"/>
<rect x="251.19" y="467.2" width="11.99" height="8.2" fill="#99ffff"/>
<rect x="251.19" y="475.4" width="11.99" height="8.9" fill="#99ffff"/>
<rect x="251.19" y="484.3" width="11.99" height="13.1" fill="#99ffff"/>
<rect x="251.19" y="497.4" width="11.99" height="17.3" fill="#99ffff"/>
<rect x="251.19" y="514.7" width="11.99" height="24.6" fill="#99ffff"/>
<rect x="251.19" y="539.3" width="11.99" height="113.9" fill="#99ffff"/>
<rect x="251.19" y="653.2" width="11.99" height="1.3" fill="#ff6600"/>
<rect x="251.19" y="654.5" width="11.99" height="2" fill="#ff6600"/>
<rect x="251.19" y="656.5" width="11.99" height="2.2" fill="#ff6600"/>
<rect x="251.19" y="658.7" width="11.99" height="7.3" fill="#ff6600"/>
<rect x="251.19" y="666" width="11.99" height="7.8" fill="#111111"/>
<rect x="251.19" y="673.8" width="11.99" height="2.05" fill="#666666"/>
<rect x="251.19" y="675.85" width="11.99" height="2.05" fill="#666666"/>
<line x1="251.19" x2="263.18" y1="402.3" y2="402.3" class="olB"/>
<line x1="251.19" x2="263.18" y1="404.2" y2="404.2" class="olB"/>
<line x1="251.19" x2="263.18" y1="407.3" y2="407.3" class="olB"/>
<line x1="251.19" x2="263.18" y1="410" y2="410" class="olB"/>
<line x1="251.19" x2="263.18" y1="414.9" y2="414.9" class="olB"/>
<line x1="251.19" x2="263.18" y1="417.2" y2="417.2" class="olB"/>
<line x1="251.19" x2="263.18" y1="422" y2="422" class="olB"/>
<line x1="251.19" x2="263.18" y1="424.7" y2="424.7" class="olB"/>
<line x1="251.19" x2="263.18" y1="428.4" y2="428.4" class="olB"/>
<line x1="251.19" x2="263.18" y1="432.9" y2="432.9" class="olB"/>
<line x1="251.19" x2="263.18" y1="437.5" y2="437.5" class="olB"/>
<line x1="251.19" x2="263.18" y1="442.1" y2="442.1" class="olB"/>
<line x1="251.19" x2="263.18" y1="447" y2="447" class="olB"/>
<line x1="251.19" x2="263.18" y1="452.8" y2="452.8" class="olB"/>
<line x1="251.19" x2="263.18" y1="460.3" y2="460.3" class="olB"/>
<line x1="251.19" x2="263.18" y1="467.2" y2="467.2" class="olB"/>
<line x1="251.19" x2="263.18" y1="475.4" y2="475.4" class="olB"/>
<line x1="251.19" x2="263.18" y1="484.3" y2="484.3" class="olB"/>
<line x1="251.19" x2="263.18" y1="497.4" y2="497.4" class="olB"/>
<line x1="251.19" x2="263.18" y1="514.7" y2="514.7" class="olB"/>
<line x1="251.19" x2="263.18" y1="539.3" y2="539.3" class="olB"/>
<line x1="251.19" x2="263.18" y1="653.2" y2="653.2" class="olB"/>
<line x1="251.19" x2="263.18" y1="654.5" y2="654.5" class="olB"/>
<line x1="251.19" x2="263.18" y1="656.5" y2="656.5" class="olB"/>
<line x1="251.19" x2="263.18" y1="658.7" y2="658.7" class="olB"/>
<line x1="251.19" x2="263.18" y1="666" y2="666" class="olB"/>
<line x1="251.19" x2="263.18" y1="673.8" y2="673.8" class="olB"/>
<line x1="251.19" x2="263.18" y1="675.85" y2="675.85" class="olB"/>
<line x1="251.19" x2="263.18" y1="677.9" y2="677.9" class="olB"/>
<rect x="251.19" y="402.3" width="11.99" height="275.6" fill="none" class="olB"/>
<line x1="257.19" x2="257.19" y1="691.7" y2="693.3" stroke="#333" stroke-width="0.6"/>
<text class="xl" style="font-size:7.17px" transform="translate(253.89,694.6) rotate(90)">Station_17</text>
<rect x="264.22" y="402.3" width="11.99" height="1.9" fill="#0066cc"/>
<rect x="264.22" y="404.2" width="11.99" height="15" fill="#0066cc"/>
<rect x="264.22" y="419.2" width="11.99" height="20.8" fill="#0066cc"/>
<rect x="264.22" y="440" width="11.99" height="0.8" fill="#111111"/>
<rect x="264.22" y="440.8" width="11.99" height="10.7" fill="url(#tg)"/>
<rect x="264.22" y="451.5" width="11.99" height="1.3" fill="#99ffff"/>
<rect x="264.22" y="452.8" width="11.99" height="2.2" fill="#99ffff"/>
<rect x="264.22" y="455" width="11.99" height="3.5" fill="#99ffff"/>
<rect x="264.22" y="458.5" width="11.99" height="2.3" fill="#99ffff"/>
<rect x="264.22" y="460.8" width="11.99" height="3.5" fill="#99ffff"/>
<rect x="264.22" y="464.3" width="11.99" height="7" fill="#99ffff"/>
<rect x="264.22" y="471.3" width="11.99" height="8.9" fill="#99ffff"/>
<rect x="264.22" y="480.2" width="11.99" height="8.9" fill="#99ffff"/>
<rect x="264.22" y="489.1" width="11.99" height="15" fill="#99ffff"/>
<rect x="264.22" y="504.1" width="11.99" height="22.2" fill="#99ffff"/>
<rect x="264.22" y="526.3" width="11.99" height="38.1" fill="#99ffff"/>
<rect x="264.22" y="564.4" width="11.99" height="101.9" fill="#99ffff"/>
<rect x="264.22" y="666.3" width="11.99" height="1.5" fill="#ff6600"/>
<rect x="264.22" y="667.8" width="11.99" height="1.9" fill="#ff6600"/>
<rect x="264.22" y="669.7" width="11.99" height="4.1" fill="#ff6600"/>
<rect x="264.22" y="673.8" width="11.99" height="4.1" fill="#111111"/>
<line x1="264.22" x2="276.21" y1="402.3" y2="402.3" class="olB"/>
<line x1="264.22" x2="276.21" y1="404.2" y2="404.2" class="olB"/>
<line x1="264.22" x2="276.21" y1="419.2" y2="419.2" class="olB"/>
<line x1="264.22" x2="276.21" y1="440" y2="440" class="olB"/>
<line x1="264.22" x2="276.21" y1="440.8" y2="440.8" class="olB"/>
<line x1="264.22" x2="276.21" y1="451.5" y2="451.5" class="olB"/>
<line x1="264.22" x2="276.21" y1="452.8" y2="452.8" class="olB"/>
<line x1="264.22" x2="276.21" y1="455" y2="455" class="olB"/>
<line x1="264.22" x2="276.21" y1="458.5" y2="458.5" class="olB"/>
<line x1="264.22" x2="276.21" y1="460.8" y2="460.8" class="olB"/>
<line x1="264.22" x2="276.21" y1="464.3" y2="464.3" class="olB"/>
<line x1="264.22" x2="276.21" y1="471.3" y2="471.3" class="olB"/>
<line x1="264.22" x2="276.21" y1="480.2" y2="480.2" class="olB"/>
<line x1="264.22" x2="276.21" y1="489.1" y2="489.1" class="olB"/>
<line x1="264.22" x2="276.21" y1="504.1" y2="504.1" class="olB"/>
<line x1="264.22" x2="276.21" y1="526.3" y2="526.3" class="olB"/>
<line x1="264.22" x2="276.21" y1="564.4" y2="564.4" class="olB"/>
<line x1="264.22" x2="276.21" y1="666.3" y2="666.3" class="olB"/>
<line x1="264.22" x2="276.21" y1="667.8" y2="667.8" class="olB"/>
<line x1="264.22" x2="276.21" y1="669.7" y2="669.7" class="olB"/>
<line x1="264.22" x2="276.21" y1="673.8" y2="673.8" class="olB"/>
<line x1="264.22" x2="276.21" y1="677.9" y2="677.9" class="olB"/>
<rect x="264.22" y="402.3" width="11.99" height="275.6" fill="none" class="olB"/>
<line x1="270.22" x2="270.22" y1="691.7" y2="693.3" stroke="#333" stroke-width="0.6"/>
<text class="xl" style="font-size:7.17px" transform="translate(266.92,694.6) rotate(90)">Station_18</text>
<rect x="277.25" y="402.3" width="11.99" height="1.9" fill="#0066cc"/>
<rect x="277.25" y="404.2" width="11.99" height="2.7" fill="#0066cc"/>
<rect x="277.25" y="406.9" width="11.99" height="5.9" fill="#0066cc"/>
<rect x="277.25" y="412.8" width="11.99" height="18.5" fill="#0066cc"/>
<rect x="277.25" y="431.3" width="11.99" height="24" fill="#0066cc"/>
<rect x="277.25" y="455.3" width="11.99" height="1.8" fill="#111111"/>
<rect x="277.25" y="457.1" width="11.99" height="10.6" fill="url(#tg)"/>
<rect x="277.25" y="467.7" width="11.99" height="1.7" fill="#99ffff"/>
<rect x="277.25" y="469.4" width="11.99" height="3.3" fill="#99ffff"/>
<rect x="277.25" y="472.7" width="11.99" height="6.1" fill="#99ffff"/>
<rect x="277.25" y="478.8" width="11.99" height="5.5" fill="#99ffff"/>
<rect x="277.25" y="484.3" width="11.99" height="6" fill="#99ffff"/>
<rect x="277.25" y="490.3" width="11.99" height="28.7" fill="#99ffff"/>
<rect x="277.25" y="519" width="11.99" height="29.9" fill="#99ffff"/>
<rect x="277.25" y="548.9" width="11.99" height="30.4" fill="#99ffff"/>
<rect x="277.25" y="579.3" width="11.99" height="35.9" fill="#99ffff"/>
<rect x="277.25" y="615.2" width="11.99" height="38.8" fill="#99ffff"/>
<rect x="277.25" y="654" width="11.99" height="0.9" fill="#ff6600"/>
<rect x="277.25" y="654.9" width="11.99" height="1.8" fill="#ff6600"/>
<rect x="277.25" y="656.7" width="11.99" height="2.7" fill="#ff6600"/>
<rect x="277.25" y="659.4" width="11.99" height="2.7" fill="#ff6600"/>
<rect x="277.25" y="662.1" width="11.99" height="3.9" fill="#ff6600"/>
<rect x="277.25" y="666" width="11.99" height="7.8" fill="#111111"/>
<rect x="277.25" y="673.8" width="11.99" height="2.05" fill="#666666"/>
<rect x="277.25" y="675.85" width="11.99" height="2.05" fill="#666666"/>
<line x1="277.25" x2="289.24" y1="402.3" y2="402.3" class="olB"/>
<line x1="277.25" x2="289.24" y1="404.2" y2="404.2" class="olB"/>
<line x1="277.25" x2="289.24" y1="406.9" y2="406.9" class="olB"/>
<line x1="277.25" x2="289.24" y1="412.8" y2="412.8" class="olB"/>
<line x1="277.25" x2="289.24" y1="431.3" y2="431.3" class="olB"/>
<line x1="277.25" x2="289.24" y1="455.3" y2="455.3" class="olB"/>
<line x1="277.25" x2="289.24" y1="457.1" y2="457.1" class="olB"/>
<line x1="277.25" x2="289.24" y1="467.7" y2="467.7" class="olB"/>
<line x1="277.25" x2="289.24" y1="469.4" y2="469.4" class="olB"/>
<line x1="277.25" x2="289.24" y1="472.7" y2="472.7" class="olB"/>
<line x1="277.25" x2="289.24" y1="478.8" y2="478.8" class="olB"/>
<line x1="277.25" x2="289.24" y1="484.3" y2="484.3" class="olB"/>
<line x1="277.25" x2="289.24" y1="490.3" y2="490.3" class="olB"/>
<line x1="277.25" x2="289.24" y1="519" y2="519" class="olB"/>
<line x1="277.25" x2="289.24" y1="548.9" y2="548.9" class="olB"/>
<line x1="277.25" x2="289.24" y1="579.3" y2="579.3" class="olB"/>
<line x1="277.25" x2="289.24" y1="615.2" y2="615.2" class="olB"/>
<line x1="277.25" x2="289.24" y1="654" y2="654" class="olB"/>
<line x1="277.25" x2="289.24" y1="654.9" y2="654.9" class="olB"/>
<line x1="277.25" x2="289.24" y1="656.7" y2="656.7" class="olB"/>
<line x1="277.25" x2="289.24" y1="659.4" y2="659.4" class="olB"/>
<line x1="277.25" x2="289.24" y1="662.1" y2="662.1" class="olB"/>
<line x1="277.25" x2="289.24" y1="666" y2="666" class="olB"/>
<line x1="277.25" x2="289.24" y1="673.8" y2="673.8" class="olB"/>
<line x1="277.25" x2="289.24" y1="675.85" y2="675.85" class="olB"/>
<line x1="277.25" x2="289.24" y1="677.9" y2="677.9" class="olB"/>
<rect x="277.25" y="402.3" width="11.99" height="275.6" fill="none" class="olB"/>
<line x1="283.25" x2="283.25" y1="691.7" y2="693.3" stroke="#333" stroke-width="0.6"/>
<text class="xl" style="font-size:7.17px" transform="translate(279.95,694.6) rotate(90)">Station_19</text>
<rect x="294.56" y="379.2" width="67.76" height="9.9" fill="#d9d9d9"/>
<text x="328.44" y="385.8" class="st">Woodfjorden</text>
<rect x="294.56" y="389.1" width="67.76" height="302.6" fill="#ebebeb"/>
<line x1="294.56" x2="362.32" y1="643.45" y2="643.45" stroke="#fff" stroke-width="0.5"/>
<line x1="294.56" x2="362.32" y1="574.55" y2="574.55" stroke="#fff" stroke-width="0.5"/>
<line x1="294.56" x2="362.32" y1="505.65" y2="505.65" stroke="#fff" stroke-width="0.5"/>
<line x1="294.56" x2="362.32" y1="436.75" y2="436.75" stroke="#fff" stroke-width="0.5"/>
<line x1="294.56" x2="362.32" y1="677.9" y2="677.9" stroke="#fff" stroke-width="1"/>
<line x1="294.56" x2="362.32" y1="609" y2="609" stroke="#fff" stroke-width="1"/>
<line x1="294.56" x2="362.32" y1="540.1" y2="540.1" stroke="#fff" stroke-width="1"/>
<line x1="294.56" x2="362.32" y1="471.2" y2="471.2" stroke="#fff" stroke-width="1"/>
<line x1="294.56" x2="362.32" y1="402.3" y2="402.3" stroke="#fff" stroke-width="1"/>
<line x1="302.38" x2="302.38" y1="389.1" y2="691.7" stroke="#fff" stroke-width="1"/>
<line x1="315.41" x2="315.41" y1="389.1" y2="691.7" stroke="#fff" stroke-width="1"/>
<line x1="328.44" x2="328.44" y1="389.1" y2="691.7" stroke="#fff" stroke-width="1"/>
<line x1="341.47" x2="341.47" y1="389.1" y2="691.7" stroke="#fff" stroke-width="1"/>
<line x1="354.5" x2="354.5" y1="389.1" y2="691.7" stroke="#fff" stroke-width="1"/>
<rect x="296.39" y="402.3" width="11.99" height="1.9" fill="#0066cc"/>
<rect x="296.39" y="404.2" width="11.99" height="2.3" fill="#0066cc"/>
<rect x="296.39" y="406.5" width="11.99" height="1.5" fill="#0066cc"/>
<rect x="296.39" y="408" width="11.99" height="3" fill="#0066cc"/>
<rect x="296.39" y="411" width="11.99" height="7.3" fill="#0066cc"/>
<rect x="296.39" y="418.3" width="11.99" height="7.1" fill="#0066cc"/>
<rect x="296.39" y="425.4" width="11.99" height="14.4" fill="#0066cc"/>
<rect x="296.39" y="439.8" width="11.99" height="20.6" fill="#0066cc"/>
<rect x="296.39" y="460.4" width="11.99" height="0.8" fill="#111111"/>
<rect x="296.39" y="461.2" width="11.99" height="7.8" fill="url(#tg)"/>
<rect x="296.39" y="469" width="11.99" height="1.85" fill="#99ffff"/>
<rect x="296.39" y="470.85" width="11.99" height="1.85" fill="#99ffff"/>
<rect x="296.39" y="472.7" width="11.99" height="2.7" fill="#99ffff"/>
<rect x="296.39" y="475.4" width="11.99" height="3.4" fill="#99ffff"/>
<rect x="296.39" y="478.8" width="11.99" height="4.8" fill="#99ffff"/>
<rect x="296.39" y="483.6" width="11.99" height="4.8" fill="#99ffff"/>
<rect x="296.39" y="488.4" width="11.99" height="8.9" fill="#99ffff"/>
<rect x="296.39" y="497.3" width="11.99" height="1.6" fill="#99ffff"/>
<rect x="296.39" y="498.9" width="11.99" height="10.7" fill="#99ffff"/>
<rect x="296.39" y="509.6" width="11.99" height="13.3" fill="#99ffff"/>
<rect x="296.39" y="522.9" width="11.99" height="13.7" fill="#99ffff"/>
<rect x="296.39" y="536.6" width="11.99" height="15.7" fill="#99ffff"/>
<rect x="296.39" y="552.3" width="11.99" height="20.6" fill="#99ffff"/>
<rect x="296.39" y="572.9" width="11.99" height="22.8" fill="#99ffff"/>
<rect x="296.39" y="595.7" width="11.99" height="34.5" fill="#99ffff"/>
<rect x="296.39" y="630.2" width="11.99" height="3.8" fill="#ff6600"/>
<rect x="296.39" y="634" width="11.99" height="9" fill="#ff6600"/>
<rect x="296.39" y="643" width="11.99" height="11.5" fill="#ff6600"/>
<rect x="296.39" y="654.5" width="11.99" height="7.6" fill="#111111"/>
<rect x="296.39" y="662.1" width="11.99" height="2.8" fill="#666666"/>
<rect x="296.39" y="664.9" width="11.99" height="4.8" fill="#666666"/>
<rect x="296.39" y="669.7" width="11.99" height="8.2" fill="#666666"/>
<line x1="296.39" x2="308.38" y1="402.3" y2="402.3" class="olB"/>
<line x1="296.39" x2="308.38" y1="404.2" y2="404.2" class="olB"/>
<line x1="296.39" x2="308.38" y1="406.5" y2="406.5" class="olB"/>
<line x1="296.39" x2="308.38" y1="408" y2="408" class="olB"/>
<line x1="296.39" x2="308.38" y1="411" y2="411" class="olB"/>
<line x1="296.39" x2="308.38" y1="418.3" y2="418.3" class="olB"/>
<line x1="296.39" x2="308.38" y1="425.4" y2="425.4" class="olB"/>
<line x1="296.39" x2="308.38" y1="439.8" y2="439.8" class="olB"/>
<line x1="296.39" x2="308.38" y1="460.4" y2="460.4" class="olB"/>
<line x1="296.39" x2="308.38" y1="461.2" y2="461.2" class="olB"/>
<line x1="296.39" x2="308.38" y1="469" y2="469" class="olB"/>
<line x1="296.39" x2="308.38" y1="470.85" y2="470.85" class="olB"/>
<line x1="296.39" x2="308.38" y1="472.7" y2="472.7" class="olB"/>
<line x1="296.39" x2="308.38" y1="475.4" y2="475.4" class="olB"/>
<line x1="296.39" x2="308.38" y1="478.8" y2="478.8" class="olB"/>
<line x1="296.39" x2="308.38" y1="483.6" y2="483.6" class="olB"/>
<line x1="296.39" x2="308.38" y1="488.4" y2="488.4" class="olB"/>
<line x1="296.39" x2="308.38" y1="497.3" y2="497.3" class="olB"/>
<line x1="296.39" x2="308.38" y1="498.9" y2="498.9" class="olB"/>
<line x1="296.39" x2="308.38" y1="509.6" y2="509.6" class="olB"/>
<line x1="296.39" x2="308.38" y1="522.9" y2="522.9" class="olB"/>
<line x1="296.39" x2="308.38" y1="536.6" y2="536.6" class="olB"/>
<line x1="296.39" x2="308.38" y1="552.3" y2="552.3" class="olB"/>
<line x1="296.39" x2="308.38" y1="572.9" y2="572.9" class="olB"/>
<line x1="296.39" x2="308.38" y1="595.7" y2="595.7" class="olB"/>
<line x1="296.39" x2="308.38" y1="630.2" y2="630.2" class="olB"/>
<line x1="296.39" x2="308.38" y1="634" y2="634" class="olB"/>
<line x1="296.39" x2="308.38" y1="643" y2="643" class="olB"/>
<line x1="296.39" x2="308.38" y1="654.5" y2="654.5" class="olB"/>
<line x1="296.39" x2="308.38" y1="662.1" y2="662.1" class="olB"/>
<line x1="296.39" x2="308.38" y1="664.9" y2="664.9" class="olB"/>
<line x1="296.39" x2="308.38" y1="669.7" y2="669.7" class="olB"/>
<line x1="296.39" x2="308.38" y1="677.9" y2="677.9" class="olB"/>
<rect x="296.39" y="402.3" width="11.99" height="275.6" fill="none" class="olB"/>
<line x1="302.38" x2="302.38" y1="691.7" y2="693.3" stroke="#333" stroke-width="0.6"/>
<text class="xl" style="font-size:7.17px" transform="translate(299.08,694.6) rotate(90)">Station_15</text>
<rect x="309.42" y="402.3" width="11.99" height="1.9" fill="#0066cc"/>
<rect x="309.42" y="404.2" width="11.99" height="4.1" fill="#0066cc"/>
<rect x="309.42" y="408.3" width="11.99" height="5" fill="#0066cc"/>
<rect x="309.42" y="413.3" width="11.99" height="5" fill="#0066cc"/>
<rect x="309.42" y="418.3" width="11.99" height="12.9" fill="#0066cc"/>
<rect x="309.42" y="431.2" width="11.99" height="16.4" fill="#0066cc"/>
<rect x="309.42" y="447.6" width="11.99" height="1.4" fill="#111111"/>
<rect x="309.42" y="449" width="11.99" height="3.2" fill="url(#tg)"/>
<rect x="309.42" y="452.2" width="11.99" height="2" fill="#99ffff"/>
<rect x="309.42" y="454.2" width="11.99" height="2.7" fill="#99ffff"/>
<rect x="309.42" y="456.9" width="11.99" height="2.7" fill="#99ffff"/>
<rect x="309.42" y="459.6" width="11.99" height="2.1" fill="#99ffff"/>
<rect x="309.42" y="461.7" width="11.99" height="3.4" fill="#99ffff"/>
<rect x="309.42" y="465.1" width="11.99" height="6.2" fill="#99ffff"/>
<rect x="309.42" y="471.3" width="11.99" height="6.2" fill="#99ffff"/>
<rect x="309.42" y="477.5" width="11.99" height="8.2" fill="#99ffff"/>
<rect x="309.42" y="485.7" width="11.99" height="9.7" fill="#99ffff"/>
<rect x="309.42" y="495.4" width="11.99" height="12.1" fill="#99ffff"/>
<rect x="309.42" y="507.5" width="11.99" height="14" fill="#99ffff"/>
<rect x="309.42" y="521.5" width="11.99" height="19.2" fill="#99ffff"/>
<rect x="309.42" y="540.7" width="11.99" height="19.8" fill="#99ffff"/>
<rect x="309.42" y="560.5" width="11.99" height="22.4" fill="#99ffff"/>
<rect x="309.42" y="582.9" width="11.99" height="50.3" fill="#99ffff"/>
<rect x="309.42" y="633.2" width="11.99" height="7" fill="#ff6600"/>
<rect x="309.42" y="640.2" width="11.99" height="11.4" fill="#ff6600"/>
<rect x="309.42" y="651.6" width="11.99" height="21" fill="#ff6600"/>
<rect x="309.42" y="672.6" width="11.99" height="5.3" fill="#111111"/>
<line x1="309.42" x2="321.41" y1="402.3" y2="402.3" class="olB"/>
<line x1="309.42" x2="321.41" y1="404.2" y2="404.2" class="olB"/>
<line x1="309.42" x2="321.41" y1="408.3" y2="408.3" class="olB"/>
<line x1="309.42" x2="321.41" y1="413.3" y2="413.3" class="olB"/>
<line x1="309.42" x2="321.41" y1="418.3" y2="418.3" class="olB"/>
<line x1="309.42" x2="321.41" y1="431.2" y2="431.2" class="olB"/>
<line x1="309.42" x2="321.41" y1="447.6" y2="447.6" class="olB"/>
<line x1="309.42" x2="321.41" y1="449" y2="449" class="olB"/>
<line x1="309.42" x2="321.41" y1="452.2" y2="452.2" class="olB"/>
<line x1="309.42" x2="321.41" y1="454.2" y2="454.2" class="olB"/>
<line x1="309.42" x2="321.41" y1="456.9" y2="456.9" class="olB"/>
<line x1="309.42" x2="321.41" y1="459.6" y2="459.6" class="olB"/>
<line x1="309.42" x2="321.41" y1="461.7" y2="461.7" class="olB"/>
<line x1="309.42" x2="321.41" y1="465.1" y2="465.1" class="olB"/>
<line x1="309.42" x2="321.41" y1="471.3" y2="471.3" class="olB"/>
<line x1="309.42" x2="321.41" y1="477.5" y2="477.5" class="olB"/>
<line x1="309.42" x2="321.41" y1="485.7" y2="485.7" class="olB"/>
<line x1="309.42" x2="321.41" y1="495.4" y2="495.4" class="olB"/>
<line x1="309.42" x2="321.41" y1="507.5" y2="507.5" class="olB"/>
<line x1="309.42" x2="321.41" y1="521.5" y2="521.5" class="olB"/>
<line x1="309.42" x2="321.41" y1="540.7" y2="540.7" class="olB"/>
<line x1="309.42" x2="321.41" y1="560.5" y2="560.5" class="olB"/>
<line x1="309.42" x2="321.41" y1="582.9" y2="582.9" class="olB"/>
<line x1="309.42" x2="321.41" y1="633.2" y2="633.2" class="olB"/>
<line x1="309.42" x2="321.41" y1="640.2" y2="640.2" class="olB"/>
<line x1="309.42" x2="321.41" y1="651.6" y2="651.6" class="olB"/>
<line x1="309.42" x2="321.41" y1="672.6" y2="672.6" class="olB"/>
<line x1="309.42" x2="321.41" y1="677.9" y2="677.9" class="olB"/>
<rect x="309.42" y="402.3" width="11.99" height="275.6" fill="none" class="olB"/>
<line x1="315.41" x2="315.41" y1="691.7" y2="693.3" stroke="#333" stroke-width="0.6"/>
<text class="xl" style="font-size:7.17px" transform="translate(312.11,694.6) rotate(90)">Station_14</text>
<rect x="322.45" y="402.3" width="11.99" height="1.9" fill="#0066cc"/>
<rect x="322.45" y="404.2" width="11.99" height="2" fill="#0066cc"/>
<rect x="322.45" y="406.2" width="11.99" height="2.8" fill="#0066cc"/>
<rect x="322.45" y="409" width="11.99" height="3.4" fill="#0066cc"/>
<rect x="322.45" y="412.4" width="11.99" height="13" fill="#0066cc"/>
<rect x="322.45" y="425.4" width="11.99" height="23" fill="#0066cc"/>
<rect x="322.45" y="448.4" width="11.99" height="67.9" fill="#0066cc"/>
<rect x="322.45" y="516.3" width="11.99" height="2.5" fill="#111111"/>
<rect x="322.45" y="518.8" width="11.99" height="1.3" fill="#99ffff"/>
<rect x="322.45" y="520.1" width="11.99" height="2.8" fill="#99ffff"/>
<rect x="322.45" y="522.9" width="11.99" height="3.4" fill="#99ffff"/>
<rect x="322.45" y="526.3" width="11.99" height="4.1" fill="#99ffff"/>
<rect x="322.45" y="530.4" width="11.99" height="4.1" fill="#99ffff"/>
<rect x="322.45" y="534.5" width="11.99" height="4.1" fill="#99ffff"/>
<rect x="322.45" y="538.6" width="11.99" height="5.5" fill="#99ffff"/>
<rect x="322.45" y="544.1" width="11.99" height="6.2" fill="#99ffff"/>
<rect x="322.45" y="550.3" width="11.99" height="7.5" fill="#99ffff"/>
<rect x="322.45" y="557.8" width="11.99" height="7.5" fill="#99ffff"/>
<rect x="322.45" y="565.3" width="11.99" height="8.9" fill="#99ffff"/>
<rect x="322.45" y="574.2" width="11.99" height="9.6" fill="#99ffff"/>
<rect x="322.45" y="583.8" width="11.99" height="10.5" fill="#99ffff"/>
<rect x="322.45" y="594.3" width="11.99" height="14" fill="#99ffff"/>
<rect x="322.45" y="608.3" width="11.99" height="14.4" fill="#99ffff"/>
<rect x="322.45" y="622.7" width="11.99" height="17.5" fill="#99ffff"/>
<rect x="322.45" y="640.2" width="11.99" height="19.8" fill="#99ffff"/>
<rect x="322.45" y="660" width="11.99" height="1.2" fill="#ff6600"/>
<rect x="322.45" y="661.2" width="11.99" height="2" fill="#ff6600"/>
<rect x="322.45" y="663.2" width="11.99" height="2.3" fill="#ff6600"/>
<rect x="322.45" y="665.5" width="11.99" height="4.5" fill="#ff6600"/>
<rect x="322.45" y="670" width="11.99" height="7.9" fill="#111111"/>
<line x1="322.45" x2="334.44" y1="402.3" y2="402.3" class="olB"/>
<line x1="322.45" x2="334.44" y1="404.2" y2="404.2" class="olB"/>
<line x1="322.45" x2="334.44" y1="406.2" y2="406.2" class="olB"/>
<line x1="322.45" x2="334.44" y1="409" y2="409" class="olB"/>
<line x1="322.45" x2="334.44" y1="412.4" y2="412.4" class="olB"/>
<line x1="322.45" x2="334.44" y1="425.4" y2="425.4" class="olB"/>
<line x1="322.45" x2="334.44" y1="448.4" y2="448.4" class="olB"/>
<line x1="322.45" x2="334.44" y1="516.3" y2="516.3" class="olB"/>
<line x1="322.45" x2="334.44" y1="518.8" y2="518.8" class="olB"/>
<line x1="322.45" x2="334.44" y1="520.1" y2="520.1" class="olB"/>
<line x1="322.45" x2="334.44" y1="522.9" y2="522.9" class="olB"/>
<line x1="322.45" x2="334.44" y1="526.3" y2="526.3" class="olB"/>
<line x1="322.45" x2="334.44" y1="530.4" y2="530.4" class="olB"/>
<line x1="322.45" x2="334.44" y1="534.5" y2="534.5" class="olB"/>
<line x1="322.45" x2="334.44" y1="538.6" y2="538.6" class="olB"/>
<line x1="322.45" x2="334.44" y1="544.1" y2="544.1" class="olB"/>
<line x1="322.45" x2="334.44" y1="550.3" y2="550.3" class="olB"/>
<line x1="322.45" x2="334.44" y1="557.8" y2="557.8" class="olB"/>
<line x1="322.45" x2="334.44" y1="565.3" y2="565.3" class="olB"/>
<line x1="322.45" x2="334.44" y1="574.2" y2="574.2" class="olB"/>
<line x1="322.45" x2="334.44" y1="583.8" y2="583.8" class="olB"/>
<line x1="322.45" x2="334.44" y1="594.3" y2="594.3" class="olB"/>
<line x1="322.45" x2="334.44" y1="608.3" y2="608.3" class="olB"/>
<line x1="322.45" x2="334.44" y1="622.7" y2="622.7" class="olB"/>
<line x1="322.45" x2="334.44" y1="640.2" y2="640.2" class="olB"/>
<line x1="322.45" x2="334.44" y1="660" y2="660" class="olB"/>
<line x1="322.45" x2="334.44" y1="661.2" y2="661.2" class="olB"/>
<line x1="322.45" x2="334.44" y1="663.2" y2="663.2" class="olB"/>
<line x1="322.45" x2="334.44" y1="665.5" y2="665.5" class="olB"/>
<line x1="322.45" x2="334.44" y1="670" y2="670" class="olB"/>
<line x1="322.45" x2="334.44" y1="677.9" y2="677.9" class="olB"/>
<rect x="322.45" y="402.3" width="11.99" height="275.6" fill="none" class="olB"/>
<line x1="328.44" x2="328.44" y1="691.7" y2="693.3" stroke="#333" stroke-width="0.6"/>
<text class="xl" style="font-size:7.17px" transform="translate(325.14,694.6) rotate(90)">Station_13</text>
<rect x="335.48" y="402.3" width="11.99" height="1.9" fill="#0066cc"/>
<rect x="335.48" y="404.2" width="11.99" height="2.8" fill="#0066cc"/>
<rect x="335.48" y="407" width="11.99" height="3.3" fill="#0066cc"/>
<rect x="335.48" y="410.3" width="11.99" height="6.2" fill="#0066cc"/>
<rect x="335.48" y="416.5" width="11.99" height="50.9" fill="#0066cc"/>
<rect x="335.48" y="467.4" width="11.99" height="3.2" fill="#111111"/>
<rect x="335.48" y="470.6" width="11.99" height="1.7" fill="#99ffff"/>
<rect x="335.48" y="472.3" width="11.99" height="1.7" fill="#99ffff"/>
<rect x="335.48" y="474" width="11.99" height="2.8" fill="#99ffff"/>
<rect x="335.48" y="476.8" width="11.99" height="2" fill="#99ffff"/>
<rect x="335.48" y="478.8" width="11.99" height="4.1" fill="#99ffff"/>
<rect x="335.48" y="482.9" width="11.99" height="7.6" fill="#99ffff"/>
<rect x="335.48" y="490.5" width="11.99" height="6.7" fill="#99ffff"/>
<rect x="335.48" y="497.2" width="11.99" height="7.6" fill="#99ffff"/>
<rect x="335.48" y="504.8" width="11.99" height="8.5" fill="#99ffff"/>
<rect x="335.48" y="513.3" width="11.99" height="8.5" fill="#99ffff"/>
<rect x="335.48" y="521.8" width="11.99" height="12.7" fill="#99ffff"/>
<rect x="335.48" y="534.5" width="11.99" height="17.8" fill="#99ffff"/>
<rect x="335.48" y="552.3" width="11.99" height="27" fill="#99ffff"/>
<rect x="335.48" y="579.3" width="11.99" height="30.8" fill="#99ffff"/>
<rect x="335.48" y="610.1" width="11.99" height="33.3" fill="#99ffff"/>
<rect x="335.48" y="643.4" width="11.99" height="2.2" fill="#ff6600"/>
<rect x="335.48" y="645.6" width="11.99" height="2.4" fill="#ff6600"/>
<rect x="335.48" y="648" width="11.99" height="4.4" fill="#ff6600"/>
<rect x="335.48" y="652.4" width="11.99" height="12.7" fill="#ff6600"/>
<rect x="335.48" y="665.1" width="11.99" height="4.6" fill="#111111"/>
<rect x="335.48" y="669.7" width="11.99" height="1.64" fill="#666666"/>
<rect x="335.48" y="671.34" width="11.99" height="1.64" fill="#666666"/>
<rect x="335.48" y="672.98" width="11.99" height="1.64" fill="#666666"/>
<rect x="335.48" y="674.62" width="11.99" height="1.64" fill="#666666"/>
<rect x="335.48" y="676.26" width="11.99" height="1.64" fill="#666666"/>
<line x1="335.48" x2="347.47" y1="402.3" y2="402.3" class="olB"/>
<line x1="335.48" x2="347.47" y1="404.2" y2="404.2" class="olB"/>
<line x1="335.48" x2="347.47" y1="407" y2="407" class="olB"/>
<line x1="335.48" x2="347.47" y1="410.3" y2="410.3" class="olB"/>
<line x1="335.48" x2="347.47" y1="416.5" y2="416.5" class="olB"/>
<line x1="335.48" x2="347.47" y1="467.4" y2="467.4" class="olB"/>
<line x1="335.48" x2="347.47" y1="470.6" y2="470.6" class="olB"/>
<line x1="335.48" x2="347.47" y1="472.3" y2="472.3" class="olB"/>
<line x1="335.48" x2="347.47" y1="474" y2="474" class="olB"/>
<line x1="335.48" x2="347.47" y1="476.8" y2="476.8" class="olB"/>
<line x1="335.48" x2="347.47" y1="478.8" y2="478.8" class="olB"/>
<line x1="335.48" x2="347.47" y1="482.9" y2="482.9" class="olB"/>
<line x1="335.48" x2="347.47" y1="490.5" y2="490.5" class="olB"/>
<line x1="335.48" x2="347.47" y1="497.2" y2="497.2" class="olB"/>
<line x1="335.48" x2="347.47" y1="504.8" y2="504.8" class="olB"/>
<line x1="335.48" x2="347.47" y1="513.3" y2="513.3" class="olB"/>
<line x1="335.48" x2="347.47" y1="521.8" y2="521.8" class="olB"/>
<line x1="335.48" x2="347.47" y1="534.5" y2="534.5" class="olB"/>
<line x1="335.48" x2="347.47" y1="552.3" y2="552.3" class="olB"/>
<line x1="335.48" x2="347.47" y1="579.3" y2="579.3" class="olB"/>
<line x1="335.48" x2="347.47" y1="610.1" y2="610.1" class="olB"/>
<line x1="335.48" x2="347.47" y1="643.4" y2="643.4" class="olB"/>
<line x1="335.48" x2="347.47" y1="645.6" y2="645.6" class="olB"/>
<line x1="335.48" x2="347.47" y1="648" y2="648" class="olB"/>
<line x1="335.48" x2="347.47" y1="652.4" y2="652.4" class="olB"/>
<line x1="335.48" x2="347.47" y1="665.1" y2="665.1" class="olB"/>
<line x1="335.48" x2="347.47" y1="669.7" y2="669.7" class="olB"/>
<line x1="335.48" x2="347.47" y1="671.34" y2="671.34" class="olB"/>
<line x1="335.48" x2="347.47" y1="672.98" y2="672.98" class="olB"/>
<line x1="335.48" x2="347.47" y1="674.62" y2="674.62" class="olB"/>
<line x1="335.48" x2="347.47" y1="676.26" y2="676.26" class="olB"/>
<line x1="335.48" x2="347.47" y1="677.9" y2="677.9" class="olB"/>
<rect x="335.48" y="402.3" width="11.99" height="275.6" fill="none" class="olB"/>
<line x1="341.47" x2="341.47" y1="691.7" y2="693.3" stroke="#333" stroke-width="0.6"/>
<text class="xl" style="font-size:7.17px" transform="translate(338.17,694.6) rotate(90)">Station_12</text>
<rect x="348.51" y="402.3" width="11.99" height="1.9" fill="#0066cc"/>
<rect x="348.51" y="404.2" width="11.99" height="3.4" fill="#0066cc"/>
<rect x="348.51" y="407.6" width="11.99" height="2.7" fill="#0066cc"/>
<rect x="348.51" y="410.3" width="11.99" height="9.9" fill="#0066cc"/>
<rect x="348.51" y="420.2" width="11.99" height="138.1" fill="#0066cc"/>
<rect x="348.51" y="558.3" width="11.99" height="2.2" fill="#111111"/>
<rect x="348.51" y="560.5" width="11.99" height="4.5" fill="url(#tg)"/>
<rect x="348.51" y="565" width="11.99" height="1.72" fill="#99ffff"/>
<rect x="348.51" y="566.72" width="11.99" height="1.72" fill="#99ffff"/>
<rect x="348.51" y="568.44" width="11.99" height="1.72" fill="#99ffff"/>
<rect x="348.51" y="570.16" width="11.99" height="1.72" fill="#99ffff"/>
<rect x="348.51" y="571.88" width="11.99" height="1.72" fill="#99ffff"/>
<rect x="348.51" y="573.6" width="11.99" height="4.8" fill="#99ffff"/>
<rect x="348.51" y="578.4" width="11.99" height="4.8" fill="#99ffff"/>
<rect x="348.51" y="583.2" width="11.99" height="4.8" fill="#99ffff"/>
<rect x="348.51" y="588" width="11.99" height="8.1" fill="#99ffff"/>
<rect x="348.51" y="596.1" width="11.99" height="9.5" fill="#99ffff"/>
<rect x="348.51" y="605.6" width="11.99" height="9.3" fill="#99ffff"/>
<rect x="348.51" y="614.9" width="11.99" height="10.7" fill="#99ffff"/>
<rect x="348.51" y="625.6" width="11.99" height="13.2" fill="#99ffff"/>
<rect x="348.51" y="638.8" width="11.99" height="15.2" fill="#99ffff"/>
<rect x="348.51" y="654" width="11.99" height="1.3" fill="#ff6600"/>
<rect x="348.51" y="655.3" width="11.99" height="2" fill="#ff6600"/>
<rect x="348.51" y="657.3" width="11.99" height="4.5" fill="#ff6600"/>
<rect x="348.51" y="661.8" width="11.99" height="3.7" fill="#111111"/>
<rect x="348.51" y="665.5" width="11.99" height="2.07" fill="#666666"/>
<rect x="348.51" y="667.57" width="11.99" height="2.07" fill="#666666"/>
<rect x="348.51" y="669.63" width="11.99" height="2.07" fill="#666666"/>
<rect x="348.51" y="671.7" width="11.99" height="2.07" fill="#666666"/>
<rect x="348.51" y="673.77" width="11.99" height="2.07" fill="#666666"/>
<rect x="348.51" y="675.83" width="11.99" height="2.07" fill="#666666"/>
<line x1="348.51" x2="360.5" y1="402.3" y2="402.3" class="olB"/>
<line x1="348.51" x2="360.5" y1="404.2" y2="404.2" class="olB"/>
<line x1="348.51" x2="360.5" y1="407.6" y2="407.6" class="olB"/>
<line x1="348.51" x2="360.5" y1="410.3" y2="410.3" class="olB"/>
<line x1="348.51" x2="360.5" y1="420.2" y2="420.2" class="olB"/>
<line x1="348.51" x2="360.5" y1="558.3" y2="558.3" class="olB"/>
<line x1="348.51" x2="360.5" y1="560.5" y2="560.5" class="olB"/>
<line x1="348.51" x2="360.5" y1="565" y2="565" class="olB"/>
<line x1="348.51" x2="360.5" y1="566.72" y2="566.72" class="olB"/>
<line x1="348.51" x2="360.5" y1="568.44" y2="568.44" class="olB"/>
<line x1="348.51" x2="360.5" y1="570.16" y2="570.16" class="olB"/>
<line x1="348.51" x2="360.5" y1="571.88" y2="571.88" class="olB"/>
<line x1="348.51" x2="360.5" y1="573.6" y2="573.6" class="olB"/>
<line x1="348.51" x2="360.5" y1="578.4" y2="578.4" class="olB"/>
<line x1="348.51" x2="360.5" y1="583.2" y2="583.2" class="olB"/>
<line x1="348.51" x2="360.5" y1="588" y2="588" class="olB"/>
<line x1="348.51" x2="360.5" y1="596.1" y2="596.1" class="olB"/>
<line x1="348.51" x2="360.5" y1="605.6" y2="605.6" class="olB"/>
<line x1="348.51" x2="360.5" y1="614.9" y2="614.9" class="olB"/>
<line x1="348.51" x2="360.5" y1="625.6" y2="625.6" class="olB"/>
<line x1="348.51" x2="360.5" y1="638.8" y2="638.8" class="olB"/>
<line x1="348.51" x2="360.5" y1="654" y2="654" class="olB"/>
<line x1="348.51" x2="360.5" y1="655.3" y2="655.3" class="olB"/>
<line x1="348.51" x2="360.5" y1="657.3" y2="657.3" class="olB"/>
<line x1="348.51" x2="360.5" y1="661.8" y2="661.8" class="olB"/>
<line x1="348.51" x2="360.5" y1="665.5" y2="665.5" class="olB"/>
<line x1="348.51" x2="360.5" y1="667.57" y2="667.57" class="olB"/>
<line x1="348.51" x2="360.5" y1="669.63" y2="669.63" class="olB"/>
<line x1="348.51" x2="360.5" y1="671.7" y2="671.7" class="olB"/>
<line x1="348.51" x2="360.5" y1="673.77" y2="673.77" class="olB"/>
<line x1="348.51" x2="360.5" y1="675.83" y2="675.83" class="olB"/>
<line x1="348.51" x2="360.5" y1="677.9" y2="677.9" class="olB"/>
<rect x="348.51" y="402.3" width="11.99" height="275.6" fill="none" class="olB"/>
<line x1="354.5" x2="354.5" y1="691.7" y2="693.3" stroke="#333" stroke-width="0.6"/>
<text class="xl" style="font-size:7.17px" transform="translate(351.2,694.6) rotate(90)">Station_11</text>
<rect x="365.82" y="379.2" width="67.76" height="9.9" fill="#d9d9d9"/>
<text x="399.7" y="385.8" class="st">Wijdefjorden</text>
<rect x="365.82" y="389.1" width="67.76" height="302.6" fill="#ebebeb"/>
<line x1="365.82" x2="433.58" y1="643.45" y2="643.45" stroke="#fff" stroke-width="0.5"/>
<line x1="365.82" x2="433.58" y1="574.55" y2="574.55" stroke="#fff" stroke-width="0.5"/>
<line x1="365.82" x2="433.58" y1="505.65" y2="505.65" stroke="#fff" stroke-width="0.5"/>
<line x1="365.82" x2="433.58" y1="436.75" y2="436.75" stroke="#fff" stroke-width="0.5"/>
<line x1="365.82" x2="433.58" y1="677.9" y2="677.9" stroke="#fff" stroke-width="1"/>
<line x1="365.82" x2="433.58" y1="609" y2="609" stroke="#fff" stroke-width="1"/>
<line x1="365.82" x2="433.58" y1="540.1" y2="540.1" stroke="#fff" stroke-width="1"/>
<line x1="365.82" x2="433.58" y1="471.2" y2="471.2" stroke="#fff" stroke-width="1"/>
<line x1="365.82" x2="433.58" y1="402.3" y2="402.3" stroke="#fff" stroke-width="1"/>
<line x1="373.64" x2="373.64" y1="389.1" y2="691.7" stroke="#fff" stroke-width="1"/>
<line x1="386.67" x2="386.67" y1="389.1" y2="691.7" stroke="#fff" stroke-width="1"/>
<line x1="399.7" x2="399.7" y1="389.1" y2="691.7" stroke="#fff" stroke-width="1"/>
<line x1="412.73" x2="412.73" y1="389.1" y2="691.7" stroke="#fff" stroke-width="1"/>
<line x1="425.76" x2="425.76" y1="389.1" y2="691.7" stroke="#fff" stroke-width="1"/>
<rect x="367.64" y="402.3" width="11.99" height="1.9" fill="#111111"/>
<rect x="367.64" y="404.2" width="11.99" height="4.1" fill="#0066cc"/>
<rect x="367.64" y="408.3" width="11.99" height="7.8" fill="#0066cc"/>
<rect x="367.64" y="416.1" width="11.99" height="49" fill="#0066cc"/>
<rect x="367.64" y="465.1" width="11.99" height="63.6" fill="#0066cc"/>
<rect x="367.64" y="528.7" width="11.99" height="2.4" fill="#111111"/>
<rect x="367.64" y="531.1" width="11.99" height="5.9" fill="url(#tg)"/>
<rect x="367.64" y="537" width="11.99" height="2.32" fill="#99ffff"/>
<rect x="367.64" y="539.32" width="11.99" height="2.32" fill="#99ffff"/>
<rect x="367.64" y="541.64" width="11.99" height="2.32" fill="#99ffff"/>
<rect x="367.64" y="543.96" width="11.99" height="2.32" fill="#99ffff"/>
<rect x="367.64" y="546.28" width="11.99" height="2.32" fill="#99ffff"/>
<rect x="367.64" y="548.6" width="11.99" height="9.6" fill="#99ffff"/>
<rect x="367.64" y="558.2" width="11.99" height="11.5" fill="#99ffff"/>
<rect x="367.64" y="569.7" width="11.99" height="11.8" fill="#99ffff"/>
<rect x="367.64" y="581.5" width="11.99" height="19.4" fill="#99ffff"/>
<rect x="367.64" y="600.9" width="11.99" height="19.7" fill="#99ffff"/>
<rect x="367.64" y="620.6" width="11.99" height="25.6" fill="#99ffff"/>
<rect x="367.64" y="646.2" width="11.99" height="4.3" fill="#ff6600"/>
<rect x="367.64" y="650.5" width="11.99" height="4.1" fill="#ff6600"/>
<rect x="367.64" y="654.6" width="11.99" height="13.2" fill="#ff6600"/>
<rect x="367.64" y="667.8" width="11.99" height="3.9" fill="#111111"/>
<rect x="367.64" y="671.7" width="11.99" height="1.03" fill="#666666"/>
<rect x="367.64" y="672.73" width="11.99" height="1.03" fill="#666666"/>
<rect x="367.64" y="673.77" width="11.99" height="1.03" fill="#666666"/>
<rect x="367.64" y="674.8" width="11.99" height="1.03" fill="#666666"/>
<rect x="367.64" y="675.83" width="11.99" height="1.03" fill="#666666"/>
<rect x="367.64" y="676.87" width="11.99" height="1.03" fill="#666666"/>
<line x1="367.64" x2="379.63" y1="402.3" y2="402.3" class="olB"/>
<line x1="367.64" x2="379.63" y1="404.2" y2="404.2" class="olB"/>
<line x1="367.64" x2="379.63" y1="408.3" y2="408.3" class="olB"/>
<line x1="367.64" x2="379.63" y1="416.1" y2="416.1" class="olB"/>
<line x1="367.64" x2="379.63" y1="465.1" y2="465.1" class="olB"/>
<line x1="367.64" x2="379.63" y1="528.7" y2="528.7" class="olB"/>
<line x1="367.64" x2="379.63" y1="531.1" y2="531.1" class="olB"/>
<line x1="367.64" x2="379.63" y1="537" y2="537" class="olB"/>
<line x1="367.64" x2="379.63" y1="539.32" y2="539.32" class="olB"/>
<line x1="367.64" x2="379.63" y1="541.64" y2="541.64" class="olB"/>
<line x1="367.64" x2="379.63" y1="543.96" y2="543.96" class="olB"/>
<line x1="367.64" x2="379.63" y1="546.28" y2="546.28" class="olB"/>
<line x1="367.64" x2="379.63" y1="548.6" y2="548.6" class="olB"/>
<line x1="367.64" x2="379.63" y1="558.2" y2="558.2" class="olB"/>
<line x1="367.64" x2="379.63" y1="569.7" y2="569.7" class="olB"/>
<line x1="367.64" x2="379.63" y1="581.5" y2="581.5" class="olB"/>
<line x1="367.64" x2="379.63" y1="600.9" y2="600.9" class="olB"/>
<line x1="367.64" x2="379.63" y1="620.6" y2="620.6" class="olB"/>
<line x1="367.64" x2="379.63" y1="646.2" y2="646.2" class="olB"/>
<line x1="367.64" x2="379.63" y1="650.5" y2="650.5" class="olB"/>
<line x1="367.64" x2="379.63" y1="654.6" y2="654.6" class="olB"/>
<line x1="367.64" x2="379.63" y1="667.8" y2="667.8" class="olB"/>
<line x1="367.64" x2="379.63" y1="671.7" y2="671.7" class="olB"/>
<line x1="367.64" x2="379.63" y1="672.73" y2="672.73" class="olB"/>
<line x1="367.64" x2="379.63" y1="673.77" y2="673.77" class="olB"/>
<line x1="367.64" x2="379.63" y1="674.8" y2="674.8" class="olB"/>
<line x1="367.64" x2="379.63" y1="675.83" y2="675.83" class="olB"/>
<line x1="367.64" x2="379.63" y1="676.87" y2="676.87" class="olB"/>
<line x1="367.64" x2="379.63" y1="677.9" y2="677.9" class="olB"/>
<rect x="367.64" y="402.3" width="11.99" height="275.6" fill="none" class="olB"/>
<line x1="373.64" x2="373.64" y1="691.7" y2="693.3" stroke="#333" stroke-width="0.6"/>
<text class="xl" style="font-size:7.17px" transform="translate(370.34,694.6) rotate(90)">Station_06</text>
<rect x="380.67" y="402.3" width="11.99" height="1.5" fill="#111111"/>
<rect x="380.67" y="403.8" width="11.99" height="3.1" fill="#0066cc"/>
<rect x="380.67" y="406.9" width="11.99" height="10.3" fill="#0066cc"/>
<rect x="380.67" y="417.2" width="11.99" height="26" fill="#0066cc"/>
<rect x="380.67" y="443.2" width="11.99" height="58.9" fill="#0066cc"/>
<rect x="380.67" y="502.1" width="11.99" height="1" fill="#111111"/>
<rect x="380.67" y="503.1" width="11.99" height="6.4" fill="url(#tg)"/>
<rect x="380.67" y="509.5" width="11.99" height="3.1" fill="#99ffff"/>
<rect x="380.67" y="512.6" width="11.99" height="3" fill="#99ffff"/>
<rect x="380.67" y="515.6" width="11.99" height="3.4" fill="#99ffff"/>
<rect x="380.67" y="519" width="11.99" height="3.3" fill="#99ffff"/>
<rect x="380.67" y="522.3" width="11.99" height="3.4" fill="#99ffff"/>
<rect x="380.67" y="525.7" width="11.99" height="1.9" fill="#99ffff"/>
<rect x="380.67" y="527.6" width="11.99" height="6" fill="#99ffff"/>
<rect x="380.67" y="533.6" width="11.99" height="6" fill="#99ffff"/>
<rect x="380.67" y="539.6" width="11.99" height="6.6" fill="#99ffff"/>
<rect x="380.67" y="546.2" width="11.99" height="10.2" fill="#99ffff"/>
<rect x="380.67" y="556.4" width="11.99" height="22.9" fill="#99ffff"/>
<rect x="380.67" y="579.3" width="11.99" height="30.1" fill="#99ffff"/>
<rect x="380.67" y="609.4" width="11.99" height="31" fill="#99ffff"/>
<rect x="380.67" y="640.4" width="11.99" height="2.6" fill="#ff6600"/>
<rect x="380.67" y="643" width="11.99" height="3.1" fill="#ff6600"/>
<rect x="380.67" y="646.1" width="11.99" height="16.8" fill="#ff6600"/>
<rect x="380.67" y="662.9" width="11.99" height="5.7" fill="#111111"/>
<rect x="380.67" y="668.6" width="11.99" height="1.16" fill="#666666"/>
<rect x="380.67" y="669.76" width="11.99" height="1.16" fill="#666666"/>
<rect x="380.67" y="670.92" width="11.99" height="1.16" fill="#666666"/>
<rect x="380.67" y="672.09" width="11.99" height="1.16" fill="#666666"/>
<rect x="380.67" y="673.25" width="11.99" height="1.16" fill="#666666"/>
<rect x="380.67" y="674.41" width="11.99" height="1.16" fill="#666666"/>
<rect x="380.67" y="675.58" width="11.99" height="1.16" fill="#666666"/>
<rect x="380.67" y="676.74" width="11.99" height="1.16" fill="#666666"/>
<line x1="380.67" x2="392.66" y1="402.3" y2="402.3" class="olB"/>
<line x1="380.67" x2="392.66" y1="403.8" y2="403.8" class="olB"/>
<line x1="380.67" x2="392.66" y1="406.9" y2="406.9" class="olB"/>
<line x1="380.67" x2="392.66" y1="417.2" y2="417.2" class="olB"/>
<line x1="380.67" x2="392.66" y1="443.2" y2="443.2" class="olB"/>
<line x1="380.67" x2="392.66" y1="502.1" y2="502.1" class="olB"/>
<line x1="380.67" x2="392.66" y1="503.1" y2="503.1" class="olB"/>
<line x1="380.67" x2="392.66" y1="509.5" y2="509.5" class="olB"/>
<line x1="380.67" x2="392.66" y1="512.6" y2="512.6" class="olB"/>
<line x1="380.67" x2="392.66" y1="515.6" y2="515.6" class="olB"/>
<line x1="380.67" x2="392.66" y1="519" y2="519" class="olB"/>
<line x1="380.67" x2="392.66" y1="522.3" y2="522.3" class="olB"/>
<line x1="380.67" x2="392.66" y1="525.7" y2="525.7" class="olB"/>
<line x1="380.67" x2="392.66" y1="527.6" y2="527.6" class="olB"/>
<line x1="380.67" x2="392.66" y1="533.6" y2="533.6" class="olB"/>
<line x1="380.67" x2="392.66" y1="539.6" y2="539.6" class="olB"/>
<line x1="380.67" x2="392.66" y1="546.2" y2="546.2" class="olB"/>
<line x1="380.67" x2="392.66" y1="556.4" y2="556.4" class="olB"/>
<line x1="380.67" x2="392.66" y1="579.3" y2="579.3" class="olB"/>
<line x1="380.67" x2="392.66" y1="609.4" y2="609.4" class="olB"/>
<line x1="380.67" x2="392.66" y1="640.4" y2="640.4" class="olB"/>
<line x1="380.67" x2="392.66" y1="643" y2="643" class="olB"/>
<line x1="380.67" x2="392.66" y1="646.1" y2="646.1" class="olB"/>
<line x1="380.67" x2="392.66" y1="662.9" y2="662.9" class="olB"/>
<line x1="380.67" x2="392.66" y1="668.6" y2="668.6" class="olB"/>
<line x1="380.67" x2="392.66" y1="669.76" y2="669.76" class="olB"/>
<line x1="380.67" x2="392.66" y1="670.92" y2="670.92" class="olB"/>
<line x1="380.67" x2="392.66" y1="672.09" y2="672.09" class="olB"/>
<line x1="380.67" x2="392.66" y1="673.25" y2="673.25" class="olB"/>
<line x1="380.67" x2="392.66" y1="674.41" y2="674.41" class="olB"/>
<line x1="380.67" x2="392.66" y1="675.58" y2="675.58" class="olB"/>
<line x1="380.67" x2="392.66" y1="676.74" y2="676.74" class="olB"/>
<line x1="380.67" x2="392.66" y1="677.9" y2="677.9" class="olB"/>
<rect x="380.67" y="402.3" width="11.99" height="275.6" fill="none" class="olB"/>
<line x1="386.67" x2="386.67" y1="691.7" y2="693.3" stroke="#333" stroke-width="0.6"/>
<text class="xl" style="font-size:7.17px" transform="translate(383.37,694.6) rotate(90)">Station_07</text>
<rect x="393.7" y="402.3" width="11.99" height="1.9" fill="#0066cc"/>
<rect x="393.7" y="404.2" width="11.99" height="1.8" fill="#0066cc"/>
<rect x="393.7" y="406" width="11.99" height="1.9" fill="#0066cc"/>
<rect x="393.7" y="407.9" width="11.99" height="3.1" fill="#0066cc"/>
<rect x="393.7" y="411" width="11.99" height="4.1" fill="#0066cc"/>
<rect x="393.7" y="415.1" width="11.99" height="8.2" fill="#0066cc"/>
<rect x="393.7" y="423.3" width="11.99" height="11.4" fill="#0066cc"/>
<rect x="393.7" y="434.7" width="11.99" height="22.9" fill="#0066cc"/>
<rect x="393.7" y="457.6" width="11.99" height="1.4" fill="#111111"/>
<rect x="393.7" y="459" width="11.99" height="5" fill="url(#tg)"/>
<rect x="393.7" y="464" width="11.99" height="2.5" fill="#99ffff"/>
<rect x="393.7" y="466.5" width="11.99" height="3.4" fill="#99ffff"/>
<rect x="393.7" y="469.9" width="11.99" height="3.4" fill="#99ffff"/>
<rect x="393.7" y="473.3" width="11.99" height="3.5" fill="#99ffff"/>
<rect x="393.7" y="476.8" width="11.99" height="6.1" fill="#99ffff"/>
<rect x="393.7" y="482.9" width="11.99" height="6.6" fill="#99ffff"/>
<rect x="393.7" y="489.5" width="11.99" height="6.8" fill="#99ffff"/>
<rect x="393.7" y="496.3" width="11.99" height="9" fill="#99ffff"/>
<rect x="393.7" y="505.3" width="11.99" height="10.7" fill="#99ffff"/>
<rect x="393.7" y="516" width="11.99" height="11.3" fill="#99ffff"/>
<rect x="393.7" y="527.3" width="11.99" height="14.1" fill="#99ffff"/>
<rect x="393.7" y="541.4" width="11.99" height="18.2" fill="#99ffff"/>
<rect x="393.7" y="559.6" width="11.99" height="20.1" fill="#99ffff"/>
<rect x="393.7" y="579.7" width="11.99" height="51.8" fill="#99ffff"/>
<rect x="393.7" y="631.5" width="11.99" height="2.6" fill="#ff6600"/>
<rect x="393.7" y="634.1" width="11.99" height="10.2" fill="#ff6600"/>
<rect x="393.7" y="644.3" width="11.99" height="13.2" fill="#ff6600"/>
<rect x="393.7" y="657.5" width="11.99" height="8.1" fill="#111111"/>
<rect x="393.7" y="665.6" width="11.99" height="1.54" fill="#666666"/>
<rect x="393.7" y="667.14" width="11.99" height="1.54" fill="#666666"/>
<rect x="393.7" y="668.67" width="11.99" height="1.54" fill="#666666"/>
<rect x="393.7" y="670.21" width="11.99" height="1.54" fill="#666666"/>
<rect x="393.7" y="671.75" width="11.99" height="1.54" fill="#666666"/>
<rect x="393.7" y="673.29" width="11.99" height="1.54" fill="#666666"/>
<rect x="393.7" y="674.83" width="11.99" height="1.54" fill="#666666"/>
<rect x="393.7" y="676.36" width="11.99" height="1.54" fill="#666666"/>
<line x1="393.7" x2="405.69" y1="402.3" y2="402.3" class="olB"/>
<line x1="393.7" x2="405.69" y1="404.2" y2="404.2" class="olB"/>
<line x1="393.7" x2="405.69" y1="406" y2="406" class="olB"/>
<line x1="393.7" x2="405.69" y1="407.9" y2="407.9" class="olB"/>
<line x1="393.7" x2="405.69" y1="411" y2="411" class="olB"/>
<line x1="393.7" x2="405.69" y1="415.1" y2="415.1" class="olB"/>
<line x1="393.7" x2="405.69" y1="423.3" y2="423.3" class="olB"/>
<line x1="393.7" x2="405.69" y1="434.7" y2="434.7" class="olB"/>
<line x1="393.7" x2="405.69" y1="457.6" y2="457.6" class="olB"/>
<line x1="393.7" x2="405.69" y1="459" y2="459" class="olB"/>
<line x1="393.7" x2="405.69" y1="464" y2="464" class="olB"/>
<line x1="393.7" x2="405.69" y1="466.5" y2="466.5" class="olB"/>
<line x1="393.7" x2="405.69" y1="469.9" y2="469.9" class="olB"/>
<line x1="393.7" x2="405.69" y1="473.3" y2="473.3" class="olB"/>
<line x1="393.7" x2="405.69" y1="476.8" y2="476.8" class="olB"/>
<line x1="393.7" x2="405.69" y1="482.9" y2="482.9" class="olB"/>
<line x1="393.7" x2="405.69" y1="489.5" y2="489.5" class="olB"/>
<line x1="393.7" x2="405.69" y1="496.3" y2="496.3" class="olB"/>
<line x1="393.7" x2="405.69" y1="505.3" y2="505.3" class="olB"/>
<line x1="393.7" x2="405.69" y1="516" y2="516" class="olB"/>
<line x1="393.7" x2="405.69" y1="527.3" y2="527.3" class="olB"/>
<line x1="393.7" x2="405.69" y1="541.4" y2="541.4" class="olB"/>
<line x1="393.7" x2="405.69" y1="559.6" y2="559.6" class="olB"/>
<line x1="393.7" x2="405.69" y1="579.7" y2="579.7" class="olB"/>
<line x1="393.7" x2="405.69" y1="631.5" y2="631.5" class="olB"/>
<line x1="393.7" x2="405.69" y1="634.1" y2="634.1" class="olB"/>
<line x1="393.7" x2="405.69" y1="644.3" y2="644.3" class="olB"/>
<line x1="393.7" x2="405.69" y1="657.5" y2="657.5" class="olB"/>
<line x1="393.7" x2="405.69" y1="665.6" y2="665.6" class="olB"/>
<line x1="393.7" x2="405.69" y1="667.14" y2="667.14" class="olB"/>
<line x1="393.7" x2="405.69" y1="668.67" y2="668.67" class="olB"/>
<line x1="393.7" x2="405.69" y1="670.21" y2="670.21" class="olB"/>
<line x1="393.7" x2="405.69" y1="671.75" y2="671.75" class="olB"/>
<line x1="393.7" x2="405.69" y1="673.29" y2="673.29" class="olB"/>
<line x1="393.7" x2="405.69" y1="674.83" y2="674.83" class="olB"/>
<line x1="393.7" x2="405.69" y1="676.36" y2="676.36" class="olB"/>
<line x1="393.7" x2="405.69" y1="677.9" y2="677.9" class="olB"/>
<rect x="393.7" y="402.3" width="11.99" height="275.6" fill="none" class="olB"/>
<line x1="399.7" x2="399.7" y1="691.7" y2="693.3" stroke="#333" stroke-width="0.6"/>
<text class="xl" style="font-size:7.17px" transform="translate(396.4,694.6) rotate(90)">Station_08</text>
<rect x="406.73" y="402.3" width="11.99" height="1.9" fill="#0066cc"/>
<rect x="406.73" y="404.2" width="11.99" height="3.4" fill="#0066cc"/>
<rect x="406.73" y="407.6" width="11.99" height="3.8" fill="#0066cc"/>
<rect x="406.73" y="411.4" width="11.99" height="6.9" fill="#0066cc"/>
<rect x="406.73" y="418.3" width="11.99" height="11.5" fill="#0066cc"/>
<rect x="406.73" y="429.8" width="11.99" height="31.5" fill="#0066cc"/>
<rect x="406.73" y="461.3" width="11.99" height="68.8" fill="#0066cc"/>
<rect x="406.73" y="530.1" width="11.99" height="1" fill="#111111"/>
<rect x="406.73" y="531.1" width="11.99" height="6.9" fill="url(#tg)"/>
<rect x="406.73" y="538" width="11.99" height="2.38" fill="#99ffff"/>
<rect x="406.73" y="540.38" width="11.99" height="2.38" fill="#99ffff"/>
<rect x="406.73" y="542.77" width="11.99" height="2.38" fill="#99ffff"/>
<rect x="406.73" y="545.15" width="11.99" height="2.38" fill="#99ffff"/>
<rect x="406.73" y="547.53" width="11.99" height="2.38" fill="#99ffff"/>
<rect x="406.73" y="549.92" width="11.99" height="2.38" fill="#99ffff"/>
<rect x="406.73" y="552.3" width="11.99" height="4.8" fill="#99ffff"/>
<rect x="406.73" y="557.1" width="11.99" height="6.9" fill="#99ffff"/>
<rect x="406.73" y="564" width="11.99" height="6.1" fill="#99ffff"/>
<rect x="406.73" y="570.1" width="11.99" height="6.5" fill="#99ffff"/>
<rect x="406.73" y="576.6" width="11.99" height="7.1" fill="#99ffff"/>
<rect x="406.73" y="583.7" width="11.99" height="10.6" fill="#99ffff"/>
<rect x="406.73" y="594.3" width="11.99" height="11.3" fill="#99ffff"/>
<rect x="406.73" y="605.6" width="11.99" height="20" fill="#99ffff"/>
<rect x="406.73" y="625.6" width="11.99" height="19.8" fill="#99ffff"/>
<rect x="406.73" y="645.4" width="11.99" height="2.1" fill="#ff6600"/>
<rect x="406.73" y="647.5" width="11.99" height="4.4" fill="#ff6600"/>
<rect x="406.73" y="651.9" width="11.99" height="5.9" fill="#ff6600"/>
<rect x="406.73" y="657.8" width="11.99" height="6.4" fill="#111111"/>
<rect x="406.73" y="664.2" width="11.99" height="1.71" fill="#666666"/>
<rect x="406.73" y="665.91" width="11.99" height="1.71" fill="#666666"/>
<rect x="406.73" y="667.62" width="11.99" height="1.71" fill="#666666"/>
<rect x="406.73" y="669.34" width="11.99" height="1.71" fill="#666666"/>
<rect x="406.73" y="671.05" width="11.99" height="1.71" fill="#666666"/>
<rect x="406.73" y="672.76" width="11.99" height="1.71" fill="#666666"/>
<rect x="406.73" y="674.48" width="11.99" height="1.71" fill="#666666"/>
<rect x="406.73" y="676.19" width="11.99" height="1.71" fill="#666666"/>
<line x1="406.73" x2="418.72" y1="402.3" y2="402.3" class="olB"/>
<line x1="406.73" x2="418.72" y1="404.2" y2="404.2" class="olB"/>
<line x1="406.73" x2="418.72" y1="407.6" y2="407.6" class="olB"/>
<line x1="406.73" x2="418.72" y1="411.4" y2="411.4" class="olB"/>
<line x1="406.73" x2="418.72" y1="418.3" y2="418.3" class="olB"/>
<line x1="406.73" x2="418.72" y1="429.8" y2="429.8" class="olB"/>
<line x1="406.73" x2="418.72" y1="461.3" y2="461.3" class="olB"/>
<line x1="406.73" x2="418.72" y1="530.1" y2="530.1" class="olB"/>
<line x1="406.73" x2="418.72" y1="531.1" y2="531.1" class="olB"/>
<line x1="406.73" x2="418.72" y1="538" y2="538" class="olB"/>
<line x1="406.73" x2="418.72" y1="540.38" y2="540.38" class="olB"/>
<line x1="406.73" x2="418.72" y1="542.77" y2="542.77" class="olB"/>
<line x1="406.73" x2="418.72" y1="545.15" y2="545.15" class="olB"/>
<line x1="406.73" x2="418.72" y1="547.53" y2="547.53" class="olB"/>
<line x1="406.73" x2="418.72" y1="549.92" y2="549.92" class="olB"/>
<line x1="406.73" x2="418.72" y1="552.3" y2="552.3" class="olB"/>
<line x1="406.73" x2="418.72" y1="557.1" y2="557.1" class="olB"/>
<line x1="406.73" x2="418.72" y1="564" y2="564" class="olB"/>
<line x1="406.73" x2="418.72" y1="570.1" y2="570.1" class="olB"/>
<line x1="406.73" x2="418.72" y1="576.6" y2="576.6" class="olB"/>
<line x1="406.73" x2="418.72" y1="583.7" y2="583.7" class="olB"/>
<line x1="406.73" x2="418.72" y1="594.3" y2="594.3" class="olB"/>
<line x1="406.73" x2="418.72" y1="605.6" y2="605.6" class="olB"/>
<line x1="406.73" x2="418.72" y1="625.6" y2="625.6" class="olB"/>
<line x1="406.73" x2="418.72" y1="645.4" y2="645.4" class="olB"/>
<line x1="406.73" x2="418.72" y1="647.5" y2="647.5" class="olB"/>
<line x1="406.73" x2="418.72" y1="651.9" y2="651.9" class="olB"/>
<line x1="406.73" x2="418.72" y1="657.8" y2="657.8" class="olB"/>
<line x1="406.73" x2="418.72" y1="664.2" y2="664.2" class="olB"/>
<line x1="406.73" x2="418.72" y1="665.91" y2="665.91" class="olB"/>
<line x1="406.73" x2="418.72" y1="667.62" y2="667.62" class="olB"/>
<line x1="406.73" x2="418.72" y1="669.34" y2="669.34" class="olB"/>
<line x1="406.73" x2="418.72" y1="671.05" y2="671.05" class="olB"/>
<line x1="406.73" x2="418.72" y1="672.76" y2="672.76" class="olB"/>
<line x1="406.73" x2="418.72" y1="674.48" y2="674.48" class="olB"/>
<line x1="406.73" x2="418.72" y1="676.19" y2="676.19" class="olB"/>
<line x1="406.73" x2="418.72" y1="677.9" y2="677.9" class="olB"/>
<rect x="406.73" y="402.3" width="11.99" height="275.6" fill="none" class="olB"/>
<line x1="412.73" x2="412.73" y1="691.7" y2="693.3" stroke="#333" stroke-width="0.6"/>
<text class="xl" style="font-size:7.17px" transform="translate(409.43,694.6) rotate(90)">Station_09</text>
<rect x="419.76" y="402.3" width="11.99" height="1.9" fill="#0066cc"/>
<rect x="419.76" y="404.2" width="11.99" height="2.3" fill="#0066cc"/>
<rect x="419.76" y="406.5" width="11.99" height="3.8" fill="#0066cc"/>
<rect x="419.76" y="410.3" width="11.99" height="3.5" fill="#0066cc"/>
<rect x="419.76" y="413.8" width="11.99" height="3.7" fill="#0066cc"/>
<rect x="419.76" y="417.5" width="11.99" height="27.8" fill="#0066cc"/>
<rect x="419.76" y="445.3" width="11.99" height="97.5" fill="#0066cc"/>
<rect x="419.76" y="542.8" width="11.99" height="2.7" fill="#111111"/>
<rect x="419.76" y="545.5" width="11.99" height="4.5" fill="url(#tg)"/>
<rect x="419.76" y="550" width="11.99" height="2.55" fill="#99ffff"/>
<rect x="419.76" y="552.55" width="11.99" height="2.55" fill="#99ffff"/>
<rect x="419.76" y="555.1" width="11.99" height="3.4" fill="#99ffff"/>
<rect x="419.76" y="558.5" width="11.99" height="3.4" fill="#99ffff"/>
<rect x="419.76" y="561.9" width="11.99" height="3.4" fill="#99ffff"/>
<rect x="419.76" y="565.3" width="11.99" height="3.5" fill="#99ffff"/>
<rect x="419.76" y="568.8" width="11.99" height="4.1" fill="#99ffff"/>
<rect x="419.76" y="572.9" width="11.99" height="4.8" fill="#99ffff"/>
<rect x="419.76" y="577.7" width="11.99" height="6.9" fill="#99ffff"/>
<rect x="419.76" y="584.6" width="11.99" height="10.8" fill="#99ffff"/>
<rect x="419.76" y="595.4" width="11.99" height="12.4" fill="#99ffff"/>
<rect x="419.76" y="607.8" width="11.99" height="19.1" fill="#99ffff"/>
<rect x="419.76" y="626.9" width="11.99" height="27.1" fill="#99ffff"/>
<rect x="419.76" y="654" width="11.99" height="2" fill="#ff6600"/>
<rect x="419.76" y="656" width="11.99" height="3.5" fill="#ff6600"/>
<rect x="419.76" y="659.5" width="11.99" height="5" fill="#111111"/>
<rect x="419.76" y="664.5" width="11.99" height="2.23" fill="#666666"/>
<rect x="419.76" y="666.73" width="11.99" height="2.23" fill="#666666"/>
<rect x="419.76" y="668.97" width="11.99" height="2.23" fill="#666666"/>
<rect x="419.76" y="671.2" width="11.99" height="2.23" fill="#666666"/>
<rect x="419.76" y="673.43" width="11.99" height="2.23" fill="#666666"/>
<rect x="419.76" y="675.67" width="11.99" height="2.23" fill="#666666"/>
<line x1="419.76" x2="431.75" y1="402.3" y2="402.3" class="olB"/>
<line x1="419.76" x2="431.75" y1="404.2" y2="404.2" class="olB"/>
<line x1="419.76" x2="431.75" y1="406.5" y2="406.5" class="olB"/>
<line x1="419.76" x2="431.75" y1="410.3" y2="410.3" class="olB"/>
<line x1="419.76" x2="431.75" y1="413.8" y2="413.8" class="olB"/>
<line x1="419.76" x2="431.75" y1="417.5" y2="417.5" class="olB"/>
<line x1="419.76" x2="431.75" y1="445.3" y2="445.3" class="olB"/>
<line x1="419.76" x2="431.75" y1="542.8" y2="542.8" class="olB"/>
<line x1="419.76" x2="431.75" y1="545.5" y2="545.5" class="olB"/>
<line x1="419.76" x2="431.75" y1="550" y2="550" class="olB"/>
<line x1="419.76" x2="431.75" y1="552.55" y2="552.55" class="olB"/>
<line x1="419.76" x2="431.75" y1="555.1" y2="555.1" class="olB"/>
<line x1="419.76" x2="431.75" y1="558.5" y2="558.5" class="olB"/>
<line x1="419.76" x2="431.75" y1="561.9" y2="561.9" class="olB"/>
<line x1="419.76" x2="431.75" y1="565.3" y2="565.3" class="olB"/>
<line x1="419.76" x2="431.75" y1="568.8" y2="568.8" class="olB"/>
<line x1="419.76" x2="431.75" y1="572.9" y2="572.9" class="olB"/>
<line x1="419.76" x2="431.75" y1="577.7" y2="577.7" class="olB"/>
<line x1="419.76" x2="431.75" y1="584.6" y2="584.6" class="olB"/>
<line x1="419.76" x2="431.75" y1="595.4" y2="595.4" class="olB"/>
<line x1="419.76" x2="431.75" y1="607.8" y2="607.8" class="olB"/>
<line x1="419.76" x2="431.75" y1="626.9" y2="626.9" class="olB"/>
<line x1="419.76" x2="431.75" y1="654" y2="654" class="olB"/>
<line x1="419.76" x2="431.75" y1="656" y2="656" class="olB"/>
<line x1="419.76" x2="431.75" y1="659.5" y2="659.5" class="olB"/>
<line x1="419.76" x2="431.75" y1="664.5" y2="664.5" class="olB"/>
<line x1="419.76" x2="431.75" y1="666.73" y2="666.73" class="olB"/>
<line x1="419.76" x2="431.75" y1="668.97" y2="668.97" class="olB"/>
<line x1="419.76" x2="431.75" y1="671.2" y2="671.2" class="olB"/>
<line x1="419.76" x2="431.75" y1="673.43" y2="673.43" class="olB"/>
<line x1="419.76" x2="431.75" y1="675.67" y2="675.67" class="olB"/>
<line x1="419.76" x2="431.75" y1="677.9" y2="677.9" class="olB"/>
<rect x="419.76" y="402.3" width="11.99" height="275.6" fill="none" class="olB"/>
<line x1="425.76" x2="425.76" y1="691.7" y2="693.3" stroke="#333" stroke-width="0.6"/>
<text class="xl" style="font-size:7.17px" transform="translate(422.46,694.6) rotate(90)">Station_10</text>
<line x1="34" x2="35.6" y1="677.9" y2="677.9" stroke="#333" stroke-width="0.6"/>
<text x="32.8" y="680.1" class="yl" style="font-size:5.4px">0</text>
<line x1="34" x2="35.6" y1="609" y2="609" stroke="#333" stroke-width="0.6"/>
<text x="32.8" y="611.2" class="yl" style="font-size:5.4px">25</text>
<line x1="34" x2="35.6" y1="540.1" y2="540.1" stroke="#333" stroke-width="0.6"/>
<text x="32.8" y="542.3" class="yl" style="font-size:5.4px">50</text>
<line x1="34" x2="35.6" y1="471.2" y2="471.2" stroke="#333" stroke-width="0.6"/>
<text x="32.8" y="473.4" class="yl" style="font-size:5.4px">75</text>
<line x1="34" x2="35.6" y1="402.3" y2="402.3" stroke="#333" stroke-width="0.6"/>
<text x="32.8" y="404.5" class="yl" style="font-size:5.4px">100</text>
<text x="436.9" y="93.5" class="lt">Genus</text>
<rect x="437.4" y="98.4" width="9.6" height="9.98" fill="#9999cc" stroke="#333" stroke-width="0.7"/>
<text x="451.3" y="105.59" class="li it">Actinocyclus</text>
<rect x="437.4" y="108.98" width="9.6" height="9.98" fill="#000099" stroke="#333" stroke-width="0.7"/>
<text x="451.3" y="116.17" class="li it">Arcocellulus</text>
<rect x="437.4" y="119.56" width="9.6" height="9.98" fill="#0099ff" stroke="#333" stroke-width="0.7"/>
<text x="451.3" y="126.75" class="li it">Chaetoceros</text>
<rect x="437.4" y="130.14" width="9.6" height="9.98" fill="#99ffff" stroke="#333" stroke-width="0.7"/>
<text x="451.3" y="137.33" class="li it">Corethron</text>
<rect x="437.4" y="140.72" width="9.6" height="9.98" fill="#cc0000" stroke="#333" stroke-width="0.7"/>
<text x="451.3" y="147.91" class="li it">Eucampia</text>
<rect x="437.4" y="151.3" width="9.6" height="9.98" fill="#ffcc00" stroke="#333" stroke-width="0.7"/>
<text x="451.3" y="158.49" class="li it">Fragilariopsis</text>
<rect x="437.4" y="161.88" width="9.6" height="9.98" fill="#ff9966" stroke="#333" stroke-width="0.7"/>
<text x="451.3" y="169.07" class="li it">Leptocylindrus</text>
<rect x="437.4" y="172.46" width="9.6" height="9.98" fill="#ffffcc" stroke="#333" stroke-width="0.7"/>
<text x="451.3" y="179.65" class="li">Polar−centric</text>
<rect x="437.4" y="183.04" width="9.6" height="9.98" fill="#336633" stroke="#333" stroke-width="0.7"/>
<text x="451.3" y="190.23" class="li it">Pseudo−nitzschia</text>
<rect x="437.4" y="193.62" width="9.6" height="9.98" fill="#33cc33" stroke="#333" stroke-width="0.7"/>
<text x="451.3" y="200.81" class="li">Raphid−pennate</text>
<rect x="437.4" y="204.2" width="9.6" height="9.98" fill="#ccffcc" stroke="#333" stroke-width="0.7"/>
<text x="451.3" y="211.39" class="li it">Rhizosolenia</text>
<rect x="437.4" y="214.78" width="9.6" height="9.98" fill="#ffcccc" stroke="#333" stroke-width="0.7"/>
<text x="451.3" y="221.97" class="li it">Shionodiscus</text>
<rect x="437.4" y="225.36" width="9.6" height="9.98" fill="#ffff00" stroke="#333" stroke-width="0.7"/>
<text x="451.3" y="232.55" class="li it">Skeletonema</text>
<rect x="437.4" y="235.94" width="9.6" height="9.98" fill="#ffffcc" stroke="#333" stroke-width="0.7"/>
<text x="451.3" y="243.13" class="li it">Thalassiosira</text>
<text x="437.6" y="520.3" class="lt lbt">Biogeography</text>
<rect x="437.9" y="525.4" width="9.4" height="9.48" fill="#0066cc" stroke="#333" stroke-width="0.7"/>
<text x="449.4" y="531.84" class="li lb">Arctic</text>
<rect x="437.9" y="535.48" width="9.4" height="9.48" fill="#99ffff" stroke="#333" stroke-width="0.7"/>
<text x="449.4" y="541.92" class="li lb">Arctic−temperate</text>
<rect x="437.9" y="545.56" width="9.4" height="9.48" fill="#ff6600" stroke="#333" stroke-width="0.7"/>
<text x="449.4" y="552" class="li lb">Cosmopolitan</text>
<rect x="437.9" y="555.64" width="9.4" height="9.48" fill="#666666" stroke="#333" stroke-width="0.7"/>
<text x="449.4" y="562.08" class="li lb">NA</text>
<text x="0.9" y="15" class="tag">A</text>
<text x="0.9" y="392.9" class="tag">B</text>
<text class="yt" style="font-size:9.85px" transform="translate(20.8,167.5) rotate(-90)">Relative read abundance</text>
<text class="yt" style="font-size:9.55px" transform="translate(20.9,540.3) rotate(-90)">Relative read abundance</text>
</svg>
</body></html>
